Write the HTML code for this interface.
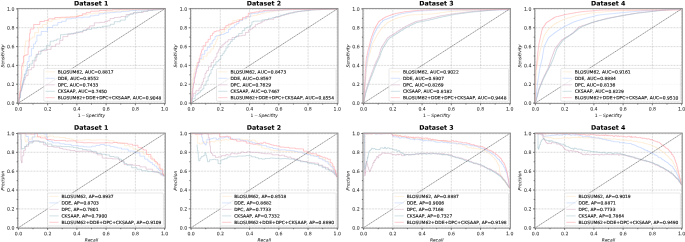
<!DOCTYPE html>
<html><head><meta charset="utf-8"><title>ROC and PR curves</title>
<style>html,body{margin:0;padding:0;background:#fff}
svg{display:block}
.s{filter:blur(0.35px)}
.x{filter:blur(0.12px)}
text{font-family:"DejaVu Sans","Liberation Sans",sans-serif;fill:#141414;text-rendering:geometricPrecision;stroke:#141414;stroke-width:0.13px}
.t{font-size:4.65px;fill:#2e2e2e;stroke:#2e2e2e;stroke-width:0.04px}
.l{font-size:4.45px}
.a{font-size:4.4px;font-style:italic;fill:#2a2a2a;stroke:#2a2a2a;stroke-width:0.05px}
.h{font-size:6.27px;font-weight:bold;fill:#000;stroke:#000;stroke-width:0.06px}
</style></head>
<body>
<svg width="685" height="242" viewBox="0 0 685 242">
<rect width="685" height="242" fill="#fff"/>
<g class="s">
<g><path d="M18.4 8.4V103.6M17.7 8.9H165.3M47.6 8.4V103.6M17.7 27.7H165.3M76.9 8.4V103.6M17.7 46.6H165.3M106.1 8.4V103.6M17.7 65.4H165.3M135.4 8.4V103.6M17.7 84.3H165.3M164.6 8.4V103.6M17.7 103.1H165.3" stroke="#8c8c8c" stroke-width="0.45" stroke-dasharray="0.7 0.8" fill="none"/><path d="M18.4 103.1H18.6V99.9H18.8H19.2V95.2H19.5H19.9V91.2H20.2H20.6V86.1H20.9H21.2V80.5H21.5H21.6V78.5H21.7H21.8V76.9H21.8H22.3V70.2H22.9H23.1V67.0H23.4H23.6V63.8H23.8H24.1V56.3H24.4H24.6V51.9H24.8V45.1H25.6V41.0H26.4H28.9V38.9H31.4H32.2V37.1H32.9H34.6V32.6H36.3H38.4V27.4H40.6H42.5V24.5H44.4H46.9V21.4H49.5H52.1V19.4H54.7H55.7V19.0H56.7H59.8V18.0H63.0H65.6V17.2H68.1H69.9V16.7H71.7H72.5V16.4H73.3H76.7V15.5H80.0H82.2V14.8H84.4H87.3V13.8H90.3H93.7V13.1H97.1H100.1V12.5H103.0H106.6V11.8H110.2H112.2V11.5H114.2H117.4V11.0H120.6H122.8V10.6H125.0H128.6V10.2H132.2H135.6V9.9H139.0H140.0V9.8H141.0H142.2V9.7H143.4H144.8V9.6H146.2H150.0V9.3H153.8H156.0V9.1H158.2H161.0V8.9H163.8H164.6" stroke="#ffe0b8" stroke-width="0.48" fill="none" stroke-linejoin="round"/><path d="M18.4 103.1H19.0V98.4H19.5H19.9V94.5H20.3H20.7V91.0H21.0H21.5V85.9H22.0H22.7V80.8H23.3H24.3V73.9H25.3H26.3V68.8H27.3V61.6H29.0V56.1H30.6H31.4V48.7H32.1H33.6V43.9H35.0H35.5V41.7H35.9H36.9V35.2H37.9H41.2V31.5H44.4H47.4V27.5H50.4H52.7V25.2H55.1H57.8V22.5H60.4H61.7V21.3H63.0H66.1V18.8H69.2H71.8V18.2H74.4H76.0V17.8H77.6H78.6V17.7H79.6H83.0V17.1H86.4H90.1V15.8H93.8H94.8V15.3H95.8H98.9V13.8H102.0H103.9V13.0H105.9H107.1V12.9H108.3H109.9V12.6H111.5H114.7V12.1H117.9H121.3V11.5H124.7H125.7V11.3H126.7H129.2V10.7H131.8H132.8V10.5H133.8H136.8V10.1H139.8H141.6V9.9H143.4H146.8V9.6H150.2H154.0V9.2H157.8H160.2V9.0H162.6H163.6V8.9H164.6" stroke="#a9c4ff" stroke-width="0.48" fill="none" stroke-linejoin="round"/><path d="M18.4 103.1H18.7V99.6H19.1H19.3V97.6H19.5H20.1V92.5H20.6H20.8V91.0H21.0H21.4V88.3H21.7H22.3V84.4H22.8H23.7V79.5H24.7H25.1V77.3H25.5H25.9V75.5H26.3H28.1V69.8H29.9H31.4V67.7H32.8H34.0V61.0H35.1H36.1V54.4H37.2H38.5V51.4H39.8H42.0V50.6H44.1H46.4V49.4H48.7H51.1V46.3H53.4H55.7V44.0H58.1H59.7V40.3H61.2H62.9V36.6H64.6H67.9V34.1H71.3H73.6V33.0H76.0H78.1V32.2H80.3H83.0V30.2H85.8H87.0V28.2H88.2H89.6V25.9H91.0H94.3V22.8H97.6H100.0V22.4H102.4H104.7V21.5H107.0H107.7V20.7H108.3H110.0V18.5H111.7H114.2V17.5H116.8H117.6V17.3H118.4H120.9V16.5H123.5H126.1V14.5H128.8H129.7V13.8H130.6H133.4V12.9H136.1H138.3V12.5H140.5H143.2V11.2H146.0H147.7V10.4H149.5H152.5V9.8H155.4H158.4V9.2H161.4H162.2V9.1H163.0H163.8V8.9H164.6" stroke="#cfa3bb" stroke-width="0.48" fill="none" stroke-linejoin="round"/><path d="M18.4 103.1H19.0V97.6H19.7H20.5V90.2H21.4H21.8V87.1H22.1H22.6V82.8H23.1H23.7V77.7H24.2H24.7V74.3H25.2H26.0V70.7H26.9H27.7V67.5H28.6H29.5V64.0H30.5H32.3V60.3H34.1H35.0V57.1H35.9H37.1V54.1H38.3H40.9V50.2H43.4H44.0V49.1H44.6H46.4V45.4H48.2H50.2V41.2H52.3H54.0V40.3H55.7H56.9V39.0H58.2H60.5V34.7H62.8H64.4V34.3H66.0H67.3V34.0H68.7H70.9V33.4H73.1H76.0V32.2H79.0H80.1V31.5H81.3H83.0V30.4H84.7H86.4V29.4H88.1H91.5V28.0H94.8H97.0V27.3H99.1H102.5V26.3H105.9H107.3V25.9H108.7H110.3V24.3H111.9H114.3V21.7H116.8H120.3V20.1H123.8H125.3V17.0H126.9H127.9V15.1H128.9H130.0V14.1H131.0H133.3V12.6H135.6H137.0V12.2H138.4H141.6V11.2H144.7H148.1V10.3H151.5H152.9V10.0H154.3H155.8V9.7H157.4H160.6V9.0H163.8H164.2V8.9H164.6" stroke="#98bcc6" stroke-width="0.48" fill="none" stroke-linejoin="round"/><path d="M18.4 103.1H18.9V96.8H19.3H19.6V93.2H19.8H20.0V90.8H20.2H20.3V87.6H20.4H20.7V81.2H21.0H21.1V78.1H21.2H21.3V74.5H21.5V70.5V66.5H22.3V63.1H23.2H23.5V55.9H23.9H25.0V55.2H26.0H26.7V54.6H27.4H28.1V47.6H28.8H29.1V40.8H29.4H29.6V33.3H29.8H30.3V29.0H30.8H33.7V24.5H36.6H39.8V21.5H43.1H44.4V20.4H45.7H48.6V18.8H51.5H54.8V17.5H58.1H60.9V17.3H63.7H66.1V17.2H68.5H70.1V17.1H71.7H73.5V17.0H75.3H76.7V16.4H78.0H79.0V15.7H79.9H82.3V13.8H84.7H86.2V12.4H87.6H90.7V11.2H93.8H94.8V11.1H95.8H99.4V10.5H103.0H106.0V10.2H109.0H112.6V9.7H116.2H119.8V9.4H123.4H127.0V9.3H130.6H133.2V9.2H135.8H137.4H140.4V9.1H143.4H146.2H149.8H152.6V9.0H155.4H157.8V8.9H160.2H164.2H164.6" stroke="#ff9098" stroke-width="0.48" fill="none" stroke-linejoin="round"/><path d="M18.4 103.1L164.6 8.9" stroke="#333" stroke-width="0.5" stroke-dasharray="1.6 0.5" fill="none"/><path d="M18.40 8.4v1.3M18.40 103.6v-1.3M17.7 8.90h1.3M165.3 8.90h-1.3M19.86 8.4v1.3M19.86 103.6v-1.3M17.7 9.84h1.3M165.3 9.84h-1.3M21.32 8.4v1.3M21.32 103.6v-1.3M17.7 10.78h1.3M165.3 10.78h-1.3M22.79 8.4v1.3M22.79 103.6v-1.3M17.7 11.73h1.3M165.3 11.73h-1.3M24.25 8.4v1.3M24.25 103.6v-1.3M17.7 12.67h1.3M165.3 12.67h-1.3M25.71 8.4v1.3M25.71 103.6v-1.3M17.7 13.61h1.3M165.3 13.61h-1.3M27.17 8.4v1.3M27.17 103.6v-1.3M17.7 14.55h1.3M165.3 14.55h-1.3M28.63 8.4v1.3M28.63 103.6v-1.3M17.7 15.49h1.3M165.3 15.49h-1.3M30.10 8.4v1.3M30.10 103.6v-1.3M17.7 16.44h1.3M165.3 16.44h-1.3M31.56 8.4v1.3M31.56 103.6v-1.3M17.7 17.38h1.3M165.3 17.38h-1.3M33.02 8.4v1.3M33.02 103.6v-1.3M17.7 18.32h1.3M165.3 18.32h-1.3M34.48 8.4v1.3M34.48 103.6v-1.3M17.7 19.26h1.3M165.3 19.26h-1.3M35.94 8.4v1.3M35.94 103.6v-1.3M17.7 20.20h1.3M165.3 20.20h-1.3M37.41 8.4v1.3M37.41 103.6v-1.3M17.7 21.15h1.3M165.3 21.15h-1.3M38.87 8.4v1.3M38.87 103.6v-1.3M17.7 22.09h1.3M165.3 22.09h-1.3M40.33 8.4v1.3M40.33 103.6v-1.3M17.7 23.03h1.3M165.3 23.03h-1.3M41.79 8.4v1.3M41.79 103.6v-1.3M17.7 23.97h1.3M165.3 23.97h-1.3M43.25 8.4v1.3M43.25 103.6v-1.3M17.7 24.91h1.3M165.3 24.91h-1.3M44.72 8.4v1.3M44.72 103.6v-1.3M17.7 25.86h1.3M165.3 25.86h-1.3M46.18 8.4v1.3M46.18 103.6v-1.3M17.7 26.80h1.3M165.3 26.80h-1.3M47.64 8.4v1.3M47.64 103.6v-1.3M17.7 27.74h1.3M165.3 27.74h-1.3M49.10 8.4v1.3M49.10 103.6v-1.3M17.7 28.68h1.3M165.3 28.68h-1.3M50.56 8.4v1.3M50.56 103.6v-1.3M17.7 29.62h1.3M165.3 29.62h-1.3M52.03 8.4v1.3M52.03 103.6v-1.3M17.7 30.57h1.3M165.3 30.57h-1.3M53.49 8.4v1.3M53.49 103.6v-1.3M17.7 31.51h1.3M165.3 31.51h-1.3M54.95 8.4v1.3M54.95 103.6v-1.3M17.7 32.45h1.3M165.3 32.45h-1.3M56.41 8.4v1.3M56.41 103.6v-1.3M17.7 33.39h1.3M165.3 33.39h-1.3M57.87 8.4v1.3M57.87 103.6v-1.3M17.7 34.33h1.3M165.3 34.33h-1.3M59.34 8.4v1.3M59.34 103.6v-1.3M17.7 35.28h1.3M165.3 35.28h-1.3M60.80 8.4v1.3M60.80 103.6v-1.3M17.7 36.22h1.3M165.3 36.22h-1.3M62.26 8.4v1.3M62.26 103.6v-1.3M17.7 37.16h1.3M165.3 37.16h-1.3M63.72 8.4v1.3M63.72 103.6v-1.3M17.7 38.10h1.3M165.3 38.10h-1.3M65.18 8.4v1.3M65.18 103.6v-1.3M17.7 39.04h1.3M165.3 39.04h-1.3M66.65 8.4v1.3M66.65 103.6v-1.3M17.7 39.99h1.3M165.3 39.99h-1.3M68.11 8.4v1.3M68.11 103.6v-1.3M17.7 40.93h1.3M165.3 40.93h-1.3M69.57 8.4v1.3M69.57 103.6v-1.3M17.7 41.87h1.3M165.3 41.87h-1.3M71.03 8.4v1.3M71.03 103.6v-1.3M17.7 42.81h1.3M165.3 42.81h-1.3M72.49 8.4v1.3M72.49 103.6v-1.3M17.7 43.75h1.3M165.3 43.75h-1.3M73.96 8.4v1.3M73.96 103.6v-1.3M17.7 44.70h1.3M165.3 44.70h-1.3M75.42 8.4v1.3M75.42 103.6v-1.3M17.7 45.64h1.3M165.3 45.64h-1.3M76.88 8.4v1.3M76.88 103.6v-1.3M17.7 46.58h1.3M165.3 46.58h-1.3M78.34 8.4v1.3M78.34 103.6v-1.3M17.7 47.52h1.3M165.3 47.52h-1.3M79.80 8.4v1.3M79.80 103.6v-1.3M17.7 48.46h1.3M165.3 48.46h-1.3M81.27 8.4v1.3M81.27 103.6v-1.3M17.7 49.41h1.3M165.3 49.41h-1.3M82.73 8.4v1.3M82.73 103.6v-1.3M17.7 50.35h1.3M165.3 50.35h-1.3M84.19 8.4v1.3M84.19 103.6v-1.3M17.7 51.29h1.3M165.3 51.29h-1.3M85.65 8.4v1.3M85.65 103.6v-1.3M17.7 52.23h1.3M165.3 52.23h-1.3M87.11 8.4v1.3M87.11 103.6v-1.3M17.7 53.17h1.3M165.3 53.17h-1.3M88.58 8.4v1.3M88.58 103.6v-1.3M17.7 54.12h1.3M165.3 54.12h-1.3M90.04 8.4v1.3M90.04 103.6v-1.3M17.7 55.06h1.3M165.3 55.06h-1.3M91.50 8.4v1.3M91.50 103.6v-1.3M17.7 56.00h1.3M165.3 56.00h-1.3M92.96 8.4v1.3M92.96 103.6v-1.3M17.7 56.94h1.3M165.3 56.94h-1.3M94.42 8.4v1.3M94.42 103.6v-1.3M17.7 57.88h1.3M165.3 57.88h-1.3M95.89 8.4v1.3M95.89 103.6v-1.3M17.7 58.83h1.3M165.3 58.83h-1.3M97.35 8.4v1.3M97.35 103.6v-1.3M17.7 59.77h1.3M165.3 59.77h-1.3M98.81 8.4v1.3M98.81 103.6v-1.3M17.7 60.71h1.3M165.3 60.71h-1.3M100.27 8.4v1.3M100.27 103.6v-1.3M17.7 61.65h1.3M165.3 61.65h-1.3M101.73 8.4v1.3M101.73 103.6v-1.3M17.7 62.59h1.3M165.3 62.59h-1.3M103.20 8.4v1.3M103.20 103.6v-1.3M17.7 63.54h1.3M165.3 63.54h-1.3M104.66 8.4v1.3M104.66 103.6v-1.3M17.7 64.48h1.3M165.3 64.48h-1.3M106.12 8.4v1.3M106.12 103.6v-1.3M17.7 65.42h1.3M165.3 65.42h-1.3M107.58 8.4v1.3M107.58 103.6v-1.3M17.7 66.36h1.3M165.3 66.36h-1.3M109.04 8.4v1.3M109.04 103.6v-1.3M17.7 67.30h1.3M165.3 67.30h-1.3M110.51 8.4v1.3M110.51 103.6v-1.3M17.7 68.25h1.3M165.3 68.25h-1.3M111.97 8.4v1.3M111.97 103.6v-1.3M17.7 69.19h1.3M165.3 69.19h-1.3M113.43 8.4v1.3M113.43 103.6v-1.3M17.7 70.13h1.3M165.3 70.13h-1.3M114.89 8.4v1.3M114.89 103.6v-1.3M17.7 71.07h1.3M165.3 71.07h-1.3M116.35 8.4v1.3M116.35 103.6v-1.3M17.7 72.01h1.3M165.3 72.01h-1.3M117.82 8.4v1.3M117.82 103.6v-1.3M17.7 72.96h1.3M165.3 72.96h-1.3M119.28 8.4v1.3M119.28 103.6v-1.3M17.7 73.90h1.3M165.3 73.90h-1.3M120.74 8.4v1.3M120.74 103.6v-1.3M17.7 74.84h1.3M165.3 74.84h-1.3M122.20 8.4v1.3M122.20 103.6v-1.3M17.7 75.78h1.3M165.3 75.78h-1.3M123.66 8.4v1.3M123.66 103.6v-1.3M17.7 76.72h1.3M165.3 76.72h-1.3M125.13 8.4v1.3M125.13 103.6v-1.3M17.7 77.67h1.3M165.3 77.67h-1.3M126.59 8.4v1.3M126.59 103.6v-1.3M17.7 78.61h1.3M165.3 78.61h-1.3M128.05 8.4v1.3M128.05 103.6v-1.3M17.7 79.55h1.3M165.3 79.55h-1.3M129.51 8.4v1.3M129.51 103.6v-1.3M17.7 80.49h1.3M165.3 80.49h-1.3M130.97 8.4v1.3M130.97 103.6v-1.3M17.7 81.43h1.3M165.3 81.43h-1.3M132.44 8.4v1.3M132.44 103.6v-1.3M17.7 82.38h1.3M165.3 82.38h-1.3M133.90 8.4v1.3M133.90 103.6v-1.3M17.7 83.32h1.3M165.3 83.32h-1.3M135.36 8.4v1.3M135.36 103.6v-1.3M17.7 84.26h1.3M165.3 84.26h-1.3M136.82 8.4v1.3M136.82 103.6v-1.3M17.7 85.20h1.3M165.3 85.20h-1.3M138.28 8.4v1.3M138.28 103.6v-1.3M17.7 86.14h1.3M165.3 86.14h-1.3M139.75 8.4v1.3M139.75 103.6v-1.3M17.7 87.09h1.3M165.3 87.09h-1.3M141.21 8.4v1.3M141.21 103.6v-1.3M17.7 88.03h1.3M165.3 88.03h-1.3M142.67 8.4v1.3M142.67 103.6v-1.3M17.7 88.97h1.3M165.3 88.97h-1.3M144.13 8.4v1.3M144.13 103.6v-1.3M17.7 89.91h1.3M165.3 89.91h-1.3M145.59 8.4v1.3M145.59 103.6v-1.3M17.7 90.85h1.3M165.3 90.85h-1.3M147.06 8.4v1.3M147.06 103.6v-1.3M17.7 91.80h1.3M165.3 91.80h-1.3M148.52 8.4v1.3M148.52 103.6v-1.3M17.7 92.74h1.3M165.3 92.74h-1.3M149.98 8.4v1.3M149.98 103.6v-1.3M17.7 93.68h1.3M165.3 93.68h-1.3M151.44 8.4v1.3M151.44 103.6v-1.3M17.7 94.62h1.3M165.3 94.62h-1.3M152.90 8.4v1.3M152.90 103.6v-1.3M17.7 95.56h1.3M165.3 95.56h-1.3M154.37 8.4v1.3M154.37 103.6v-1.3M17.7 96.51h1.3M165.3 96.51h-1.3M155.83 8.4v1.3M155.83 103.6v-1.3M17.7 97.45h1.3M165.3 97.45h-1.3M157.29 8.4v1.3M157.29 103.6v-1.3M17.7 98.39h1.3M165.3 98.39h-1.3M158.75 8.4v1.3M158.75 103.6v-1.3M17.7 99.33h1.3M165.3 99.33h-1.3M160.21 8.4v1.3M160.21 103.6v-1.3M17.7 100.27h1.3M165.3 100.27h-1.3M161.68 8.4v1.3M161.68 103.6v-1.3M17.7 101.22h1.3M165.3 101.22h-1.3M163.14 8.4v1.3M163.14 103.6v-1.3M17.7 102.16h1.3M165.3 102.16h-1.3M164.60 8.4v1.3M164.60 103.6v-1.3M17.7 103.10h1.3M165.3 103.10h-1.3" stroke="#c2c2c2" stroke-width="0.45" fill="none"/><rect x="17.7" y="8.4" width="147.6" height="95.2" fill="none" stroke="#868686" stroke-width="0.85"/><path d="M18.40 103.6v1.7M17.7 8.90h-1.7M33.02 103.6v1.0M17.7 18.32h-1.0M47.64 103.6v1.7M17.7 27.74h-1.7M62.26 103.6v1.0M17.7 37.16h-1.0M76.88 103.6v1.7M17.7 46.58h-1.7M91.50 103.6v1.0M17.7 56.00h-1.0M106.12 103.6v1.7M17.7 65.42h-1.7M120.74 103.6v1.0M17.7 74.84h-1.0M135.36 103.6v1.7M17.7 84.26h-1.7M149.98 103.6v1.0M17.7 93.68h-1.0M164.60 103.6v1.7M17.7 103.10h-1.7" stroke="#222" stroke-width="0.6" fill="none"/><rect x="43.8" y="68.4" width="119.6" height="32.9" rx="1.2" fill="#fff" fill-opacity="0.8" stroke="#d0d0d0" stroke-width="0.5"/><path d="M45.5 71.9h9.3" stroke="#ffe0b8" stroke-width="0.45"/><path d="M45.5 78.3h9.3" stroke="#a9c4ff" stroke-width="0.45"/><path d="M45.5 84.8h9.3" stroke="#cfa3bb" stroke-width="0.45"/><path d="M45.5 91.3h9.3" stroke="#98bcc6" stroke-width="0.45"/><path d="M45.5 97.7h9.3" stroke="#ff9098" stroke-width="0.45"/></g>
<g><path d="M191.1 8.4V103.6M190.4 8.9H338.0M220.3 8.4V103.6M190.4 27.7H338.0M249.6 8.4V103.6M190.4 46.6H338.0M278.8 8.4V103.6M190.4 65.4H338.0M308.1 8.4V103.6M190.4 84.3H338.0M337.3 8.4V103.6M190.4 103.1H338.0" stroke="#8c8c8c" stroke-width="0.45" stroke-dasharray="0.7 0.8" fill="none"/><path d="M191.1 103.1H191.3V99.1H191.4H191.5V96.3H191.6H191.6V93.9H191.7H191.8V89.1H192.0H192.1V85.9H192.2H192.4V81.5H192.7H192.9V78.8H193.1H193.3V76.8H193.4H193.7V73.2H194.0H194.8V68.7H195.5H195.9V66.8H196.2H196.9V62.6H197.7H199.7V59.4H201.7H203.5V56.2H205.3H207.1V52.9H208.8H209.2V52.0H209.6H210.9V49.0H212.2H213.5V45.0H214.8H215.0V43.9H215.3H215.7V41.7H216.2H216.6V39.4H217.0H217.7V36.1H218.4H219.3V34.0H220.2H221.5V32.0H222.7H224.4V29.2H226.1H226.6V28.4H227.0H227.4V27.5H227.8H228.4V26.4H229.0H229.5V25.2H230.0H230.5V23.9H230.9H232.9V20.5H234.9H237.2V19.6H239.6H240.4V19.3H241.2H242.8V18.8H244.3H245.4V17.9H246.6H247.7V16.9H248.8H250.1V16.0H251.4H253.4V15.4H255.4H257.1V14.5H258.9H260.2V13.8H261.6H262.5V13.2H263.5H264.7V12.7H265.8H266.6V12.3H267.4H269.2V11.7H270.9H273.1V11.0H275.3H276.7V10.8H278.1H278.9V10.7H279.7H280.7V10.5H281.7H283.1V10.2H284.5H286.3V9.9H288.1H290.2V9.6H292.4H295.2H297.7V9.4H300.1H302.1V9.4H304.1H307.3H310.1H313.3H315.5V9.2H317.7H320.5H322.5V9.1H324.5H327.7H329.7H331.5V9.0H333.3H335.3V8.9H337.3" stroke="#ffe0b8" stroke-width="0.48" fill="none" stroke-linejoin="round"/><path d="M191.1 103.1H191.2V101.5H191.3H191.5V98.7H191.7H191.9V96.0H192.1H192.3V91.2H192.6H192.9V86.0H193.2H193.4V83.2H193.6H194.1V78.1H194.6H195.1V73.8H195.5H195.8V71.5H196.2H196.6V68.4H197.0H197.2V66.9H197.5H198.2V62.3H198.9H199.6V58.6H200.3H201.8V54.3H203.3H204.7V50.4H206.1H207.3V47.3H208.6H209.9V43.8H211.3H212.2V40.7H213.2H213.6V39.4H214.1H215.0V36.4H216.0H216.4V35.7H216.9H217.7V35.5H218.5H220.6V34.5H222.7H223.3V34.0H223.8H224.6V33.4H225.3H226.0V32.5H226.6H228.4V29.4H230.2H230.7V27.8H231.3H231.8V27.3H232.4H234.4V24.9H236.4H236.7V23.5H237.1H238.9V20.6H240.7H242.5V18.8H244.3H246.5V16.7H248.6H250.7V13.6H252.7H254.5V13.2H256.3H258.7V12.3H261.0H261.6V12.0H262.2H264.3V11.1H266.5H268.1V10.9H269.7H271.9V10.7H274.1H274.9V10.6H275.7H277.9V10.3H280.1H282.7V9.9H285.3H285.9V9.9H286.5H287.7V9.8H288.9H290.7V9.7H292.5H294.9V9.6H297.3H299.3H301.3H303.7H305.7V9.5H307.7H309.9V9.4H312.1H313.5V9.3H314.9H316.3V9.3H317.7H319.1V9.2H320.5H321.9V9.2H323.3H324.7V9.1H326.1H327.7H329.3V9.0H330.9H333.7V8.9H336.5H337.3" stroke="#a9c4ff" stroke-width="0.48" fill="none" stroke-linejoin="round"/><path d="M191.1 103.1H191.7V98.8H192.2H192.5V96.9H192.7H193.4V93.3H194.1H195.9V90.7H197.7H199.1V88.0H200.5H201.1V85.0H201.6H202.2V82.0H202.7H203.4V78.3H204.1H205.0V73.4H205.9H206.2V71.9H206.5H206.9V70.5H207.3H208.5V66.8H209.7H211.2V62.5H212.6H213.5V59.9H214.4H215.2V57.1H216.0H216.8V53.0H217.7H218.1V51.2H218.5H218.9V49.0H219.4H220.0V47.4H220.6H221.9V44.9H223.2H224.0V43.2H224.9H225.6V41.8H226.3H228.0V39.7H229.7H232.0V37.5H234.4H235.5V36.6H236.6H238.8V35.8H240.9H242.3V35.3H243.7H245.4V32.5H247.2H248.4V30.0H249.7H250.7V28.9H251.8H252.6V27.7H253.4H253.8V26.8H254.2H255.4V24.6H256.5H257.8V23.5H259.1H260.0V22.8H260.9H262.1V21.2H263.3H264.3V20.1H265.4H267.5V19.5H269.7H270.5V19.3H271.3H273.9V17.4H276.6H278.1V16.3H279.6H281.3V15.3H283.0H284.6V14.3H286.1H288.4V13.0H290.7H293.1V12.0H295.4H297.2V11.5H299.0H300.6V11.1H302.2H304.3V10.6H306.5H308.9V10.0H311.3H312.7V9.9H314.1H316.3V9.7H318.5H321.1V9.5H323.7H325.3V9.3H326.9H327.9V9.3H328.9H329.9V9.2H330.9H333.1V9.0H335.3H336.3V8.9H337.3" stroke="#cfa3bb" stroke-width="0.48" fill="none" stroke-linejoin="round"/><path d="M191.1 103.1H192.5V98.7H193.8H195.2V94.8H196.6H197.4V93.5H198.1H198.9V92.2H199.7H200.5V90.5H201.4H202.0V88.9H202.5H203.8V85.3H205.0H206.1V80.9H207.1H208.1V76.1H209.1H209.5V73.9H210.0H211.0V69.6H212.0H212.5V67.4H213.0H213.7V64.9H214.3H215.9V61.8H217.4H218.0V60.7H218.6H219.0V59.4H219.5H220.8V55.4H222.1H222.8V53.3H223.5H224.2V51.0H224.9H225.9V47.9H226.9H227.9V44.5H229.0H229.3V43.5H229.6H230.4V41.6H231.1H232.2V39.4H233.4H234.6V37.2H235.8H236.5V35.9H237.2H238.6V33.6H240.0H242.2V30.6H244.3H244.7V28.0H245.2H246.8V27.2H248.4H249.2V27.0H250.0H250.5V25.2H251.0H251.9V21.9H252.8H253.5V21.2H254.2H256.8V21.1H259.4H261.9V19.9H264.4H265.1V19.5H265.9H268.4V18.3H271.0H272.3V17.6H273.7H275.8V16.5H278.0H280.1V15.3H282.2H283.3V14.6H284.5H286.4V13.6H288.4H290.3V12.8H292.3H294.7V11.9H297.0H298.2V11.4H299.4H301.6V10.9H303.7H306.3V10.3H308.9H310.9V9.9H312.9H314.7V9.6H316.5H317.3V9.6H318.1H319.7V9.5H321.3H322.7V9.4H324.1H326.3V9.2H328.5H330.5V9.1H332.5H334.3V8.9H336.1H337.3" stroke="#98bcc6" stroke-width="0.48" fill="none" stroke-linejoin="round"/><path d="M191.1 103.1H191.4V99.1H191.7H191.9V95.1H192.1H192.2V93.2H192.3H192.7V88.0H193.0H193.4V84.1H193.7H193.9V82.5H194.0H194.4V77.3H194.9H195.0V75.8H195.2H195.4V73.4H195.7H196.1V69.1H196.6H197.0V65.6H197.5H198.0V62.2H198.5H199.1V58.3H199.7H200.1V55.2H200.5H200.8V52.9H201.1H201.4V51.0H201.7H201.9V49.4H202.1H203.2V45.7H204.4H205.7V42.2H207.0H208.1V39.3H209.1H210.4V35.6H211.6H212.4V33.3H213.2H214.0V31.6H214.8H216.1V30.9H217.5H219.8V29.7H222.1H222.7V29.4H223.3H224.4V27.5H225.4H225.8V25.6H226.3H228.3V24.2H230.4H231.7V23.2H233.0H234.1V22.3H235.2H236.5V21.5H237.9H239.3V19.8H240.7H242.5V17.5H244.3H245.6V16.4H246.9H248.3V13.1H249.8H250.6V12.8H251.4H252.6V12.4H253.7H254.5V12.2H255.3H256.1V11.9H256.9H259.1V11.1H261.2H263.4V10.5H265.6H266.6V10.4H267.6H268.6V10.3H269.6H271.0V10.2H272.4H274.6V10.0H276.8H279.2V9.8H281.6H283.8V9.6H286.0H287.8V9.5H289.6H291.2H294.0H296.0H299.6H303.2H305.2H307.6H309.9V9.2H312.1H313.3H315.7V9.2H318.1H320.7V9.1H323.3H325.9V9.0H328.5H331.3H334.9H337.3" stroke="#ff9098" stroke-width="0.48" fill="none" stroke-linejoin="round"/><path d="M191.1 103.1L337.3 8.9" stroke="#333" stroke-width="0.5" stroke-dasharray="1.6 0.5" fill="none"/><path d="M191.10 8.4v1.3M191.10 103.6v-1.3M190.4 8.90h1.3M338.0 8.90h-1.3M192.56 8.4v1.3M192.56 103.6v-1.3M190.4 9.84h1.3M338.0 9.84h-1.3M194.02 8.4v1.3M194.02 103.6v-1.3M190.4 10.78h1.3M338.0 10.78h-1.3M195.49 8.4v1.3M195.49 103.6v-1.3M190.4 11.73h1.3M338.0 11.73h-1.3M196.95 8.4v1.3M196.95 103.6v-1.3M190.4 12.67h1.3M338.0 12.67h-1.3M198.41 8.4v1.3M198.41 103.6v-1.3M190.4 13.61h1.3M338.0 13.61h-1.3M199.87 8.4v1.3M199.87 103.6v-1.3M190.4 14.55h1.3M338.0 14.55h-1.3M201.33 8.4v1.3M201.33 103.6v-1.3M190.4 15.49h1.3M338.0 15.49h-1.3M202.80 8.4v1.3M202.80 103.6v-1.3M190.4 16.44h1.3M338.0 16.44h-1.3M204.26 8.4v1.3M204.26 103.6v-1.3M190.4 17.38h1.3M338.0 17.38h-1.3M205.72 8.4v1.3M205.72 103.6v-1.3M190.4 18.32h1.3M338.0 18.32h-1.3M207.18 8.4v1.3M207.18 103.6v-1.3M190.4 19.26h1.3M338.0 19.26h-1.3M208.64 8.4v1.3M208.64 103.6v-1.3M190.4 20.20h1.3M338.0 20.20h-1.3M210.11 8.4v1.3M210.11 103.6v-1.3M190.4 21.15h1.3M338.0 21.15h-1.3M211.57 8.4v1.3M211.57 103.6v-1.3M190.4 22.09h1.3M338.0 22.09h-1.3M213.03 8.4v1.3M213.03 103.6v-1.3M190.4 23.03h1.3M338.0 23.03h-1.3M214.49 8.4v1.3M214.49 103.6v-1.3M190.4 23.97h1.3M338.0 23.97h-1.3M215.95 8.4v1.3M215.95 103.6v-1.3M190.4 24.91h1.3M338.0 24.91h-1.3M217.42 8.4v1.3M217.42 103.6v-1.3M190.4 25.86h1.3M338.0 25.86h-1.3M218.88 8.4v1.3M218.88 103.6v-1.3M190.4 26.80h1.3M338.0 26.80h-1.3M220.34 8.4v1.3M220.34 103.6v-1.3M190.4 27.74h1.3M338.0 27.74h-1.3M221.80 8.4v1.3M221.80 103.6v-1.3M190.4 28.68h1.3M338.0 28.68h-1.3M223.26 8.4v1.3M223.26 103.6v-1.3M190.4 29.62h1.3M338.0 29.62h-1.3M224.73 8.4v1.3M224.73 103.6v-1.3M190.4 30.57h1.3M338.0 30.57h-1.3M226.19 8.4v1.3M226.19 103.6v-1.3M190.4 31.51h1.3M338.0 31.51h-1.3M227.65 8.4v1.3M227.65 103.6v-1.3M190.4 32.45h1.3M338.0 32.45h-1.3M229.11 8.4v1.3M229.11 103.6v-1.3M190.4 33.39h1.3M338.0 33.39h-1.3M230.57 8.4v1.3M230.57 103.6v-1.3M190.4 34.33h1.3M338.0 34.33h-1.3M232.04 8.4v1.3M232.04 103.6v-1.3M190.4 35.28h1.3M338.0 35.28h-1.3M233.50 8.4v1.3M233.50 103.6v-1.3M190.4 36.22h1.3M338.0 36.22h-1.3M234.96 8.4v1.3M234.96 103.6v-1.3M190.4 37.16h1.3M338.0 37.16h-1.3M236.42 8.4v1.3M236.42 103.6v-1.3M190.4 38.10h1.3M338.0 38.10h-1.3M237.88 8.4v1.3M237.88 103.6v-1.3M190.4 39.04h1.3M338.0 39.04h-1.3M239.35 8.4v1.3M239.35 103.6v-1.3M190.4 39.99h1.3M338.0 39.99h-1.3M240.81 8.4v1.3M240.81 103.6v-1.3M190.4 40.93h1.3M338.0 40.93h-1.3M242.27 8.4v1.3M242.27 103.6v-1.3M190.4 41.87h1.3M338.0 41.87h-1.3M243.73 8.4v1.3M243.73 103.6v-1.3M190.4 42.81h1.3M338.0 42.81h-1.3M245.19 8.4v1.3M245.19 103.6v-1.3M190.4 43.75h1.3M338.0 43.75h-1.3M246.66 8.4v1.3M246.66 103.6v-1.3M190.4 44.70h1.3M338.0 44.70h-1.3M248.12 8.4v1.3M248.12 103.6v-1.3M190.4 45.64h1.3M338.0 45.64h-1.3M249.58 8.4v1.3M249.58 103.6v-1.3M190.4 46.58h1.3M338.0 46.58h-1.3M251.04 8.4v1.3M251.04 103.6v-1.3M190.4 47.52h1.3M338.0 47.52h-1.3M252.50 8.4v1.3M252.50 103.6v-1.3M190.4 48.46h1.3M338.0 48.46h-1.3M253.97 8.4v1.3M253.97 103.6v-1.3M190.4 49.41h1.3M338.0 49.41h-1.3M255.43 8.4v1.3M255.43 103.6v-1.3M190.4 50.35h1.3M338.0 50.35h-1.3M256.89 8.4v1.3M256.89 103.6v-1.3M190.4 51.29h1.3M338.0 51.29h-1.3M258.35 8.4v1.3M258.35 103.6v-1.3M190.4 52.23h1.3M338.0 52.23h-1.3M259.81 8.4v1.3M259.81 103.6v-1.3M190.4 53.17h1.3M338.0 53.17h-1.3M261.28 8.4v1.3M261.28 103.6v-1.3M190.4 54.12h1.3M338.0 54.12h-1.3M262.74 8.4v1.3M262.74 103.6v-1.3M190.4 55.06h1.3M338.0 55.06h-1.3M264.20 8.4v1.3M264.20 103.6v-1.3M190.4 56.00h1.3M338.0 56.00h-1.3M265.66 8.4v1.3M265.66 103.6v-1.3M190.4 56.94h1.3M338.0 56.94h-1.3M267.12 8.4v1.3M267.12 103.6v-1.3M190.4 57.88h1.3M338.0 57.88h-1.3M268.59 8.4v1.3M268.59 103.6v-1.3M190.4 58.83h1.3M338.0 58.83h-1.3M270.05 8.4v1.3M270.05 103.6v-1.3M190.4 59.77h1.3M338.0 59.77h-1.3M271.51 8.4v1.3M271.51 103.6v-1.3M190.4 60.71h1.3M338.0 60.71h-1.3M272.97 8.4v1.3M272.97 103.6v-1.3M190.4 61.65h1.3M338.0 61.65h-1.3M274.43 8.4v1.3M274.43 103.6v-1.3M190.4 62.59h1.3M338.0 62.59h-1.3M275.90 8.4v1.3M275.90 103.6v-1.3M190.4 63.54h1.3M338.0 63.54h-1.3M277.36 8.4v1.3M277.36 103.6v-1.3M190.4 64.48h1.3M338.0 64.48h-1.3M278.82 8.4v1.3M278.82 103.6v-1.3M190.4 65.42h1.3M338.0 65.42h-1.3M280.28 8.4v1.3M280.28 103.6v-1.3M190.4 66.36h1.3M338.0 66.36h-1.3M281.74 8.4v1.3M281.74 103.6v-1.3M190.4 67.30h1.3M338.0 67.30h-1.3M283.21 8.4v1.3M283.21 103.6v-1.3M190.4 68.25h1.3M338.0 68.25h-1.3M284.67 8.4v1.3M284.67 103.6v-1.3M190.4 69.19h1.3M338.0 69.19h-1.3M286.13 8.4v1.3M286.13 103.6v-1.3M190.4 70.13h1.3M338.0 70.13h-1.3M287.59 8.4v1.3M287.59 103.6v-1.3M190.4 71.07h1.3M338.0 71.07h-1.3M289.05 8.4v1.3M289.05 103.6v-1.3M190.4 72.01h1.3M338.0 72.01h-1.3M290.52 8.4v1.3M290.52 103.6v-1.3M190.4 72.96h1.3M338.0 72.96h-1.3M291.98 8.4v1.3M291.98 103.6v-1.3M190.4 73.90h1.3M338.0 73.90h-1.3M293.44 8.4v1.3M293.44 103.6v-1.3M190.4 74.84h1.3M338.0 74.84h-1.3M294.90 8.4v1.3M294.90 103.6v-1.3M190.4 75.78h1.3M338.0 75.78h-1.3M296.36 8.4v1.3M296.36 103.6v-1.3M190.4 76.72h1.3M338.0 76.72h-1.3M297.83 8.4v1.3M297.83 103.6v-1.3M190.4 77.67h1.3M338.0 77.67h-1.3M299.29 8.4v1.3M299.29 103.6v-1.3M190.4 78.61h1.3M338.0 78.61h-1.3M300.75 8.4v1.3M300.75 103.6v-1.3M190.4 79.55h1.3M338.0 79.55h-1.3M302.21 8.4v1.3M302.21 103.6v-1.3M190.4 80.49h1.3M338.0 80.49h-1.3M303.67 8.4v1.3M303.67 103.6v-1.3M190.4 81.43h1.3M338.0 81.43h-1.3M305.14 8.4v1.3M305.14 103.6v-1.3M190.4 82.38h1.3M338.0 82.38h-1.3M306.60 8.4v1.3M306.60 103.6v-1.3M190.4 83.32h1.3M338.0 83.32h-1.3M308.06 8.4v1.3M308.06 103.6v-1.3M190.4 84.26h1.3M338.0 84.26h-1.3M309.52 8.4v1.3M309.52 103.6v-1.3M190.4 85.20h1.3M338.0 85.20h-1.3M310.98 8.4v1.3M310.98 103.6v-1.3M190.4 86.14h1.3M338.0 86.14h-1.3M312.45 8.4v1.3M312.45 103.6v-1.3M190.4 87.09h1.3M338.0 87.09h-1.3M313.91 8.4v1.3M313.91 103.6v-1.3M190.4 88.03h1.3M338.0 88.03h-1.3M315.37 8.4v1.3M315.37 103.6v-1.3M190.4 88.97h1.3M338.0 88.97h-1.3M316.83 8.4v1.3M316.83 103.6v-1.3M190.4 89.91h1.3M338.0 89.91h-1.3M318.29 8.4v1.3M318.29 103.6v-1.3M190.4 90.85h1.3M338.0 90.85h-1.3M319.76 8.4v1.3M319.76 103.6v-1.3M190.4 91.80h1.3M338.0 91.80h-1.3M321.22 8.4v1.3M321.22 103.6v-1.3M190.4 92.74h1.3M338.0 92.74h-1.3M322.68 8.4v1.3M322.68 103.6v-1.3M190.4 93.68h1.3M338.0 93.68h-1.3M324.14 8.4v1.3M324.14 103.6v-1.3M190.4 94.62h1.3M338.0 94.62h-1.3M325.60 8.4v1.3M325.60 103.6v-1.3M190.4 95.56h1.3M338.0 95.56h-1.3M327.07 8.4v1.3M327.07 103.6v-1.3M190.4 96.51h1.3M338.0 96.51h-1.3M328.53 8.4v1.3M328.53 103.6v-1.3M190.4 97.45h1.3M338.0 97.45h-1.3M329.99 8.4v1.3M329.99 103.6v-1.3M190.4 98.39h1.3M338.0 98.39h-1.3M331.45 8.4v1.3M331.45 103.6v-1.3M190.4 99.33h1.3M338.0 99.33h-1.3M332.91 8.4v1.3M332.91 103.6v-1.3M190.4 100.27h1.3M338.0 100.27h-1.3M334.38 8.4v1.3M334.38 103.6v-1.3M190.4 101.22h1.3M338.0 101.22h-1.3M335.84 8.4v1.3M335.84 103.6v-1.3M190.4 102.16h1.3M338.0 102.16h-1.3M337.30 8.4v1.3M337.30 103.6v-1.3M190.4 103.10h1.3M338.0 103.10h-1.3" stroke="#c2c2c2" stroke-width="0.45" fill="none"/><rect x="190.4" y="8.4" width="147.6" height="95.2" fill="none" stroke="#868686" stroke-width="0.85"/><path d="M191.10 103.6v1.7M190.4 8.90h-1.7M205.72 103.6v1.0M190.4 18.32h-1.0M220.34 103.6v1.7M190.4 27.74h-1.7M234.96 103.6v1.0M190.4 37.16h-1.0M249.58 103.6v1.7M190.4 46.58h-1.7M264.20 103.6v1.0M190.4 56.00h-1.0M278.82 103.6v1.7M190.4 65.42h-1.7M293.44 103.6v1.0M190.4 74.84h-1.0M308.06 103.6v1.7M190.4 84.26h-1.7M322.68 103.6v1.0M190.4 93.68h-1.0M337.30 103.6v1.7M190.4 103.10h-1.7" stroke="#222" stroke-width="0.6" fill="none"/><rect x="216.5" y="68.4" width="119.6" height="32.9" rx="1.2" fill="#fff" fill-opacity="0.8" stroke="#d0d0d0" stroke-width="0.5"/><path d="M218.2 71.9h9.3" stroke="#ffe0b8" stroke-width="0.45"/><path d="M218.2 78.3h9.3" stroke="#a9c4ff" stroke-width="0.45"/><path d="M218.2 84.8h9.3" stroke="#cfa3bb" stroke-width="0.45"/><path d="M218.2 91.3h9.3" stroke="#98bcc6" stroke-width="0.45"/><path d="M218.2 97.7h9.3" stroke="#ff9098" stroke-width="0.45"/></g>
<g><path d="M363.6 8.4V103.6M362.9 8.9H510.5M392.8 8.4V103.6M362.9 27.7H510.5M422.1 8.4V103.6M362.9 46.6H510.5M451.3 8.4V103.6M362.9 65.4H510.5M480.6 8.4V103.6M362.9 84.3H510.5M509.8 8.4V103.6M362.9 103.1H510.5" stroke="#8c8c8c" stroke-width="0.45" stroke-dasharray="0.7 0.8" fill="none"/><path d="M363.6 103.1H363.6V101.9H363.7H363.8V99.9H363.8H363.9V98.3H364.0H364.0V97.5H364.0H364.1V95.9H364.2H364.2V94.7H364.3H364.3V93.5H364.3H364.4V91.9H364.5V91.5H364.7V89.9H364.7H364.8V88.3H364.9H365.0V87.1H365.0H365.1V85.9H365.2H365.2V84.8H365.3H365.3V84.0H365.4H365.4V82.8H365.5V82.4H365.5V81.2H365.6H365.6V80.0H365.7H365.7V78.8H365.8H365.8V77.6H365.9H366.0V75.6H366.0H366.1V73.6H366.2V73.2H366.3V71.6H366.3H366.4V70.4H366.4V70.0H366.5V69.2H366.5H366.6V68.4H366.6H366.7V68.0H366.7H366.8V66.8H366.9H367.0V64.8H367.2H367.3V64.0H367.3H367.4V62.4H367.6H367.7V60.9H367.8H367.8V60.5H367.9H368.1V58.9H368.2H368.4V57.8H368.6H368.8V55.8H369.1H369.3V54.3H369.5H369.8V52.7H370.0H370.1V52.0H370.2H370.4V50.4H370.6H370.9V48.5H371.2H371.4V47.0H371.6H371.8V45.8H371.9H372.1V44.3H372.4H372.6V43.2H372.9H373.0V42.8H373.1H373.2V42.5H373.3H373.4V42.1H373.4H373.6V41.4H373.8H373.9V41.0H374.0H374.3V40.0H374.5H374.9V38.5H375.3H375.5V37.5H375.8H376.1V36.4H376.3H376.7V35.0H377.1H377.3V34.3H377.6H377.9V33.3H378.2H378.7V32.0H379.1H379.3V31.3H379.5H379.7V30.6H380.0H380.5V29.0H381.1H381.7V27.8H382.2H382.5V27.3H382.8H383.1V26.7H383.4H383.8V25.9H384.2H384.6V25.0H385.1H385.4V24.5H385.6H385.8V24.2H385.9H386.2V23.6H386.5H387.1V22.5H387.7H387.8V22.3H388.0H388.6V21.8H389.1H389.5V21.5H389.8H390.2V21.1H390.5H390.7V20.9H390.9H391.2V20.6H391.6H391.8V20.4H392.0H392.1V20.2H392.3H392.5V20.0H392.7H392.9V19.9H393.0H393.6V19.3H394.1H394.3V19.2H394.5H394.7V19.0H394.8H395.4V18.5H395.9H396.3V18.2H396.7H397.5V17.8H398.2H398.4V17.7H398.6H399.0V17.5H399.4H399.8V17.3H400.2H400.4V17.2H400.6H401.5V16.7H402.5H402.9V16.5H403.3H403.5V16.4H403.7H404.2V16.1H404.8H405.0V16.0H405.2H405.8V15.7H406.4H406.8V15.5H407.2H407.4V15.4H407.6H407.7V15.3H407.9H408.7V15.0H409.5H410.3H411.1V14.9H411.9H412.5V14.8H413.1H414.1V14.7H415.1H415.9H416.7H417.5H418.3V14.6H419.1H419.7V14.5H420.3H421.1H421.5H422.3V14.4H423.1H424.1V14.3H425.1H425.7V14.2H426.3H426.7H427.1H427.5H427.9H428.3H428.7H429.5V14.0H430.3H431.3V13.9H432.3H433.1H434.1V13.6H435.1H435.7V13.4H436.3H437.1V13.2H437.9H438.9V12.9H439.9H440.8V12.7H441.8H442.0V12.6H442.2H442.6V12.5H443.0H443.6V12.3H444.2H445.2V12.0H446.2H446.4V12.0H446.6H447.0V11.9H447.4H448.2V11.7H449.0H449.4H449.8V11.6H450.2H450.6V11.6H451.0H451.8V11.5H452.6H453.6V11.3H454.6H455.0H455.8V11.2H456.6H457.4V11.1H458.2H459.0V11.0H459.8H460.4V10.9H461.0H462.0V10.8H463.0H463.4V10.7H463.8H464.4V10.6H465.0H465.4V10.6H465.8H466.6V10.5H467.4H468.0V10.4H468.6H469.0V10.4H469.4H469.8H470.6V10.2H471.4H472.0V10.1H472.6H473.4V10.0H474.2H475.0H476.2H476.6H477.4V9.9H478.2H478.6H479.8H480.6V9.8H481.4H482.2V9.8H483.0H483.4H484.2H485.0V9.7H485.8H487.0H487.8V9.6H488.6H489.4V9.5H490.2H491.4H492.4V9.4H493.4H494.2V9.4H495.0H495.8H496.6H497.0H497.8H498.8V9.2H499.8H500.2H501.4H501.8H502.2H503.0V9.1H503.8H504.6H505.0H505.4H506.6H507.8H508.2H509.0H509.8" stroke="#ffe0b8" stroke-width="0.48" fill="none" stroke-linejoin="round"/><path d="M363.6 103.1V102.3H363.7V101.1H363.7H363.8V99.9H363.8H363.8V98.3H363.9H363.9V97.1H364.0H364.0V95.5H364.1H364.1V94.3H364.1H364.2V93.5H364.2H364.2V92.7H364.3V92.3H364.4V90.7H364.5V90.3V89.9H364.6V87.9H364.7H364.8V87.1H364.8H364.9V85.1H365.0V84.7H365.1V83.5H365.1H365.1V82.7H365.2H365.2V81.1H365.3H365.3V79.9H365.4H365.4V78.7H365.4H365.5V77.1H365.5H365.6V75.5H365.7H365.7V74.7H365.7H365.7V73.5H365.8H365.8V72.3H365.9V71.9H366.0V70.3H366.0H366.0V69.1H366.1H366.2V67.6H366.3H366.3V66.8H366.4H366.5V65.6H366.5H366.6V64.4H366.7H366.8V62.8H366.9V62.4H367.0V61.6H367.0H367.1V60.4H367.2V60.0H367.3V58.8H367.5H367.6V57.3H367.8H367.9V56.1H368.1H368.2V54.5H368.4H368.5V53.3H368.7H368.8V52.6H368.9H368.9V51.8H369.0H369.2V49.8H369.5H369.5V49.0H369.6H369.8V47.9H369.9H369.9V47.5H370.0H370.1V46.7H370.2H370.2V46.3H370.3H370.5V44.4H370.8H371.0V42.8H371.3H371.5V41.3H371.7H372.0V39.4H372.3H372.4V38.2H372.6H372.9V36.3H373.2H373.4V35.2H373.6H373.9V34.1H374.1H374.6V32.3H375.0H375.5V30.5H375.9H376.4V28.7H376.8H377.1V27.7H377.3H377.8V26.3H378.2H378.5V25.7H378.7H379.4V24.2H380.0H380.6V22.6H381.3H381.6V22.0H381.8H382.5V20.5H383.1H383.5V20.2H383.8H384.0V20.0H384.2H384.9V19.4H385.7H386.1V19.2H386.4H387.0V18.7H387.6H388.1V18.3H388.7H388.9V18.2H389.1H389.8V17.6H390.5H390.9V17.3H391.3H391.9V16.9H392.4H392.8V16.6H393.2H393.9V16.0H394.7H395.4V15.5H396.2H396.6V15.2H396.9H397.1V15.1H397.3H397.7V14.8H398.1H398.4V14.5H398.8H399.0V14.4H399.2H399.4V14.3H399.6H400.3V13.8H401.1H401.9V13.5H402.7H403.7V13.2H404.7H405.6V12.8H406.6H407.4V12.6H408.2H408.6V12.4H409.0H409.2V12.4H409.4H409.8V12.2H410.2H410.8V12.0H411.4H412.0V11.8H412.5H413.1V11.6H413.7H414.1V11.5H414.5H415.3V11.2H416.1H416.5V11.2H416.9H417.5V11.1H418.1H419.1V11.0H420.1H420.9V10.9H421.7H422.1V10.8H422.5H422.9V10.8H423.3H424.1V10.7H424.9H425.3H425.7H426.3V10.6H426.9H427.5V10.5H428.1H428.5H428.9H429.3V10.4H429.7H430.5V10.3H431.3H431.9V10.2H432.5H433.5V10.1H434.5H435.3V10.0H436.1H437.1V9.9H438.1H438.5H439.3H439.7H440.9H441.7H442.1H443.3H443.7H444.5H445.3H446.9H448.1H448.9H449.3H450.5H451.7H453.3H455.3H456.9H457.7H458.1H459.7H461.3H462.5H464.1H465.3H466.1H466.5H466.9H468.1H470.1H472.1H473.3H475.0H477.0H478.6H479.8H481.0H482.2H482.6H483.4H485.0H487.0H488.2H489.0H489.8H491.0H492.6H493.8H495.8H496.2H497.0H498.2H499.4H501.0H502.6H504.6H505.8H506.2H507.4H508.6H509.8" stroke="#a9c4ff" stroke-width="0.48" fill="none" stroke-linejoin="round"/><path d="M363.6 103.1H363.7V102.3H363.7H363.9V100.7H364.0H364.2V98.8H364.4H364.4V98.4H364.4H364.6V96.8H364.7H364.8V96.0H364.9H365.0V94.8H365.1H365.3V92.9H365.4H365.6V90.9H365.8H366.0V89.7H366.1H366.3V89.0H366.4H366.7V87.1H367.0H367.1V86.3H367.2H367.4V85.5H367.5H367.7V84.0H368.0H368.1V83.2H368.2H368.3V82.5H368.4H368.7V80.6H369.0H369.4V78.7H369.7H369.9V77.9H370.0H370.1V77.2H370.3H370.4V76.4H370.6H370.6V76.1H370.7H370.8V75.3H371.0H371.3V73.4H371.7H371.7V73.1H371.8H371.9V72.3H372.1H372.2V71.6H372.4H372.4V71.2H372.5H372.7V70.1H372.9H373.2V68.6H373.5H373.8V67.1H374.0H374.2V65.9H374.5H374.7V64.4H375.0H375.1V64.1H375.2H375.3V63.3H375.4H375.8V61.5H376.3H376.4V61.1H376.4H376.6V60.4H376.8H377.1V59.3H377.3H377.5V58.6H377.7H377.9V57.5H378.2H378.3V57.2H378.4H378.5V56.5H378.7H379.0V54.5H379.3H379.3V54.1H379.4H379.7V52.2H379.9H380.1V51.5H380.2H380.4V49.5H380.7H381.0V48.0H381.3H381.6V47.0H381.9H382.0V46.7H382.1H382.2V46.3H382.3H382.7V45.0H383.1H383.2V44.6H383.4H383.6V43.9H383.8H384.2V42.6H384.6H385.0V41.2H385.4H385.5V40.9H385.7H386.2V39.2H386.7H387.0V38.1H387.3H387.6V37.6H387.8H388.0V37.4H388.2H388.5V36.9H388.9H389.7V35.9H390.6H390.9V35.5H391.3H391.4V35.3H391.6H391.8V35.1H391.9H392.1V34.8H392.3H392.6V34.4H393.0H393.8V33.4H394.7H394.8V33.2H395.0H395.4V32.8H395.7H396.5V31.7H397.4H398.2V30.6H399.1H399.9V29.5H400.8H401.1V29.1H401.4H401.8V28.6H402.1H402.9V27.6H403.8H404.3V26.9H404.8H405.5V26.2H406.2H406.6V25.8H406.9H407.1V25.7H407.3H407.7V25.3H408.0H408.7V24.6H409.5H410.2V23.9H410.9H411.4V23.4H412.0H412.5V22.9H413.1H413.6V22.3H414.1H414.7V21.8H415.2H415.8V21.4H416.3H417.1V21.1H417.9H418.3V20.9H418.7H419.3V20.7H419.9H420.8V20.2H421.8H422.6V19.9H423.4H423.8V19.7H424.2H425.2V19.3H426.1H426.9V19.0H427.7H427.9V18.9H428.1H428.5V18.7H428.9H429.2V18.5H429.6H429.8V18.4H430.0H431.0V17.9H432.0H432.4V17.7H432.7H433.5V17.4H434.3H434.5V17.3H434.7H434.9V17.2H435.1H435.9V16.8H436.6H437.4V16.4H438.2H439.2V16.0H440.1H440.9V15.7H441.7H442.3V15.5H442.9H443.7V15.3H444.5H444.7V15.2H444.9H445.5V15.0H446.1H446.7V14.8H447.3H447.5V14.7H447.7H448.2V14.5H448.8H449.2V14.4H449.6H450.2V14.2H450.8H451.2V14.1H451.6H452.0V14.0H452.4H452.8V13.8H453.2H453.8V13.7H454.4H455.4V13.4H456.4H457.4V13.2H458.3H459.1V13.0H459.9H460.7V12.8H461.5H461.9V12.7H462.3H463.3V12.4H464.3H464.7V12.3H465.1H465.3V12.3H465.5H466.1V12.1H466.7H467.5V11.9H468.3H468.7V11.8H469.1H469.7V11.7H470.3H470.7V11.6H471.1H472.1V11.5H473.1H473.7V11.4H474.3H474.9V11.3H475.5H476.1V11.2H476.7H477.5V11.1H478.2H479.2V10.9H480.2H480.8V10.8H481.4H482.0V10.7H482.6H483.2V10.6H483.8H484.2H484.8V10.5H485.4H486.2V10.4H487.0H487.8V10.3H488.6H489.0H489.8V10.1H490.6H491.0V10.0H491.4H492.4V9.9H493.4H494.2H495.0H495.6V9.7H496.2H497.2V9.6H498.2H498.8V9.5H499.4H500.2V9.4H501.0H501.8V9.3H502.6H503.4H504.2H504.8V9.2H505.4H506.2H507.0H507.8V9.0H508.6H509.2V8.9H509.8" stroke="#cfa3bb" stroke-width="0.48" fill="none" stroke-linejoin="round"/><path d="M363.6 103.1H363.7V101.9H363.9H363.9V101.5H363.9H364.0V100.8H364.1H364.2V100.0H364.3H364.4V98.8H364.5H364.6V98.4H364.6H364.7V98.0H364.7H364.8V97.2H364.9H365.0V96.5H365.1H365.1V96.1H365.1H365.3V94.9H365.4H365.6V92.9H365.8H366.0V91.8H366.1H366.4V90.2H366.6H366.9V88.7H367.1H367.4V87.2H367.6H368.0V85.3H368.3H368.5V84.2H368.7H368.9V82.7H369.2H369.2V82.3H369.3H369.6V80.8H369.8H370.0V80.0H370.1H370.3V78.9H370.6H370.9V77.0H371.3H371.4V76.3H371.6H371.7V75.6H371.9H372.2V74.1H372.5H372.7V73.0H372.9H373.0V72.6H373.1H373.1V72.2H373.2H373.3V71.5H373.5H373.6V71.1H373.6H373.9V69.6H374.2H374.3V68.8H374.5H374.6V68.1H374.8H374.9V67.3H375.0H375.2V66.2H375.5H375.7V65.1H375.9H376.1V64.0H376.3H376.6V62.5H377.0H377.2V61.4H377.5H377.6V61.1H377.7H378.1V59.3H378.5H378.9V57.8H379.2H379.3V57.5H379.4H379.6V56.4H379.9H380.1V54.8H380.4H380.7V52.9H381.0H381.1V52.6H381.1H381.2V52.2H381.3H381.4V51.0H381.6H381.8V49.9H382.0H382.5V48.1H382.9H383.4V46.8H383.8H384.0V46.1H384.2H384.5V45.1H384.8H385.1V44.0H385.4H386.0V42.3H386.5H386.7V41.7H386.9H387.1V41.0H387.3H387.4V40.6H387.5H387.9V39.6H388.2H388.3V39.3H388.4H389.1V38.0H389.8H390.4V37.3H390.9H391.4V36.7H391.9H392.1V36.5H392.2H392.6V36.1H392.9H393.4V35.4H393.9H394.6V34.6H395.3H395.8V34.0H396.3H396.6V33.5H397.0H397.8V32.5H398.7H399.3V31.6H400.0H400.5V30.9H401.0H401.4V30.5H401.7H402.0V30.1H402.4H403.2V29.0H404.1H404.2V28.8H404.4H404.9V28.1H405.4H405.9V27.5H406.4H406.8V27.2H407.2H407.9V26.5H408.6H409.5V25.6H410.4H411.1V24.9H411.8H412.6V24.2H413.3H413.6V23.9H414.0H414.2V23.7H414.4H414.9V23.2H415.5H415.8V22.8H416.2H416.5V22.5H416.9H417.7V22.2H418.5H418.9V22.0H419.2H420.0V21.7H420.8H421.8V21.3H422.8H423.0V21.3H423.2H424.2V20.9H425.1H425.5V20.7H425.9H426.3V20.6H426.7H427.1V20.4H427.5H427.7V20.4H427.9H428.5V20.1H429.1H429.5V19.9H429.8H430.6V19.5H431.4H432.2V19.2H433.0H433.2V19.1H433.3H433.7V18.9H434.1H434.5V18.7H434.9H435.3V18.5H435.7H436.1V18.3H436.5H436.8V18.1H437.2H438.0V17.7H438.8H439.2V17.5H439.6H439.8V17.5H440.0H440.3V17.3H440.7H441.3V17.0H441.9H442.5V16.7H443.1H443.5V16.6H443.9H444.6V16.3H445.4H445.8V16.1H446.2H447.0V15.8H447.8H448.4V15.6H449.0H449.2V15.5H449.4H450.1V15.2H450.9H451.3V15.0H451.7H452.3V14.8H452.9H453.5V14.5H454.1H454.7V14.3H455.2H455.8V14.2H456.4H456.6V14.1H456.8H457.6V13.9H458.4H459.2V13.7H460.0H460.6V13.5H461.2H461.8V13.4H462.4H462.8V13.3H463.2H464.2V13.0H465.2H466.0V12.8H466.8H467.2V12.7H467.5H468.3V12.5H469.1H470.1V12.2H471.1H471.5V12.1H471.9H472.9V11.9H473.9H474.5V11.8H475.1H475.5V11.7H475.9H476.7V11.6H477.5H477.9V11.5H478.3H479.1V11.3H479.9H480.5V11.2H481.1H481.5H482.1V11.1H482.7H483.5V10.9H484.3H484.9V10.8H485.5H486.1V10.7H486.7H487.5V10.5H488.2H488.8V10.4H489.4H490.0V10.3H490.6H491.2V10.2H491.8H492.6V10.1H493.4H493.8V10.0H494.2H494.6H495.4V9.9H496.2H496.8V9.8H497.4H497.8V9.7H498.2H499.2V9.6H500.2H501.2V9.5H502.2H502.8V9.4H503.4H504.4V9.2H505.4H506.2V9.1H507.0H507.8V9.0H508.6H509.0V8.9H509.4H509.8" stroke="#98bcc6" stroke-width="0.48" fill="none" stroke-linejoin="round"/><path d="M363.6 103.1H363.6V101.5H363.7H363.7V99.9H363.7V99.1H363.8V97.9H363.8H363.9V96.7H363.9V95.9H364.0V94.3H364.0H364.0V93.1H364.1H364.1V92.3H364.1V91.9H364.2V90.7H364.3H364.3V89.9H364.3H364.4V88.3H364.5V87.9H364.5V87.1H364.5H364.6V86.3H364.6H364.6V85.5H364.7H364.7V84.3H364.8V83.9V83.5H364.8V82.3H364.9V81.5H364.9V80.3H365.0V79.9V79.5H365.0V78.3H365.1H365.1V76.3H365.2H365.2V74.7H365.2H365.3V73.5H365.3V72.7V72.3V71.5V70.7H365.5V68.7H365.5V68.3H365.6V66.3H365.7H365.7V65.1H365.8H365.8V63.9H365.9H365.9V63.1H365.9H366.0V61.1H366.1H366.1V60.3H366.1H366.2V59.1H366.2H366.3V57.9H366.4H366.5V57.1H366.6H366.7V56.4H366.8H367.0V54.4H367.2H367.4V52.8H367.5H367.7V51.3H367.9H368.1V49.3H368.4H368.4V48.9H368.5H368.7V47.4H368.9H369.1V45.8H369.2H369.3V45.0H369.4H369.6V43.9H369.7H370.0V41.9H370.2H370.3V41.2H370.4H370.6V39.6H370.8H370.9V39.2H370.9H371.1V37.7H371.4H371.5V36.9H371.6H371.8V35.8H372.1H372.2V35.1H372.3H372.6V33.5H372.9H373.2V32.0H373.5H373.7V30.9H373.9H374.2V29.4H374.4H374.7V28.3H375.0H375.4V26.9H375.8H375.9V26.2H376.1H376.4V25.2H376.7H377.0V24.2H377.3H377.5V23.5H377.7H377.8V23.1H377.9H378.0V22.8H378.1H378.4V21.7H378.7H379.0V21.2H379.3H380.0V20.3H380.6H381.1V19.6H381.6H382.5V18.5H383.3H383.9V17.6H384.6H385.3V16.9H386.0H386.4V16.6H386.8H387.0V16.4H387.1H387.7V16.0H388.3H389.0V15.5H389.8H390.7V14.8H391.7H392.0V14.5H392.4H392.6V14.4H392.8H393.7V13.8H394.7H395.5V13.4H396.3H396.8V13.2H397.4H398.2V12.9H399.0H399.2V12.8H399.4H400.0V12.6H400.6H401.4V12.3H402.2H402.7V12.0H403.3H403.5V12.0H403.7H403.9V11.9H404.1H404.7V11.7H405.3H406.3V11.5H407.3H407.7H408.1H408.5H409.3V11.2H410.1H410.5V11.1H410.9H411.5V11.0H412.1H413.1V10.8H414.1H414.7V10.7H415.3H415.7V10.6H416.1H416.9V10.5H417.7H418.1H418.5V10.3H418.9H419.7V10.2H420.5H420.9H421.3H421.9V10.0H422.5H423.3H424.3V9.9H425.3H425.7H426.5V9.9H427.3H428.1H428.9V9.8H429.7H430.9H431.7V9.7H432.5H433.3H434.1H435.3H436.1V9.6H436.9H437.7H438.5H439.7H440.1H440.9H442.1H443.3H444.5H445.3H445.7H446.1H446.9H447.7H448.9H449.7H451.3H452.5H454.1H455.7H456.9H458.1H458.9H459.3H460.9H462.1H462.5H464.5H465.7H466.9H468.1H468.5H470.5H470.9H471.7H473.7H474.1H475.3H476.5H477.3H479.3H480.5H480.9H482.1H482.6H484.2H485.8H487.8H488.2H489.8H490.6H491.8H492.6H493.4H493.8H495.0H495.4H497.4H497.8H499.8H500.6H501.0H502.6H503.8H505.4H506.6H507.8H508.2H509.8" stroke="#ff9098" stroke-width="0.48" fill="none" stroke-linejoin="round"/><path d="M363.6 103.1L509.8 8.9" stroke="#333" stroke-width="0.5" stroke-dasharray="1.6 0.5" fill="none"/><path d="M363.60 8.4v1.3M363.60 103.6v-1.3M362.9 8.90h1.3M510.5 8.90h-1.3M365.06 8.4v1.3M365.06 103.6v-1.3M362.9 9.84h1.3M510.5 9.84h-1.3M366.52 8.4v1.3M366.52 103.6v-1.3M362.9 10.78h1.3M510.5 10.78h-1.3M367.99 8.4v1.3M367.99 103.6v-1.3M362.9 11.73h1.3M510.5 11.73h-1.3M369.45 8.4v1.3M369.45 103.6v-1.3M362.9 12.67h1.3M510.5 12.67h-1.3M370.91 8.4v1.3M370.91 103.6v-1.3M362.9 13.61h1.3M510.5 13.61h-1.3M372.37 8.4v1.3M372.37 103.6v-1.3M362.9 14.55h1.3M510.5 14.55h-1.3M373.83 8.4v1.3M373.83 103.6v-1.3M362.9 15.49h1.3M510.5 15.49h-1.3M375.30 8.4v1.3M375.30 103.6v-1.3M362.9 16.44h1.3M510.5 16.44h-1.3M376.76 8.4v1.3M376.76 103.6v-1.3M362.9 17.38h1.3M510.5 17.38h-1.3M378.22 8.4v1.3M378.22 103.6v-1.3M362.9 18.32h1.3M510.5 18.32h-1.3M379.68 8.4v1.3M379.68 103.6v-1.3M362.9 19.26h1.3M510.5 19.26h-1.3M381.14 8.4v1.3M381.14 103.6v-1.3M362.9 20.20h1.3M510.5 20.20h-1.3M382.61 8.4v1.3M382.61 103.6v-1.3M362.9 21.15h1.3M510.5 21.15h-1.3M384.07 8.4v1.3M384.07 103.6v-1.3M362.9 22.09h1.3M510.5 22.09h-1.3M385.53 8.4v1.3M385.53 103.6v-1.3M362.9 23.03h1.3M510.5 23.03h-1.3M386.99 8.4v1.3M386.99 103.6v-1.3M362.9 23.97h1.3M510.5 23.97h-1.3M388.45 8.4v1.3M388.45 103.6v-1.3M362.9 24.91h1.3M510.5 24.91h-1.3M389.92 8.4v1.3M389.92 103.6v-1.3M362.9 25.86h1.3M510.5 25.86h-1.3M391.38 8.4v1.3M391.38 103.6v-1.3M362.9 26.80h1.3M510.5 26.80h-1.3M392.84 8.4v1.3M392.84 103.6v-1.3M362.9 27.74h1.3M510.5 27.74h-1.3M394.30 8.4v1.3M394.30 103.6v-1.3M362.9 28.68h1.3M510.5 28.68h-1.3M395.76 8.4v1.3M395.76 103.6v-1.3M362.9 29.62h1.3M510.5 29.62h-1.3M397.23 8.4v1.3M397.23 103.6v-1.3M362.9 30.57h1.3M510.5 30.57h-1.3M398.69 8.4v1.3M398.69 103.6v-1.3M362.9 31.51h1.3M510.5 31.51h-1.3M400.15 8.4v1.3M400.15 103.6v-1.3M362.9 32.45h1.3M510.5 32.45h-1.3M401.61 8.4v1.3M401.61 103.6v-1.3M362.9 33.39h1.3M510.5 33.39h-1.3M403.07 8.4v1.3M403.07 103.6v-1.3M362.9 34.33h1.3M510.5 34.33h-1.3M404.54 8.4v1.3M404.54 103.6v-1.3M362.9 35.28h1.3M510.5 35.28h-1.3M406.00 8.4v1.3M406.00 103.6v-1.3M362.9 36.22h1.3M510.5 36.22h-1.3M407.46 8.4v1.3M407.46 103.6v-1.3M362.9 37.16h1.3M510.5 37.16h-1.3M408.92 8.4v1.3M408.92 103.6v-1.3M362.9 38.10h1.3M510.5 38.10h-1.3M410.38 8.4v1.3M410.38 103.6v-1.3M362.9 39.04h1.3M510.5 39.04h-1.3M411.85 8.4v1.3M411.85 103.6v-1.3M362.9 39.99h1.3M510.5 39.99h-1.3M413.31 8.4v1.3M413.31 103.6v-1.3M362.9 40.93h1.3M510.5 40.93h-1.3M414.77 8.4v1.3M414.77 103.6v-1.3M362.9 41.87h1.3M510.5 41.87h-1.3M416.23 8.4v1.3M416.23 103.6v-1.3M362.9 42.81h1.3M510.5 42.81h-1.3M417.69 8.4v1.3M417.69 103.6v-1.3M362.9 43.75h1.3M510.5 43.75h-1.3M419.16 8.4v1.3M419.16 103.6v-1.3M362.9 44.70h1.3M510.5 44.70h-1.3M420.62 8.4v1.3M420.62 103.6v-1.3M362.9 45.64h1.3M510.5 45.64h-1.3M422.08 8.4v1.3M422.08 103.6v-1.3M362.9 46.58h1.3M510.5 46.58h-1.3M423.54 8.4v1.3M423.54 103.6v-1.3M362.9 47.52h1.3M510.5 47.52h-1.3M425.00 8.4v1.3M425.00 103.6v-1.3M362.9 48.46h1.3M510.5 48.46h-1.3M426.47 8.4v1.3M426.47 103.6v-1.3M362.9 49.41h1.3M510.5 49.41h-1.3M427.93 8.4v1.3M427.93 103.6v-1.3M362.9 50.35h1.3M510.5 50.35h-1.3M429.39 8.4v1.3M429.39 103.6v-1.3M362.9 51.29h1.3M510.5 51.29h-1.3M430.85 8.4v1.3M430.85 103.6v-1.3M362.9 52.23h1.3M510.5 52.23h-1.3M432.31 8.4v1.3M432.31 103.6v-1.3M362.9 53.17h1.3M510.5 53.17h-1.3M433.78 8.4v1.3M433.78 103.6v-1.3M362.9 54.12h1.3M510.5 54.12h-1.3M435.24 8.4v1.3M435.24 103.6v-1.3M362.9 55.06h1.3M510.5 55.06h-1.3M436.70 8.4v1.3M436.70 103.6v-1.3M362.9 56.00h1.3M510.5 56.00h-1.3M438.16 8.4v1.3M438.16 103.6v-1.3M362.9 56.94h1.3M510.5 56.94h-1.3M439.62 8.4v1.3M439.62 103.6v-1.3M362.9 57.88h1.3M510.5 57.88h-1.3M441.09 8.4v1.3M441.09 103.6v-1.3M362.9 58.83h1.3M510.5 58.83h-1.3M442.55 8.4v1.3M442.55 103.6v-1.3M362.9 59.77h1.3M510.5 59.77h-1.3M444.01 8.4v1.3M444.01 103.6v-1.3M362.9 60.71h1.3M510.5 60.71h-1.3M445.47 8.4v1.3M445.47 103.6v-1.3M362.9 61.65h1.3M510.5 61.65h-1.3M446.93 8.4v1.3M446.93 103.6v-1.3M362.9 62.59h1.3M510.5 62.59h-1.3M448.40 8.4v1.3M448.40 103.6v-1.3M362.9 63.54h1.3M510.5 63.54h-1.3M449.86 8.4v1.3M449.86 103.6v-1.3M362.9 64.48h1.3M510.5 64.48h-1.3M451.32 8.4v1.3M451.32 103.6v-1.3M362.9 65.42h1.3M510.5 65.42h-1.3M452.78 8.4v1.3M452.78 103.6v-1.3M362.9 66.36h1.3M510.5 66.36h-1.3M454.24 8.4v1.3M454.24 103.6v-1.3M362.9 67.30h1.3M510.5 67.30h-1.3M455.71 8.4v1.3M455.71 103.6v-1.3M362.9 68.25h1.3M510.5 68.25h-1.3M457.17 8.4v1.3M457.17 103.6v-1.3M362.9 69.19h1.3M510.5 69.19h-1.3M458.63 8.4v1.3M458.63 103.6v-1.3M362.9 70.13h1.3M510.5 70.13h-1.3M460.09 8.4v1.3M460.09 103.6v-1.3M362.9 71.07h1.3M510.5 71.07h-1.3M461.55 8.4v1.3M461.55 103.6v-1.3M362.9 72.01h1.3M510.5 72.01h-1.3M463.02 8.4v1.3M463.02 103.6v-1.3M362.9 72.96h1.3M510.5 72.96h-1.3M464.48 8.4v1.3M464.48 103.6v-1.3M362.9 73.90h1.3M510.5 73.90h-1.3M465.94 8.4v1.3M465.94 103.6v-1.3M362.9 74.84h1.3M510.5 74.84h-1.3M467.40 8.4v1.3M467.40 103.6v-1.3M362.9 75.78h1.3M510.5 75.78h-1.3M468.86 8.4v1.3M468.86 103.6v-1.3M362.9 76.72h1.3M510.5 76.72h-1.3M470.33 8.4v1.3M470.33 103.6v-1.3M362.9 77.67h1.3M510.5 77.67h-1.3M471.79 8.4v1.3M471.79 103.6v-1.3M362.9 78.61h1.3M510.5 78.61h-1.3M473.25 8.4v1.3M473.25 103.6v-1.3M362.9 79.55h1.3M510.5 79.55h-1.3M474.71 8.4v1.3M474.71 103.6v-1.3M362.9 80.49h1.3M510.5 80.49h-1.3M476.17 8.4v1.3M476.17 103.6v-1.3M362.9 81.43h1.3M510.5 81.43h-1.3M477.64 8.4v1.3M477.64 103.6v-1.3M362.9 82.38h1.3M510.5 82.38h-1.3M479.10 8.4v1.3M479.10 103.6v-1.3M362.9 83.32h1.3M510.5 83.32h-1.3M480.56 8.4v1.3M480.56 103.6v-1.3M362.9 84.26h1.3M510.5 84.26h-1.3M482.02 8.4v1.3M482.02 103.6v-1.3M362.9 85.20h1.3M510.5 85.20h-1.3M483.48 8.4v1.3M483.48 103.6v-1.3M362.9 86.14h1.3M510.5 86.14h-1.3M484.95 8.4v1.3M484.95 103.6v-1.3M362.9 87.09h1.3M510.5 87.09h-1.3M486.41 8.4v1.3M486.41 103.6v-1.3M362.9 88.03h1.3M510.5 88.03h-1.3M487.87 8.4v1.3M487.87 103.6v-1.3M362.9 88.97h1.3M510.5 88.97h-1.3M489.33 8.4v1.3M489.33 103.6v-1.3M362.9 89.91h1.3M510.5 89.91h-1.3M490.79 8.4v1.3M490.79 103.6v-1.3M362.9 90.85h1.3M510.5 90.85h-1.3M492.26 8.4v1.3M492.26 103.6v-1.3M362.9 91.80h1.3M510.5 91.80h-1.3M493.72 8.4v1.3M493.72 103.6v-1.3M362.9 92.74h1.3M510.5 92.74h-1.3M495.18 8.4v1.3M495.18 103.6v-1.3M362.9 93.68h1.3M510.5 93.68h-1.3M496.64 8.4v1.3M496.64 103.6v-1.3M362.9 94.62h1.3M510.5 94.62h-1.3M498.10 8.4v1.3M498.10 103.6v-1.3M362.9 95.56h1.3M510.5 95.56h-1.3M499.57 8.4v1.3M499.57 103.6v-1.3M362.9 96.51h1.3M510.5 96.51h-1.3M501.03 8.4v1.3M501.03 103.6v-1.3M362.9 97.45h1.3M510.5 97.45h-1.3M502.49 8.4v1.3M502.49 103.6v-1.3M362.9 98.39h1.3M510.5 98.39h-1.3M503.95 8.4v1.3M503.95 103.6v-1.3M362.9 99.33h1.3M510.5 99.33h-1.3M505.41 8.4v1.3M505.41 103.6v-1.3M362.9 100.27h1.3M510.5 100.27h-1.3M506.88 8.4v1.3M506.88 103.6v-1.3M362.9 101.22h1.3M510.5 101.22h-1.3M508.34 8.4v1.3M508.34 103.6v-1.3M362.9 102.16h1.3M510.5 102.16h-1.3M509.80 8.4v1.3M509.80 103.6v-1.3M362.9 103.10h1.3M510.5 103.10h-1.3" stroke="#c2c2c2" stroke-width="0.45" fill="none"/><rect x="362.9" y="8.4" width="147.6" height="95.2" fill="none" stroke="#868686" stroke-width="0.85"/><path d="M363.60 103.6v1.7M362.9 8.90h-1.7M378.22 103.6v1.0M362.9 18.32h-1.0M392.84 103.6v1.7M362.9 27.74h-1.7M407.46 103.6v1.0M362.9 37.16h-1.0M422.08 103.6v1.7M362.9 46.58h-1.7M436.70 103.6v1.0M362.9 56.00h-1.0M451.32 103.6v1.7M362.9 65.42h-1.7M465.94 103.6v1.0M362.9 74.84h-1.0M480.56 103.6v1.7M362.9 84.26h-1.7M495.18 103.6v1.0M362.9 93.68h-1.0M509.80 103.6v1.7M362.9 103.10h-1.7" stroke="#222" stroke-width="0.6" fill="none"/><rect x="389.0" y="68.4" width="119.6" height="32.9" rx="1.2" fill="#fff" fill-opacity="0.8" stroke="#d0d0d0" stroke-width="0.5"/><path d="M390.7 71.9h9.3" stroke="#ffe0b8" stroke-width="0.45"/><path d="M390.7 78.3h9.3" stroke="#a9c4ff" stroke-width="0.45"/><path d="M390.7 84.8h9.3" stroke="#cfa3bb" stroke-width="0.45"/><path d="M390.7 91.3h9.3" stroke="#98bcc6" stroke-width="0.45"/><path d="M390.7 97.7h9.3" stroke="#ff9098" stroke-width="0.45"/></g>
<g><path d="M535.4 8.4V103.6M534.7 8.9H682.3M564.6 8.4V103.6M534.7 27.7H682.3M593.9 8.4V103.6M534.7 46.6H682.3M623.1 8.4V103.6M534.7 65.4H682.3M652.4 8.4V103.6M534.7 84.3H682.3M681.6 8.4V103.6M534.7 103.1H682.3" stroke="#8c8c8c" stroke-width="0.45" stroke-dasharray="0.7 0.8" fill="none"/><path d="M535.4 103.1V102.3V100.7V100.3V99.9V98.7V97.1V96.3V95.1V94.3V93.5V92.7V91.5V91.1V90.3V89.1V88.7V87.9V87.5V86.7V85.5V84.3H535.9V82.7H535.9V81.9V81.5V80.7V80.3V79.9V79.1H536.2V77.9H536.2V77.5V77.1V76.7V76.3V75.5V75.1H536.4V73.5H536.5V72.7V71.9V71.1V70.7H536.7V69.5H536.7H536.8V68.3H536.8H536.9V67.5H537.0H537.0V66.3H537.1H537.1V65.9H537.2H537.2V65.5H537.2H537.3V65.1H537.3H537.3V64.7H537.3H537.4V63.5H537.5H537.6V62.3H537.7H537.8V61.1H537.8H537.9V60.7H537.9H538.0V59.6H538.1H538.2V58.8H538.3H538.4V58.0H538.4H538.5V57.2H538.6H538.7V56.4H538.8H538.9V56.0H538.9H539.0V55.3H539.1H539.2V54.1H539.4H539.5V52.9H539.6H539.8V51.4H540.0H540.0V51.0H540.1H540.3V49.4H540.4H540.6V48.2H540.7H540.9V47.1H541.0H541.2V45.5H541.4H541.5V45.1H541.5H541.7V44.0H541.8H542.0V42.4H542.3H542.3V42.0H542.4H542.5V40.9H542.7H542.9V39.3H543.1H543.2V39.0H543.2H543.4V37.8H543.5H543.8V36.3H544.0H544.1V35.5H544.2H544.3V35.2H544.4H544.6V34.8H544.7H545.0V33.8H545.3H545.6V33.2H545.8H546.0V32.5H546.2H546.5V31.8H546.7H547.1V30.5H547.6H547.7V30.2H547.8H547.9V29.8H548.0H548.5V28.6H549.1H549.4V28.1H549.7H550.0V27.6H550.3H550.9V26.6H551.5H551.7V26.4H551.9H552.0V26.1H552.2H552.8V25.1H553.4H553.6V24.8H553.7H553.9V24.6H554.0H554.7V23.6H555.3H555.5V23.4H555.7H556.4V22.7H557.1H557.4V22.3H557.8H558.2V22.0H558.5H558.7V21.8H558.9H559.2V21.4H559.6H559.9V21.1H560.3H560.7V20.7H561.0H561.4V20.4H561.7H562.1V20.0H562.5H563.0V19.5H563.5H564.3V18.9H565.0H565.6V18.6H566.2H566.8V18.3H567.3H567.5V18.2H567.7H567.9V18.0H568.1H568.3V17.9H568.5H568.7V17.8H568.9H569.7V17.4H570.4H571.2V16.9H572.0H572.7V16.5H573.5H573.9V16.3H574.3H574.5V16.1H574.7H575.0V15.9H575.4H575.6V15.8H575.8H576.6V15.4H577.4H577.6V15.3H577.8H578.0V15.3H578.2H578.9V15.0H579.7H579.9V14.9H580.1H580.9V14.7H581.7H582.1V14.5H582.5H583.1V14.3H583.7H583.9V14.3H584.1H584.9V14.0H585.7H586.0V13.8H586.4H586.8V13.7H587.2H587.8V13.5H588.4H589.0V13.3H589.6H589.8V13.2H590.0H590.2V13.2H590.4H590.8V13.0H591.2H591.4V13.0H591.6H592.2V12.8H592.8H593.2V12.7H593.6H594.0H594.4V12.6H594.8H595.2H595.6V12.5H596.0H596.4V12.5H596.8H597.2V12.4H597.6H598.0V12.3H598.4H598.8H599.2V12.2H599.6H600.1V12.1H600.7H601.1V12.0H601.5H602.1V11.9H602.7H603.1V11.9H603.5H603.9H604.3H604.9V11.7H605.5H605.9V11.6H606.3H606.7V11.5H607.1H607.5V11.5H607.9H608.5V11.4H609.1H609.5V11.3H609.9H610.3V11.2H610.7H611.1V11.2H611.5H611.9H612.3V11.1H612.7H613.1V11.0H613.5H613.9V10.9H614.3H614.7V10.8H615.1H615.5V10.8H615.9H617.1H617.5H618.3V10.7H619.1H619.5H620.7H621.1H622.3H622.7H623.1H623.9H625.1H626.3H627.5H628.3V10.3H629.1H629.5H630.3H630.7H631.9H632.7H633.9H635.1H635.9V10.0H636.7H637.9H639.1H639.9H640.3H641.1V9.8H641.9H642.3H642.7H643.9H644.3H645.5H645.9H646.3H647.5H647.9H648.7H649.6V9.4H650.4H650.8H652.0H653.2H654.4H655.6H656.8H657.2H657.6H658.4H660.0H660.4H661.2H661.6H662.8H663.6H664.4H665.6H666.0H667.2H668.4H669.6H670.0H670.4H670.8H672.4H673.2H674.0H674.8H676.0H676.8H677.6H678.8H680.0H680.8H681.2H681.6" stroke="#ffe0b8" stroke-width="0.48" fill="none" stroke-linejoin="round"/><path d="M535.4 103.1H535.5V101.9H535.5H535.6V100.7H535.7H535.7V99.9H535.7H535.8V98.3H535.9H536.0V97.5H536.0V97.1V96.7H536.1V95.9H536.2H536.2V94.7H536.3H536.4V94.0H536.4H536.5V92.4H536.6H536.6V91.2H536.7H536.7V90.4H536.8H536.8V89.2H536.9H537.0V88.0H537.0H537.1V86.8H537.2H537.2V86.0H537.3H537.3V85.2H537.3H537.4V84.4H537.4H537.5V83.2H537.6H537.6V82.8H537.7H537.7V81.6H537.8H537.9V80.8H537.9H538.0V79.7H538.1H538.1V79.3H538.2H538.2V78.5H538.3H538.3V77.7H538.4H538.5V76.5H538.6H538.6V76.1H538.6H538.7V75.7H538.7H538.7V75.3H538.8H538.8V74.5H538.9H538.9V73.7H539.0H539.0V73.3H539.0H539.1V72.9H539.1H539.1V72.5H539.2H539.3V70.9H539.4H539.4V70.2H539.5H539.6V69.4H539.6H539.7V69.0H539.7H539.8V67.8H540.0H540.1V66.6H540.3H540.4V65.5H540.5H540.6V65.1H540.6H540.7V64.3H540.8H540.9V63.5H541.0H541.0V63.1H541.1H541.2V62.0H541.4H541.5V61.2H541.6H541.6V60.8H541.7H541.8V59.6H541.9H542.0V58.9H542.1H542.2V58.1H542.3H542.4V56.9H542.4H542.5V56.1H542.6H542.6V55.3H542.7H542.7V54.9H542.8H542.8V54.1H542.9H543.0V53.3H543.0H543.1V52.5H543.2H543.2V51.8H543.3H543.3V51.4H543.4H543.4V51.0H543.4H543.5V50.6H543.5H543.5V50.2H543.6H543.7V49.0H543.8H543.8V48.2H543.9H543.9V47.8H544.0H544.1V46.6H544.2H544.4V45.5H544.7H544.8V45.2H544.9H545.1V44.1H545.4H545.5V43.8H545.6H545.9V42.3H546.3H546.4V42.0H546.5H546.5V41.6H546.6H546.7V41.2H546.8H547.1V40.2H547.3H547.6V39.1H547.9H548.1V38.4H548.2H548.3V38.0H548.4H548.7V37.4H548.9H549.4V36.7H549.9H550.0V36.4H550.2H550.8V35.4H551.4H551.9V34.7H552.4H553.0V33.7H553.6H554.1V32.9H554.5H555.0V32.2H555.5H556.2V31.3H556.9H557.0V31.1H557.2H557.5V30.7H557.9H558.0V30.5H558.2H558.4V30.3H558.5H559.0V29.6H559.5H559.7V29.4H559.9H560.4V28.7H560.9H561.2V28.3H561.6H562.1V27.7H562.6H563.1V27.0H563.6H564.1V26.4H564.6H565.2V25.9H565.7H565.9V25.8H566.1H566.3V25.6H566.4H566.8V25.2H567.2H567.5V24.9H567.9H568.4V24.4H569.0H569.5V23.8H570.0H570.6V23.3H571.1H571.8V22.6H572.6H573.1V22.1H573.7H574.0V21.8H574.4H574.7V21.5H575.1H575.7V21.1H576.3H576.8V20.8H577.4H577.8V20.5H578.2H578.6V20.3H578.9H579.5V20.0H580.1H580.3V19.8H580.5H581.2V19.4H582.0H582.2V19.3H582.4H583.0V18.9H583.5H583.9V18.7H584.3H584.5V18.6H584.7H585.1V18.3H585.5H585.8V18.1H586.2H587.0V17.8H587.8H588.6V17.4H589.3H589.7V17.2H590.1H590.7V16.9H591.3H592.0V16.5H592.8H593.0V16.4H593.2H593.8V16.1H594.4H595.0V15.8H595.5H596.3V15.4H597.1H597.7V15.1H598.3H598.6V15.0H599.0H599.4H600.0V14.8H600.6H601.0H601.6V14.7H602.2H602.6V14.6H603.0H603.6V14.5H604.2H604.6V14.4H605.0H605.4V14.3H605.8H606.6V14.1H607.4H608.0V14.0H608.6H609.0V13.9H609.4H609.8V13.9H610.2H610.6V13.8H611.0H611.6V13.7H612.2H612.6V13.6H613.0H613.4H614.2V13.4H615.0H615.8V13.2H616.6H617.2V13.1H617.7H618.1H618.5H619.1V12.9H619.7H620.3V12.8H620.9H621.5V12.7H622.1H622.5H623.1V12.5H623.7H624.1V12.5H624.5H624.9V12.4H625.3H625.9V12.3H626.5H626.9V12.2H627.3H627.9V12.1H628.5H629.1V12.0H629.7H630.5V11.8H631.3H631.7H632.1V11.7H632.5H633.3V11.6H634.1H634.7V11.5H635.3H635.7V11.4H636.1H636.7V11.3H637.3H637.7H638.3V11.1H638.9H639.5V11.0H640.1H640.5V10.9H640.9H641.2V10.9H641.6H642.2V10.7H642.8H643.2H643.6V10.6H644.0H644.4H645.2V10.5H646.0H646.6V10.4H647.2H648.0H648.6V10.3H649.2H650.0H650.8H651.2H651.8V10.2H652.4H653.0V10.1H653.6H654.2V10.1H654.8H655.2H655.8V10.0H656.4H656.8H657.6H658.4H658.8H659.6H660.4V9.8H661.2H661.8V9.7H662.4H663.2H663.8V9.6H664.4H665.2H666.0V9.5H666.8H667.6H668.0H668.8V9.4H669.6H670.0H670.4H671.0V9.3H671.6H672.0H672.8H673.4V9.2H674.0H674.6V9.2H675.2H676.0H676.6V9.1H677.2H677.8V9.0H678.4H679.2H679.8V9.0H680.4H681.2H681.6" stroke="#a9c4ff" stroke-width="0.48" fill="none" stroke-linejoin="round"/><path d="M535.4 103.1H535.6V101.5H535.8H536.0V100.0H536.2H536.2V99.6H536.3H536.3V99.2H536.4H536.4V98.8H536.5H536.6V97.7H536.8H536.8V97.3H536.8H536.9V96.9H536.9H537.1V95.7H537.2H537.3V95.3H537.3H537.5V93.8H537.7H537.8V93.0H537.9H538.1V91.4H538.3H538.4V90.3H538.6H538.6V89.9H538.7H538.8V88.7H539.0H539.2V88.0H539.3H539.4V87.6H539.4H539.5V87.2H539.6H539.8V86.1H540.0H540.2V85.4H540.3H540.5V84.6H540.6H540.9V83.5H541.1H541.1V83.2H541.2H541.4V82.4H541.5H541.6V82.0H541.7H541.8V81.3H542.0H542.3V79.8H542.6H542.7V79.1H542.9H542.9V78.7H543.0H543.1V78.3H543.1H543.4V77.2H543.6H543.7V76.9H543.8H544.2V75.4H544.5H544.6V75.1H544.7H545.0V74.0H545.2H545.5V72.9H545.8H546.0V71.8H546.3H546.5V71.1H546.7H546.8V70.8H546.8H546.9V70.4H547.0H547.3V69.3H547.6H547.6V69.0H547.7H547.8V68.6H547.9H548.2V67.5H548.4H548.6V66.4H548.8H549.0V65.3H549.2H549.4V64.1H549.5H549.7V63.4H549.8H550.0V62.2H550.1H550.3V61.1H550.5H550.6V60.3H550.7H550.9V59.5H551.0H551.1V59.2H551.1H551.2V58.8H551.3H551.3V58.4H551.4H551.5V57.7H551.7H551.8V57.3H551.8H552.1V55.8H552.4H552.5V55.0H552.7H552.9V53.9H553.1H553.4V52.4H553.7H553.7V52.0H553.8H554.1V50.5H554.4H554.6V49.0H554.9H555.0V48.7H555.1H555.2V48.3H555.3H555.6V47.4H556.0H556.5V46.1H557.0H557.3V45.2H557.7H558.0V44.5H558.2H558.6V43.6H558.9H559.1V43.3H559.2H559.3V42.9H559.4H559.7V42.3H559.9H560.3V41.4H560.7H560.8V41.0H560.9H561.4V39.8H561.9H562.1V39.6H562.3H563.0V38.8H563.7H563.8V38.6H564.0H564.5V38.0H565.0H565.5V37.3H566.0H566.7V36.5H567.4H567.8V36.1H568.1H568.6V35.5H569.1H569.3V35.3H569.5H570.0V34.6H570.5H570.7V34.4H570.8H571.5V33.6H572.2H572.7V32.8H573.1H573.3V32.5H573.4H574.0V31.4H574.5H574.8V30.9H575.1H575.3V30.6H575.4H575.5V30.3H575.7H575.8V30.0H576.0H576.1V29.7H576.3H576.7V28.9H577.1H577.7V27.8H578.3H578.7V26.9H579.1H579.7V26.5H580.2H580.8V26.1H581.3H581.9V25.7H582.5H582.9V25.5H583.2H583.4V25.4H583.6H583.8V25.2H584.0H584.4V25.0H584.8H585.0V24.9H585.1H585.7V24.5H586.3H586.7V24.2H587.1H587.4V24.0H587.8H588.2V23.7H588.6H589.1V23.4H589.7H589.9V23.2H590.1H590.3V23.1H590.5H591.0V22.7H591.6H591.8V22.6H592.0H592.6V22.3H593.1H593.9V21.8H594.7H595.1V21.6H595.5H596.2V21.2H597.0H597.6V20.8H598.2H598.9V20.4H599.7H600.1V20.2H600.5H601.0V19.9H601.6H602.2V19.5H602.8H603.0V19.4H603.2H603.5V19.2H603.9H604.3V19.0H604.7H605.1V18.8H605.5H606.0V18.4H606.6H607.4V18.1H608.2H608.8V17.9H609.4H610.0V17.7H610.6H610.8V17.6H611.0H611.5V17.4H612.1H612.7V17.2H613.3H614.1V17.0H614.9H615.1V16.9H615.3H615.5V16.8H615.7H616.5V16.6H617.3H617.7V16.4H618.1H618.6V16.2H619.2H619.8V16.0H620.4H620.8V15.9H621.2H621.6V15.7H622.0H622.4V15.6H622.8H623.6V15.3H624.4H624.8V15.2H625.1H625.7V14.9H626.3H626.7V14.8H627.1H627.7V14.6H628.3H628.9V14.4H629.5H630.1V14.1H630.7H631.3V13.9H631.8H632.0V13.9H632.2H633.0V13.6H633.8H634.4V13.4H635.0H635.2V13.3H635.4H635.8V13.1H636.2H636.4V13.1H636.6H636.8V13.0H637.0H637.6V12.8H638.1H638.7V12.7H639.3H639.9V12.5H640.5H640.9H641.3H641.7V12.4H642.1H642.5V12.3H642.9H643.5V12.1H644.1H644.5V12.1H644.9H645.5V11.9H646.1H646.5V11.8H646.9H647.3H647.9V11.7H648.5H648.9H649.5V11.5H650.1H650.5H650.9H651.3V11.3H651.7H652.1V11.2H652.5H653.1V11.1H653.7H654.1V11.0H654.5H655.3V10.8H656.1H656.6V10.7H657.2H657.6H658.0H658.8V10.4H659.6H660.0V10.4H660.4H660.8H661.2H661.8V10.2H662.4H662.8H663.2V10.1H663.6H664.2V10.1H664.8H665.2V10.0H665.6H666.2V9.9H666.8H667.6V9.8H668.4H669.0V9.7H669.6H670.2V9.6H670.8H671.4V9.6H672.0H672.4V9.5H672.8H673.4V9.4H674.0H674.6V9.3H675.2H675.6V9.3H676.0H676.4V9.2H676.8H677.4V9.1H678.0H678.4H679.0V9.0H679.6H680.4V8.9H681.2H681.6" stroke="#cfa3bb" stroke-width="0.48" fill="none" stroke-linejoin="round"/><path d="M535.4 103.1H535.5V102.7H535.5H535.7V101.2H535.9H536.0V100.8H536.0H536.2V99.6H536.3H536.4V98.8H536.5H536.6V98.5H536.6H536.8V97.3H537.0H537.0V96.9H537.1H537.2V95.8H537.4H537.5V95.0H537.6H537.8V93.4H538.0H538.2V91.9H538.4H538.5V91.5H538.5H538.6V90.7H538.7H538.8V90.3H538.8H539.0V89.2H539.1H539.2V88.8H539.3H539.3V88.4H539.4H539.5V88.1H539.6H539.8V87.0H540.1H540.1V86.6H540.2H540.4V85.9H540.5H540.7V85.1H540.8H541.0V84.4H541.1H541.3V83.6H541.5H541.8V82.2H542.1H542.2V81.4H542.4H542.6V80.7H542.7H542.9V79.6H543.2H543.3V79.2H543.3H543.4V78.9H543.5H543.7V77.8H544.0H544.2V77.1H544.3H544.7V75.6H545.1H545.4V74.6H545.6H545.8V73.9H546.0H546.2V73.1H546.4H546.5V72.8H546.6H546.8V71.7H547.1H547.3V71.0H547.5H547.7V70.3H547.9H548.0V70.0H548.1H548.1V69.6H548.2H548.5V68.5H548.8H548.9V68.2H549.0H549.2V67.5H549.3H549.6V66.4H549.9H550.0V65.7H550.2H550.4V64.9H550.5H550.7V64.2H550.9H551.0V63.8H551.0H551.3V62.8H551.6H551.9V61.3H552.2H552.4V60.6H552.6H552.7V60.2H552.7H553.0V58.7H553.3H553.4V58.4H553.5H553.5V58.0H553.6H553.8V56.8H554.0H554.2V55.7H554.4H554.5V55.0H554.7H554.8V54.6H554.8H555.1V53.1H555.4H555.4V52.7H555.5H555.6V52.0H555.8H556.0V50.4H556.3H556.5V49.3H556.7H557.0V48.2H557.2H557.3V47.9H557.4H557.8V46.9H558.1H558.4V46.3H558.6H558.7V46.0H558.9H559.2V45.0H559.6H560.0V43.7H560.5H560.6V43.4H560.7H561.0V42.7H561.2H561.7V41.4H562.1H562.4V40.8H562.6H562.8V40.1H563.1H563.6V39.4H564.0H564.4V38.9H564.7H565.3V38.0H566.0H566.5V37.4H567.0H567.5V36.7H568.0H568.5V36.0H569.0H569.1V35.8H569.3H569.8V35.1H570.3H570.6V34.6H570.9H571.3V34.2H571.6H571.9V33.7H572.3H572.6V33.3H572.9H573.1V33.0H573.3H573.9V32.1H574.5H574.8V31.6H575.2H575.3V31.3H575.5H576.1V30.3H576.7H577.1V29.9H577.4H577.8V29.1H578.3H578.6V28.6H579.0H579.1V28.4H579.3H579.6V27.9H579.9H580.4V27.2H580.9H581.1V27.0H581.2H582.0V26.4H582.7H583.1V26.1H583.5H584.2V25.5H584.9H585.1V25.4H585.3H585.7V25.0H586.1H586.2V24.9H586.4H586.6V24.7H586.8H587.2V24.4H587.5H587.9V24.1H588.3H588.6V23.8H589.0H589.2V23.7H589.4H589.7V23.4H590.1H590.5V23.0H590.9H591.6V22.4H592.3H592.5V22.3H592.7H593.1V22.0H593.5H594.0V21.7H594.6H595.0V21.6H595.4H595.6V21.5H595.8H596.6V21.1H597.4H597.5V21.0H597.7H597.9V20.9H598.1H598.3V20.8H598.5H598.9V20.6H599.3H599.9V20.3H600.5H600.7V20.3H600.9H601.0V20.2H601.2H601.8V19.9H602.4H602.6V19.8H602.8H603.0V19.7H603.2H603.8V19.4H604.4H604.6V19.3H604.7H605.1V19.1H605.5H605.7V19.0H605.9H606.5V18.8H607.1H607.7V18.5H608.3H608.6V18.3H609.0H609.2V18.2H609.4H610.0V18.0H610.6H611.2V17.7H611.8H612.0V17.7H612.2H612.4V17.6H612.6H613.0V17.4H613.3H613.7V17.2H614.1H614.3V17.2H614.5H615.1V16.9H615.7H615.9V16.8H616.1H616.9V16.5H617.6H618.0V16.3H618.4H618.6V16.2H618.8H619.0V16.1H619.2H619.4V16.1H619.6H619.8V16.0H620.0H620.8V15.7H621.6H622.0V15.6H622.4H622.8V15.4H623.2H623.9V15.2H624.7H625.5V14.9H626.3H626.9V14.7H627.5H627.7V14.7H627.9H628.3V14.6H628.7H629.1V14.4H629.5H629.7V14.4H629.9H630.3V14.2H630.7H630.9V14.2H631.1H631.3V14.1H631.5H632.0V13.9H632.6H633.2V13.8H633.8H634.2V13.6H634.6H635.0V13.5H635.4H636.0V13.3H636.6H637.2V13.1H637.8H638.2H638.8V12.9H639.4H639.8V12.9H640.2H640.6V12.8H641.0H641.8V12.6H642.6H643.1V12.4H643.7H644.1V12.4H644.5H644.9H645.3V12.2H645.7H646.1V12.1H646.5H646.9V12.0H647.3H647.7H648.1V11.9H648.5H648.9H649.5V11.7H650.1H650.5V11.6H650.9H651.3H651.9V11.4H652.5H652.9V11.3H653.3H653.7H654.1H654.5H654.9V11.1H655.3H656.1V10.9H656.9H657.7V10.7H658.5H659.1V10.6H659.7H660.0H660.4H660.8H661.2V10.4H661.6H662.2V10.4H662.8H663.2H663.6V10.3H664.0H664.4V10.2H664.8H665.4V10.1H666.0H666.6V10.0H667.2H667.6V9.9H668.0H668.6V9.9H669.2H669.6H670.0V9.8H670.4H671.0V9.7H671.6H672.0H672.4V9.6H672.8H673.2V9.5H673.6H674.0H674.4H675.0V9.4H675.6H676.0V9.3H676.4H676.8H677.2H677.6V9.2H678.0H678.4V9.1H678.8H679.2V9.1H679.6H680.0V9.0H680.4H680.8H681.2V8.9H681.6" stroke="#98bcc6" stroke-width="0.48" fill="none" stroke-linejoin="round"/><path d="M535.4 103.1V101.9V101.5V100.3V99.5V97.9V96.3V95.9V94.7V93.9V93.5V92.3V90.7V89.5V88.3V86.7V85.9V84.7V83.5V82.3V81.1V80.3V79.9V79.1V77.9V77.1V75.9V74.7V73.5V72.7V71.5V71.1V69.9V69.5H536.3V67.9H536.4H536.4V66.7H536.5V66.3V65.9H536.6V64.7H536.7H536.7V63.9H536.7H536.8V62.7H536.8V62.3H536.9V61.1H537.0H537.0V60.3H537.0H537.1V59.5H537.1H537.2V58.3H537.2H537.3V57.1H537.4H537.4V56.3H537.5V56.0H537.5V55.2H537.6V54.8V54.4H537.8V53.2H537.8V52.8V52.4H538.0V51.2H538.1H538.1V50.4H538.2H538.2V49.6H538.3H538.3V48.8H538.4H538.4V47.6H538.5H538.6V46.8H538.6H538.7V45.6H538.7V45.2H538.9V44.0H538.9H539.0V43.3H539.1H539.2V42.1H539.4H539.4V41.3H539.5H539.7V40.1H539.8H539.9V39.3H539.9H540.1V38.2H540.2H540.3V37.4H540.4H540.5V36.2H540.6H540.7V35.0H540.9H540.9V34.6H540.9H541.1V33.5H541.2H541.4V31.9H541.5H541.6V31.5H541.6H541.6V31.1H541.7H541.9V29.6H542.0H542.4V28.1H542.7H542.9V27.8H543.0H543.3V26.8H543.6H544.1V25.5H544.5H544.6V25.2H544.8H545.1V24.2H545.4H545.6V23.5H545.9H546.2V22.5H546.6H546.9V22.1H547.2H547.6V21.7H547.9H548.1V21.5H548.3H548.8V20.8H549.3H549.8V20.2H550.3H550.4V20.0H550.6H550.8V19.7H551.0H551.1V19.5H551.3H551.5V19.3H551.6H552.3V18.5H553.0H553.5V17.8H554.0H554.7V17.0H555.4H556.0V16.7H556.5H556.7V16.6H556.9H557.3V16.5H557.7H558.5V16.1H559.3H559.8V15.8H560.4H561.2V15.4H562.0H562.6V15.1H563.1H563.7V14.8H564.3H564.9V14.5H565.5H566.3V14.2H567.0H567.4V14.1H567.8H568.0V14.0H568.2H568.6V13.9H569.0H569.2V13.8H569.4H569.6V13.7H569.8H570.4V13.5H571.0H571.2V13.4H571.4H571.6V13.4H571.8H572.0V13.3H572.2H572.6V13.2H573.0H573.4V13.0H573.7H574.3V12.8H574.9H575.7V12.5H576.5H576.7V12.5H576.9H577.1V12.4H577.3H577.5V12.3H577.7H578.5V12.1H579.3H579.9V11.9H580.4H581.0V11.7H581.6H582.2V11.6H582.8H583.2H584.0V11.4H584.8H585.2V11.4H585.6H586.2V11.3H586.8H587.2V11.2H587.6H588.2V11.1H588.8H589.2V11.1H589.6H590.0H590.4H591.0V10.9H591.6H592.0V10.8H592.4H592.8H593.2V10.7H593.6H594.0V10.7H594.4H594.8V10.6H595.2H595.8V10.5H596.4H597.0V10.4H597.6H598.2V10.3H598.8H599.4V10.2H600.0H600.4V10.2H600.8H601.4V10.1H602.0H602.8V10.0H603.6H604.4H604.8H605.2H606.4H607.6H608.8H609.6H610.4H610.8H612.0H613.6H614.0H615.2H616.4H617.6H618.4H618.8H620.0H621.6H622.8H623.6H624.8H626.0H626.8H628.0H628.8H629.2H629.6H630.8H632.0H632.4H632.8H633.6H634.0H635.2H635.6H636.4H637.2H638.0H639.2H640.0H640.8H642.0H642.8H643.2H644.8H646.0H646.8H647.6H648.8H649.6H650.0H650.8H652.4H652.8H654.4H655.2H656.8H658.0H658.4H658.8H660.4H662.0H663.2H664.0H664.8H666.0H667.2H668.4H668.8H670.0H671.6H672.4H672.8H673.2H674.4H675.2H676.8H678.0H679.2H679.6H680.4H681.6" stroke="#ff9098" stroke-width="0.48" fill="none" stroke-linejoin="round"/><path d="M535.4 103.1L681.6 8.9" stroke="#333" stroke-width="0.5" stroke-dasharray="1.6 0.5" fill="none"/><path d="M535.40 8.4v1.3M535.40 103.6v-1.3M534.7 8.90h1.3M682.3 8.90h-1.3M536.86 8.4v1.3M536.86 103.6v-1.3M534.7 9.84h1.3M682.3 9.84h-1.3M538.32 8.4v1.3M538.32 103.6v-1.3M534.7 10.78h1.3M682.3 10.78h-1.3M539.79 8.4v1.3M539.79 103.6v-1.3M534.7 11.73h1.3M682.3 11.73h-1.3M541.25 8.4v1.3M541.25 103.6v-1.3M534.7 12.67h1.3M682.3 12.67h-1.3M542.71 8.4v1.3M542.71 103.6v-1.3M534.7 13.61h1.3M682.3 13.61h-1.3M544.17 8.4v1.3M544.17 103.6v-1.3M534.7 14.55h1.3M682.3 14.55h-1.3M545.63 8.4v1.3M545.63 103.6v-1.3M534.7 15.49h1.3M682.3 15.49h-1.3M547.10 8.4v1.3M547.10 103.6v-1.3M534.7 16.44h1.3M682.3 16.44h-1.3M548.56 8.4v1.3M548.56 103.6v-1.3M534.7 17.38h1.3M682.3 17.38h-1.3M550.02 8.4v1.3M550.02 103.6v-1.3M534.7 18.32h1.3M682.3 18.32h-1.3M551.48 8.4v1.3M551.48 103.6v-1.3M534.7 19.26h1.3M682.3 19.26h-1.3M552.94 8.4v1.3M552.94 103.6v-1.3M534.7 20.20h1.3M682.3 20.20h-1.3M554.41 8.4v1.3M554.41 103.6v-1.3M534.7 21.15h1.3M682.3 21.15h-1.3M555.87 8.4v1.3M555.87 103.6v-1.3M534.7 22.09h1.3M682.3 22.09h-1.3M557.33 8.4v1.3M557.33 103.6v-1.3M534.7 23.03h1.3M682.3 23.03h-1.3M558.79 8.4v1.3M558.79 103.6v-1.3M534.7 23.97h1.3M682.3 23.97h-1.3M560.25 8.4v1.3M560.25 103.6v-1.3M534.7 24.91h1.3M682.3 24.91h-1.3M561.72 8.4v1.3M561.72 103.6v-1.3M534.7 25.86h1.3M682.3 25.86h-1.3M563.18 8.4v1.3M563.18 103.6v-1.3M534.7 26.80h1.3M682.3 26.80h-1.3M564.64 8.4v1.3M564.64 103.6v-1.3M534.7 27.74h1.3M682.3 27.74h-1.3M566.10 8.4v1.3M566.10 103.6v-1.3M534.7 28.68h1.3M682.3 28.68h-1.3M567.56 8.4v1.3M567.56 103.6v-1.3M534.7 29.62h1.3M682.3 29.62h-1.3M569.03 8.4v1.3M569.03 103.6v-1.3M534.7 30.57h1.3M682.3 30.57h-1.3M570.49 8.4v1.3M570.49 103.6v-1.3M534.7 31.51h1.3M682.3 31.51h-1.3M571.95 8.4v1.3M571.95 103.6v-1.3M534.7 32.45h1.3M682.3 32.45h-1.3M573.41 8.4v1.3M573.41 103.6v-1.3M534.7 33.39h1.3M682.3 33.39h-1.3M574.87 8.4v1.3M574.87 103.6v-1.3M534.7 34.33h1.3M682.3 34.33h-1.3M576.34 8.4v1.3M576.34 103.6v-1.3M534.7 35.28h1.3M682.3 35.28h-1.3M577.80 8.4v1.3M577.80 103.6v-1.3M534.7 36.22h1.3M682.3 36.22h-1.3M579.26 8.4v1.3M579.26 103.6v-1.3M534.7 37.16h1.3M682.3 37.16h-1.3M580.72 8.4v1.3M580.72 103.6v-1.3M534.7 38.10h1.3M682.3 38.10h-1.3M582.18 8.4v1.3M582.18 103.6v-1.3M534.7 39.04h1.3M682.3 39.04h-1.3M583.65 8.4v1.3M583.65 103.6v-1.3M534.7 39.99h1.3M682.3 39.99h-1.3M585.11 8.4v1.3M585.11 103.6v-1.3M534.7 40.93h1.3M682.3 40.93h-1.3M586.57 8.4v1.3M586.57 103.6v-1.3M534.7 41.87h1.3M682.3 41.87h-1.3M588.03 8.4v1.3M588.03 103.6v-1.3M534.7 42.81h1.3M682.3 42.81h-1.3M589.49 8.4v1.3M589.49 103.6v-1.3M534.7 43.75h1.3M682.3 43.75h-1.3M590.96 8.4v1.3M590.96 103.6v-1.3M534.7 44.70h1.3M682.3 44.70h-1.3M592.42 8.4v1.3M592.42 103.6v-1.3M534.7 45.64h1.3M682.3 45.64h-1.3M593.88 8.4v1.3M593.88 103.6v-1.3M534.7 46.58h1.3M682.3 46.58h-1.3M595.34 8.4v1.3M595.34 103.6v-1.3M534.7 47.52h1.3M682.3 47.52h-1.3M596.80 8.4v1.3M596.80 103.6v-1.3M534.7 48.46h1.3M682.3 48.46h-1.3M598.27 8.4v1.3M598.27 103.6v-1.3M534.7 49.41h1.3M682.3 49.41h-1.3M599.73 8.4v1.3M599.73 103.6v-1.3M534.7 50.35h1.3M682.3 50.35h-1.3M601.19 8.4v1.3M601.19 103.6v-1.3M534.7 51.29h1.3M682.3 51.29h-1.3M602.65 8.4v1.3M602.65 103.6v-1.3M534.7 52.23h1.3M682.3 52.23h-1.3M604.11 8.4v1.3M604.11 103.6v-1.3M534.7 53.17h1.3M682.3 53.17h-1.3M605.58 8.4v1.3M605.58 103.6v-1.3M534.7 54.12h1.3M682.3 54.12h-1.3M607.04 8.4v1.3M607.04 103.6v-1.3M534.7 55.06h1.3M682.3 55.06h-1.3M608.50 8.4v1.3M608.50 103.6v-1.3M534.7 56.00h1.3M682.3 56.00h-1.3M609.96 8.4v1.3M609.96 103.6v-1.3M534.7 56.94h1.3M682.3 56.94h-1.3M611.42 8.4v1.3M611.42 103.6v-1.3M534.7 57.88h1.3M682.3 57.88h-1.3M612.89 8.4v1.3M612.89 103.6v-1.3M534.7 58.83h1.3M682.3 58.83h-1.3M614.35 8.4v1.3M614.35 103.6v-1.3M534.7 59.77h1.3M682.3 59.77h-1.3M615.81 8.4v1.3M615.81 103.6v-1.3M534.7 60.71h1.3M682.3 60.71h-1.3M617.27 8.4v1.3M617.27 103.6v-1.3M534.7 61.65h1.3M682.3 61.65h-1.3M618.73 8.4v1.3M618.73 103.6v-1.3M534.7 62.59h1.3M682.3 62.59h-1.3M620.20 8.4v1.3M620.20 103.6v-1.3M534.7 63.54h1.3M682.3 63.54h-1.3M621.66 8.4v1.3M621.66 103.6v-1.3M534.7 64.48h1.3M682.3 64.48h-1.3M623.12 8.4v1.3M623.12 103.6v-1.3M534.7 65.42h1.3M682.3 65.42h-1.3M624.58 8.4v1.3M624.58 103.6v-1.3M534.7 66.36h1.3M682.3 66.36h-1.3M626.04 8.4v1.3M626.04 103.6v-1.3M534.7 67.30h1.3M682.3 67.30h-1.3M627.51 8.4v1.3M627.51 103.6v-1.3M534.7 68.25h1.3M682.3 68.25h-1.3M628.97 8.4v1.3M628.97 103.6v-1.3M534.7 69.19h1.3M682.3 69.19h-1.3M630.43 8.4v1.3M630.43 103.6v-1.3M534.7 70.13h1.3M682.3 70.13h-1.3M631.89 8.4v1.3M631.89 103.6v-1.3M534.7 71.07h1.3M682.3 71.07h-1.3M633.35 8.4v1.3M633.35 103.6v-1.3M534.7 72.01h1.3M682.3 72.01h-1.3M634.82 8.4v1.3M634.82 103.6v-1.3M534.7 72.96h1.3M682.3 72.96h-1.3M636.28 8.4v1.3M636.28 103.6v-1.3M534.7 73.90h1.3M682.3 73.90h-1.3M637.74 8.4v1.3M637.74 103.6v-1.3M534.7 74.84h1.3M682.3 74.84h-1.3M639.20 8.4v1.3M639.20 103.6v-1.3M534.7 75.78h1.3M682.3 75.78h-1.3M640.66 8.4v1.3M640.66 103.6v-1.3M534.7 76.72h1.3M682.3 76.72h-1.3M642.13 8.4v1.3M642.13 103.6v-1.3M534.7 77.67h1.3M682.3 77.67h-1.3M643.59 8.4v1.3M643.59 103.6v-1.3M534.7 78.61h1.3M682.3 78.61h-1.3M645.05 8.4v1.3M645.05 103.6v-1.3M534.7 79.55h1.3M682.3 79.55h-1.3M646.51 8.4v1.3M646.51 103.6v-1.3M534.7 80.49h1.3M682.3 80.49h-1.3M647.97 8.4v1.3M647.97 103.6v-1.3M534.7 81.43h1.3M682.3 81.43h-1.3M649.44 8.4v1.3M649.44 103.6v-1.3M534.7 82.38h1.3M682.3 82.38h-1.3M650.90 8.4v1.3M650.90 103.6v-1.3M534.7 83.32h1.3M682.3 83.32h-1.3M652.36 8.4v1.3M652.36 103.6v-1.3M534.7 84.26h1.3M682.3 84.26h-1.3M653.82 8.4v1.3M653.82 103.6v-1.3M534.7 85.20h1.3M682.3 85.20h-1.3M655.28 8.4v1.3M655.28 103.6v-1.3M534.7 86.14h1.3M682.3 86.14h-1.3M656.75 8.4v1.3M656.75 103.6v-1.3M534.7 87.09h1.3M682.3 87.09h-1.3M658.21 8.4v1.3M658.21 103.6v-1.3M534.7 88.03h1.3M682.3 88.03h-1.3M659.67 8.4v1.3M659.67 103.6v-1.3M534.7 88.97h1.3M682.3 88.97h-1.3M661.13 8.4v1.3M661.13 103.6v-1.3M534.7 89.91h1.3M682.3 89.91h-1.3M662.59 8.4v1.3M662.59 103.6v-1.3M534.7 90.85h1.3M682.3 90.85h-1.3M664.06 8.4v1.3M664.06 103.6v-1.3M534.7 91.80h1.3M682.3 91.80h-1.3M665.52 8.4v1.3M665.52 103.6v-1.3M534.7 92.74h1.3M682.3 92.74h-1.3M666.98 8.4v1.3M666.98 103.6v-1.3M534.7 93.68h1.3M682.3 93.68h-1.3M668.44 8.4v1.3M668.44 103.6v-1.3M534.7 94.62h1.3M682.3 94.62h-1.3M669.90 8.4v1.3M669.90 103.6v-1.3M534.7 95.56h1.3M682.3 95.56h-1.3M671.37 8.4v1.3M671.37 103.6v-1.3M534.7 96.51h1.3M682.3 96.51h-1.3M672.83 8.4v1.3M672.83 103.6v-1.3M534.7 97.45h1.3M682.3 97.45h-1.3M674.29 8.4v1.3M674.29 103.6v-1.3M534.7 98.39h1.3M682.3 98.39h-1.3M675.75 8.4v1.3M675.75 103.6v-1.3M534.7 99.33h1.3M682.3 99.33h-1.3M677.21 8.4v1.3M677.21 103.6v-1.3M534.7 100.27h1.3M682.3 100.27h-1.3M678.68 8.4v1.3M678.68 103.6v-1.3M534.7 101.22h1.3M682.3 101.22h-1.3M680.14 8.4v1.3M680.14 103.6v-1.3M534.7 102.16h1.3M682.3 102.16h-1.3M681.60 8.4v1.3M681.60 103.6v-1.3M534.7 103.10h1.3M682.3 103.10h-1.3" stroke="#c2c2c2" stroke-width="0.45" fill="none"/><rect x="534.7" y="8.4" width="147.6" height="95.2" fill="none" stroke="#868686" stroke-width="0.85"/><path d="M535.40 103.6v1.7M534.7 8.90h-1.7M550.02 103.6v1.0M534.7 18.32h-1.0M564.64 103.6v1.7M534.7 27.74h-1.7M579.26 103.6v1.0M534.7 37.16h-1.0M593.88 103.6v1.7M534.7 46.58h-1.7M608.50 103.6v1.0M534.7 56.00h-1.0M623.12 103.6v1.7M534.7 65.42h-1.7M637.74 103.6v1.0M534.7 74.84h-1.0M652.36 103.6v1.7M534.7 84.26h-1.7M666.98 103.6v1.0M534.7 93.68h-1.0M681.60 103.6v1.7M534.7 103.10h-1.7" stroke="#222" stroke-width="0.6" fill="none"/><rect x="560.8" y="68.4" width="119.6" height="32.9" rx="1.2" fill="#fff" fill-opacity="0.8" stroke="#d0d0d0" stroke-width="0.5"/><path d="M562.5 71.9h9.3" stroke="#ffe0b8" stroke-width="0.45"/><path d="M562.5 78.3h9.3" stroke="#a9c4ff" stroke-width="0.45"/><path d="M562.5 84.8h9.3" stroke="#cfa3bb" stroke-width="0.45"/><path d="M562.5 91.3h9.3" stroke="#98bcc6" stroke-width="0.45"/><path d="M562.5 97.7h9.3" stroke="#ff9098" stroke-width="0.45"/></g>
<g><path d="M18.4 133.0V228.2M17.7 133.5H165.3M47.6 133.0V228.2M17.7 152.3H165.3M76.9 133.0V228.2M17.7 171.2H165.3M106.1 133.0V228.2M17.7 190.0H165.3M135.4 133.0V228.2M17.7 208.9H165.3M164.6 133.0V228.2M17.7 227.7H165.3" stroke="#8c8c8c" stroke-width="0.45" stroke-dasharray="0.7 0.8" fill="none"/><path d="M18.4 133.5H25.0H25.0V140.3H25.1H25.4V141.9H25.6H27.2V139.1H28.8H32.1V136.7H35.5H36.5V136.9H37.5H38.5V136.3H39.5H40.7V136.0H41.9H44.7V136.8H47.5H49.1V136.0H50.7H53.5V137.0H56.3H59.5V137.5H62.6H65.6V138.5H68.6H69.4V139.1H70.2H72.9V140.3H75.7H78.7V140.1H81.7H84.5V139.7H87.3H90.5V140.1H93.7H96.9V139.8H100.1H102.7V140.0H105.3H108.5V140.7H111.6H114.0V142.2H116.4H117.4V142.5H118.3H119.9V143.1H121.4H124.6V145.7H127.8H129.4V146.9H131.0H133.0V149.1H134.9H137.9V151.3H140.9H143.4V154.1H146.0H148.5V156.9H151.0H152.6V160.4H154.1H155.6V163.6H157.2H157.7V165.4H158.2H158.9V167.7H159.7H160.3V169.7H160.9H162.1V173.6H163.4H164.0V175.9H164.6" stroke="#ffe0b8" stroke-width="0.48" fill="none" stroke-linejoin="round"/><path d="M18.4 133.5H23.6H26.0V136.5H28.4V139.4V141.2H29.6V141.5H30.7H32.2V137.2H33.6H34.8V133.6H36.1H39.5V133.5H42.9H44.3V134.1H45.7H46.3V136.9H47.0H47.3V140.6H47.7H49.0V141.3H50.4H52.3V142.8H54.3H58.2H59.9V143.8H61.7H64.6V144.4H67.6H71.2V145.6H74.7H78.3V146.2H81.9H83.3V146.7H84.7H86.5V147.0H88.3H91.7V146.2H95.0H96.0V145.4H97.0H98.0V145.5H98.9H99.9V144.5H100.9H104.4V145.3H107.9H110.1V146.6H112.2H114.2V147.2H116.2H117.1V148.0H118.1H121.5V149.1H124.8H128.2V151.1H131.7H134.4V152.9H137.0H139.9V156.2H142.8H144.7V159.1H146.6H147.9V161.1H149.2H150.1V162.6H151.1H152.4V164.6H153.6H154.6V166.1H155.5H156.8V168.3H158.0H158.5V169.8H159.0H159.5V170.7H160.0H162.3V175.9H164.6" stroke="#a9c4ff" stroke-width="0.48" fill="none" stroke-linejoin="round"/><path d="M21.0 133.5V138.0V142.7V145.4V150.5V152.4V157.1V160.8H21.5V162.9H21.6H22.1V155.8H22.5H23.7V150.3H24.9H25.4V146.3H26.0H28.6V142.0H31.2H33.3V141.0H35.5H37.5V141.1H39.6H40.3V141.8H41.0H43.7V144.9H46.4H47.6V146.5H48.9H50.5V146.5H52.1H53.7V147.2H55.2H56.6V147.1H58.0H59.6V148.4H61.2H62.7V149.2H64.3H66.4V149.9H68.5H70.3V150.6H72.0H75.0V151.3H78.0H81.4V151.1H84.8H88.1V151.6H91.4H93.1V152.9H94.8H97.3V154.8H99.9H102.2V158.1H104.6H107.4V158.3H110.2H112.2V158.9H114.2H115.6V158.8H116.9H119.5V161.1H122.1H124.2V164.6H126.3H128.1V164.4H129.9H132.5V165.2H135.0H136.0V165.5H137.0H139.9V166.9H142.8H146.0V169.2H149.2H152.6V171.8H156.0H156.9V172.6H157.8H160.3V174.9H162.8H163.7V175.9H164.6" stroke="#cfa3bb" stroke-width="0.48" fill="none" stroke-linejoin="round"/><path d="M18.4 133.5H19.4V134.3H20.4H20.9V139.7H21.4V141.6H21.4V149.0H21.4H22.6V148.6H23.8H24.5V146.5H25.3H26.5V144.8H27.8H28.8V143.0H29.9H33.0V141.0H36.2H39.1V142.2H42.0H45.4V144.0H48.9H51.8V145.9H54.8H56.6V146.2H58.4H61.4V146.6H64.4H68.0H69.7V146.9H71.5H73.5V147.6H75.5H78.2V148.6H81.0H82.5V149.5H84.1H86.4V150.0H88.7H91.1V151.4H93.4H96.3V153.5H99.2H101.4V154.3H103.5H105.4V154.9H107.4H109.7V156.5H112.1H114.0V157.1H116.0H118.4V159.2H120.9H121.6V160.9H122.3H123.2V162.7H124.0H124.6V163.5H125.2H126.9V165.2H128.7H131.7V167.7H134.7H136.9V169.3H139.2H141.6V170.8H144.1H147.5V171.6H150.9H154.0V172.0H157.2H158.7V173.2H160.2H161.5V174.4H162.8H163.7V175.9H164.6" stroke="#98bcc6" stroke-width="0.48" fill="none" stroke-linejoin="round"/><path d="M18.4 133.5H20.4V133.6H22.4H25.4V133.8H28.4H30.4V134.1H32.4H34.9V133.5H37.4H37.5V136.9H37.5H40.5V137.9H43.5H46.1V139.5H48.6H51.0V139.9H53.4H54.2V140.5H55.0H58.6H60.2H62.2V140.4H64.2H65.4V141.1H66.6H68.0V140.9H69.4H72.6H75.0H76.2V142.2H77.4H79.6V142.3H81.8H83.0V142.8H84.2H86.6V142.7H89.0H92.4V143.0H95.8H98.6V142.9H101.4H105.0V142.7H108.6H109.6V143.0H110.6H113.2V142.5H115.8H117.2V143.1H118.6H122.0V143.3H125.4H127.6V144.2H129.8H132.5V145.3H135.3H138.0V147.6H140.7H141.7V149.0H142.8H143.6V150.0H144.4H146.5V154.5H148.6H150.9V159.0H153.2H154.6V161.6H156.0H156.5V162.5H157.0H157.5V164.2H158.0H159.9V169.0H161.8H162.7V174.2H163.7H164.1V175.9H164.6" stroke="#ff9098" stroke-width="0.48" fill="none" stroke-linejoin="round"/><path d="M18.4 227.7L164.6 133.5" stroke="#333" stroke-width="0.5" stroke-dasharray="1.6 0.5" fill="none"/><path d="M18.40 133.0v1.3M18.40 228.2v-1.3M17.7 133.50h1.3M165.3 133.50h-1.3M19.86 133.0v1.3M19.86 228.2v-1.3M17.7 134.44h1.3M165.3 134.44h-1.3M21.32 133.0v1.3M21.32 228.2v-1.3M17.7 135.38h1.3M165.3 135.38h-1.3M22.79 133.0v1.3M22.79 228.2v-1.3M17.7 136.33h1.3M165.3 136.33h-1.3M24.25 133.0v1.3M24.25 228.2v-1.3M17.7 137.27h1.3M165.3 137.27h-1.3M25.71 133.0v1.3M25.71 228.2v-1.3M17.7 138.21h1.3M165.3 138.21h-1.3M27.17 133.0v1.3M27.17 228.2v-1.3M17.7 139.15h1.3M165.3 139.15h-1.3M28.63 133.0v1.3M28.63 228.2v-1.3M17.7 140.09h1.3M165.3 140.09h-1.3M30.10 133.0v1.3M30.10 228.2v-1.3M17.7 141.04h1.3M165.3 141.04h-1.3M31.56 133.0v1.3M31.56 228.2v-1.3M17.7 141.98h1.3M165.3 141.98h-1.3M33.02 133.0v1.3M33.02 228.2v-1.3M17.7 142.92h1.3M165.3 142.92h-1.3M34.48 133.0v1.3M34.48 228.2v-1.3M17.7 143.86h1.3M165.3 143.86h-1.3M35.94 133.0v1.3M35.94 228.2v-1.3M17.7 144.80h1.3M165.3 144.80h-1.3M37.41 133.0v1.3M37.41 228.2v-1.3M17.7 145.75h1.3M165.3 145.75h-1.3M38.87 133.0v1.3M38.87 228.2v-1.3M17.7 146.69h1.3M165.3 146.69h-1.3M40.33 133.0v1.3M40.33 228.2v-1.3M17.7 147.63h1.3M165.3 147.63h-1.3M41.79 133.0v1.3M41.79 228.2v-1.3M17.7 148.57h1.3M165.3 148.57h-1.3M43.25 133.0v1.3M43.25 228.2v-1.3M17.7 149.51h1.3M165.3 149.51h-1.3M44.72 133.0v1.3M44.72 228.2v-1.3M17.7 150.46h1.3M165.3 150.46h-1.3M46.18 133.0v1.3M46.18 228.2v-1.3M17.7 151.40h1.3M165.3 151.40h-1.3M47.64 133.0v1.3M47.64 228.2v-1.3M17.7 152.34h1.3M165.3 152.34h-1.3M49.10 133.0v1.3M49.10 228.2v-1.3M17.7 153.28h1.3M165.3 153.28h-1.3M50.56 133.0v1.3M50.56 228.2v-1.3M17.7 154.22h1.3M165.3 154.22h-1.3M52.03 133.0v1.3M52.03 228.2v-1.3M17.7 155.17h1.3M165.3 155.17h-1.3M53.49 133.0v1.3M53.49 228.2v-1.3M17.7 156.11h1.3M165.3 156.11h-1.3M54.95 133.0v1.3M54.95 228.2v-1.3M17.7 157.05h1.3M165.3 157.05h-1.3M56.41 133.0v1.3M56.41 228.2v-1.3M17.7 157.99h1.3M165.3 157.99h-1.3M57.87 133.0v1.3M57.87 228.2v-1.3M17.7 158.93h1.3M165.3 158.93h-1.3M59.34 133.0v1.3M59.34 228.2v-1.3M17.7 159.88h1.3M165.3 159.88h-1.3M60.80 133.0v1.3M60.80 228.2v-1.3M17.7 160.82h1.3M165.3 160.82h-1.3M62.26 133.0v1.3M62.26 228.2v-1.3M17.7 161.76h1.3M165.3 161.76h-1.3M63.72 133.0v1.3M63.72 228.2v-1.3M17.7 162.70h1.3M165.3 162.70h-1.3M65.18 133.0v1.3M65.18 228.2v-1.3M17.7 163.64h1.3M165.3 163.64h-1.3M66.65 133.0v1.3M66.65 228.2v-1.3M17.7 164.59h1.3M165.3 164.59h-1.3M68.11 133.0v1.3M68.11 228.2v-1.3M17.7 165.53h1.3M165.3 165.53h-1.3M69.57 133.0v1.3M69.57 228.2v-1.3M17.7 166.47h1.3M165.3 166.47h-1.3M71.03 133.0v1.3M71.03 228.2v-1.3M17.7 167.41h1.3M165.3 167.41h-1.3M72.49 133.0v1.3M72.49 228.2v-1.3M17.7 168.35h1.3M165.3 168.35h-1.3M73.96 133.0v1.3M73.96 228.2v-1.3M17.7 169.30h1.3M165.3 169.30h-1.3M75.42 133.0v1.3M75.42 228.2v-1.3M17.7 170.24h1.3M165.3 170.24h-1.3M76.88 133.0v1.3M76.88 228.2v-1.3M17.7 171.18h1.3M165.3 171.18h-1.3M78.34 133.0v1.3M78.34 228.2v-1.3M17.7 172.12h1.3M165.3 172.12h-1.3M79.80 133.0v1.3M79.80 228.2v-1.3M17.7 173.06h1.3M165.3 173.06h-1.3M81.27 133.0v1.3M81.27 228.2v-1.3M17.7 174.01h1.3M165.3 174.01h-1.3M82.73 133.0v1.3M82.73 228.2v-1.3M17.7 174.95h1.3M165.3 174.95h-1.3M84.19 133.0v1.3M84.19 228.2v-1.3M17.7 175.89h1.3M165.3 175.89h-1.3M85.65 133.0v1.3M85.65 228.2v-1.3M17.7 176.83h1.3M165.3 176.83h-1.3M87.11 133.0v1.3M87.11 228.2v-1.3M17.7 177.77h1.3M165.3 177.77h-1.3M88.58 133.0v1.3M88.58 228.2v-1.3M17.7 178.72h1.3M165.3 178.72h-1.3M90.04 133.0v1.3M90.04 228.2v-1.3M17.7 179.66h1.3M165.3 179.66h-1.3M91.50 133.0v1.3M91.50 228.2v-1.3M17.7 180.60h1.3M165.3 180.60h-1.3M92.96 133.0v1.3M92.96 228.2v-1.3M17.7 181.54h1.3M165.3 181.54h-1.3M94.42 133.0v1.3M94.42 228.2v-1.3M17.7 182.48h1.3M165.3 182.48h-1.3M95.89 133.0v1.3M95.89 228.2v-1.3M17.7 183.43h1.3M165.3 183.43h-1.3M97.35 133.0v1.3M97.35 228.2v-1.3M17.7 184.37h1.3M165.3 184.37h-1.3M98.81 133.0v1.3M98.81 228.2v-1.3M17.7 185.31h1.3M165.3 185.31h-1.3M100.27 133.0v1.3M100.27 228.2v-1.3M17.7 186.25h1.3M165.3 186.25h-1.3M101.73 133.0v1.3M101.73 228.2v-1.3M17.7 187.19h1.3M165.3 187.19h-1.3M103.20 133.0v1.3M103.20 228.2v-1.3M17.7 188.14h1.3M165.3 188.14h-1.3M104.66 133.0v1.3M104.66 228.2v-1.3M17.7 189.08h1.3M165.3 189.08h-1.3M106.12 133.0v1.3M106.12 228.2v-1.3M17.7 190.02h1.3M165.3 190.02h-1.3M107.58 133.0v1.3M107.58 228.2v-1.3M17.7 190.96h1.3M165.3 190.96h-1.3M109.04 133.0v1.3M109.04 228.2v-1.3M17.7 191.90h1.3M165.3 191.90h-1.3M110.51 133.0v1.3M110.51 228.2v-1.3M17.7 192.85h1.3M165.3 192.85h-1.3M111.97 133.0v1.3M111.97 228.2v-1.3M17.7 193.79h1.3M165.3 193.79h-1.3M113.43 133.0v1.3M113.43 228.2v-1.3M17.7 194.73h1.3M165.3 194.73h-1.3M114.89 133.0v1.3M114.89 228.2v-1.3M17.7 195.67h1.3M165.3 195.67h-1.3M116.35 133.0v1.3M116.35 228.2v-1.3M17.7 196.61h1.3M165.3 196.61h-1.3M117.82 133.0v1.3M117.82 228.2v-1.3M17.7 197.56h1.3M165.3 197.56h-1.3M119.28 133.0v1.3M119.28 228.2v-1.3M17.7 198.50h1.3M165.3 198.50h-1.3M120.74 133.0v1.3M120.74 228.2v-1.3M17.7 199.44h1.3M165.3 199.44h-1.3M122.20 133.0v1.3M122.20 228.2v-1.3M17.7 200.38h1.3M165.3 200.38h-1.3M123.66 133.0v1.3M123.66 228.2v-1.3M17.7 201.32h1.3M165.3 201.32h-1.3M125.13 133.0v1.3M125.13 228.2v-1.3M17.7 202.27h1.3M165.3 202.27h-1.3M126.59 133.0v1.3M126.59 228.2v-1.3M17.7 203.21h1.3M165.3 203.21h-1.3M128.05 133.0v1.3M128.05 228.2v-1.3M17.7 204.15h1.3M165.3 204.15h-1.3M129.51 133.0v1.3M129.51 228.2v-1.3M17.7 205.09h1.3M165.3 205.09h-1.3M130.97 133.0v1.3M130.97 228.2v-1.3M17.7 206.03h1.3M165.3 206.03h-1.3M132.44 133.0v1.3M132.44 228.2v-1.3M17.7 206.98h1.3M165.3 206.98h-1.3M133.90 133.0v1.3M133.90 228.2v-1.3M17.7 207.92h1.3M165.3 207.92h-1.3M135.36 133.0v1.3M135.36 228.2v-1.3M17.7 208.86h1.3M165.3 208.86h-1.3M136.82 133.0v1.3M136.82 228.2v-1.3M17.7 209.80h1.3M165.3 209.80h-1.3M138.28 133.0v1.3M138.28 228.2v-1.3M17.7 210.74h1.3M165.3 210.74h-1.3M139.75 133.0v1.3M139.75 228.2v-1.3M17.7 211.69h1.3M165.3 211.69h-1.3M141.21 133.0v1.3M141.21 228.2v-1.3M17.7 212.63h1.3M165.3 212.63h-1.3M142.67 133.0v1.3M142.67 228.2v-1.3M17.7 213.57h1.3M165.3 213.57h-1.3M144.13 133.0v1.3M144.13 228.2v-1.3M17.7 214.51h1.3M165.3 214.51h-1.3M145.59 133.0v1.3M145.59 228.2v-1.3M17.7 215.45h1.3M165.3 215.45h-1.3M147.06 133.0v1.3M147.06 228.2v-1.3M17.7 216.40h1.3M165.3 216.40h-1.3M148.52 133.0v1.3M148.52 228.2v-1.3M17.7 217.34h1.3M165.3 217.34h-1.3M149.98 133.0v1.3M149.98 228.2v-1.3M17.7 218.28h1.3M165.3 218.28h-1.3M151.44 133.0v1.3M151.44 228.2v-1.3M17.7 219.22h1.3M165.3 219.22h-1.3M152.90 133.0v1.3M152.90 228.2v-1.3M17.7 220.16h1.3M165.3 220.16h-1.3M154.37 133.0v1.3M154.37 228.2v-1.3M17.7 221.11h1.3M165.3 221.11h-1.3M155.83 133.0v1.3M155.83 228.2v-1.3M17.7 222.05h1.3M165.3 222.05h-1.3M157.29 133.0v1.3M157.29 228.2v-1.3M17.7 222.99h1.3M165.3 222.99h-1.3M158.75 133.0v1.3M158.75 228.2v-1.3M17.7 223.93h1.3M165.3 223.93h-1.3M160.21 133.0v1.3M160.21 228.2v-1.3M17.7 224.87h1.3M165.3 224.87h-1.3M161.68 133.0v1.3M161.68 228.2v-1.3M17.7 225.82h1.3M165.3 225.82h-1.3M163.14 133.0v1.3M163.14 228.2v-1.3M17.7 226.76h1.3M165.3 226.76h-1.3M164.60 133.0v1.3M164.60 228.2v-1.3M17.7 227.70h1.3M165.3 227.70h-1.3" stroke="#c2c2c2" stroke-width="0.45" fill="none"/><rect x="17.7" y="133.0" width="147.6" height="95.2" fill="none" stroke="#868686" stroke-width="0.85"/><path d="M18.40 228.2v1.7M17.7 133.50h-1.7M33.02 228.2v1.0M17.7 142.92h-1.0M47.64 228.2v1.7M17.7 152.34h-1.7M62.26 228.2v1.0M17.7 161.76h-1.0M76.88 228.2v1.7M17.7 171.18h-1.7M91.50 228.2v1.0M17.7 180.60h-1.0M106.12 228.2v1.7M17.7 190.02h-1.7M120.74 228.2v1.0M17.7 199.44h-1.0M135.36 228.2v1.7M17.7 208.86h-1.7M149.98 228.2v1.0M17.7 218.28h-1.0M164.60 228.2v1.7M17.7 227.70h-1.7" stroke="#222" stroke-width="0.6" fill="none"/><rect x="47.6" y="193.0" width="115.8" height="32.9" rx="1.2" fill="#fff" fill-opacity="0.8" stroke="#d0d0d0" stroke-width="0.5"/><path d="M49.3 196.4h9.3" stroke="#ffe0b8" stroke-width="0.45"/><path d="M49.3 202.9h9.3" stroke="#a9c4ff" stroke-width="0.45"/><path d="M49.3 209.4h9.3" stroke="#cfa3bb" stroke-width="0.45"/><path d="M49.3 215.9h9.3" stroke="#98bcc6" stroke-width="0.45"/><path d="M49.3 222.3h9.3" stroke="#ff9098" stroke-width="0.45"/></g>
<g><path d="M191.1 133.0V228.2M190.4 133.5H338.0M220.3 133.0V228.2M190.4 152.3H338.0M249.6 133.0V228.2M190.4 171.2H338.0M278.8 133.0V228.2M190.4 190.0H338.0M308.1 133.0V228.2M190.4 208.9H338.0M337.3 133.0V228.2M190.4 227.7H338.0" stroke="#8c8c8c" stroke-width="0.45" stroke-dasharray="0.7 0.8" fill="none"/><path d="M191.1 133.5H191.7V134.0H192.3H194.5V133.6H196.7H197.1V136.6H197.6V138.7V141.4V143.2H199.5V144.0H201.2H202.2V142.4H203.2H204.2V142.0H205.2H206.8V142.8H208.4H209.9V141.5H211.5H212.1V141.7H212.7H213.3V142.0H213.9H215.1V140.7H216.3H218.3V141.0H220.3H221.5V140.0H222.7H223.3V140.1H223.9H224.9V139.3H225.9H226.7V140.1H227.5H229.4V139.2H231.4H232.4V139.4H233.4H236.0V139.6H238.6H239.6V139.0H240.6H241.4V139.4H242.2H242.8V139.6H243.4H246.6H248.2V140.5H249.8H251.8V140.0H253.8H255.2V142.0H256.5H257.6V145.4H258.8H259.2V145.7H259.6H261.7V148.0H263.8H264.7V148.7H265.7H266.6V148.8H267.6H268.4V149.0H269.1H270.7V150.2H272.2H274.0V150.7H275.8H277.0V150.2H278.2H279.2V151.0H280.2H280.8V151.2H281.4H283.2V151.4H285.0H287.0V151.3H289.0H289.8V151.6H290.6H291.6V151.7H292.6H294.6V152.2H296.6H300.6H301.4V152.4H302.2H304.7V153.2H307.2H309.2V154.6H311.1H313.1V155.8H315.0H316.1V156.0H317.2H319.5V158.2H321.7H323.0V159.3H324.3H325.7V161.3H327.2H329.0V165.0H330.9H332.2V168.9H333.5H333.9V169.9H334.2H334.6V171.1H334.9H335.4V172.9H335.9H336.1V174.7H336.4H336.9V176.8H337.3" stroke="#ffe0b8" stroke-width="0.48" fill="none" stroke-linejoin="round"/><path d="M191.1 133.5H193.5H195.1H196.3H201.1H201.7V137.0H202.3V138.2H202.7V141.3H203.2H203.6V143.4H204.0H205.0V144.9H205.9H206.2V142.9H206.5H206.9V139.2H207.4H208.8V139.4H210.2H210.8V138.6H211.4H213.0V138.0H214.6H216.3V139.4H218.1H218.7V138.2H219.2H219.8V138.0H220.4H222.3H224.2V137.1H226.2H228.6V138.2H231.0H232.3V139.2H233.7H235.9V139.0H238.0H240.0V140.2H242.0H242.9V140.6H243.9H245.3V140.9H246.6H248.8V141.8H250.9H252.3V142.8H253.7H255.2V143.5H256.8H258.7V144.5H260.6H261.4V145.4H262.2H263.5V145.6H264.9H266.4V146.9H267.9H269.5V147.5H271.0H272.9V148.5H274.8H275.8V148.9H276.8H278.2V150.0H279.6H281.0V149.8H282.4H284.0H286.2V150.3H288.3H290.7V150.8H293.1H294.6V151.5H296.2H297.6V152.1H298.9H301.3H302.6V153.3H304.0H305.1V153.9H306.3H307.3V154.6H308.2H310.6V155.7H312.9H314.1V156.3H315.2H316.2V156.6H317.2H318.8V158.6H320.4H320.9V158.9H321.5H322.5V160.1H323.6H325.1V161.7H326.5H328.1V164.1H329.6H330.3V166.2H331.0H331.4V167.1H331.7H333.2V170.7H334.6H334.8V171.8H335.1H335.7V174.7H336.3H336.8V176.8H337.3" stroke="#a9c4ff" stroke-width="0.48" fill="none" stroke-linejoin="round"/><path d="M191.1 133.5H194.3H195.1V133.8H195.9H197.3V133.5H198.7H200.7V133.8H202.7H203.7V133.5H204.7H207.5H208.3V137.4H209.1H209.3V141.2H209.6H209.8V145.7H210.1H210.2V147.1H210.2H210.5V152.2H210.8H211.4V153.7H212.1H212.7V155.6H213.2H215.4V157.4H217.5H218.3V156.8H219.0H221.6V155.6H224.1H224.7V155.8H225.3H225.8V154.6H226.4H227.8V155.0H229.1H230.9V153.1H232.6H234.2V153.8H235.8H238.0V153.2H240.2H241.0V152.0H241.8H243.8V152.5H245.7H246.9V151.8H248.1H250.5V152.3H252.9H254.7V152.4H256.5H258.4V152.8H260.4H261.2V153.3H262.0H264.4V153.7H266.8H268.8H269.8V153.9H270.8H272.2V154.9H273.6H275.6V154.8H277.6H278.7V155.7H279.9H281.3V155.2H282.6H284.4V156.4H286.2H287.1V157.3H288.1H288.9V157.0H289.7H291.0V158.4H292.4H294.3V159.2H296.2H298.0V160.7H299.7H300.6V161.0H301.6H303.4V161.5H305.1H307.3V162.6H309.5H311.5V162.8H313.4H314.2V163.0H315.0H315.6V163.2H316.1H318.6V165.2H321.0H322.8V166.9H324.7H325.6V167.7H326.5H328.3V169.8H330.1H331.4V171.3H332.8H333.9V173.8H335.1H335.8V176.1H336.6H336.9V176.8H337.3" stroke="#cfa3bb" stroke-width="0.48" fill="none" stroke-linejoin="round"/><path d="M196.9 144.8H197.1V147.1H197.2H197.4V150.5H197.6H197.9V153.7H198.1H198.3V157.9H198.5H198.7V160.8H199.0H199.4H200.0V158.2H200.5H201.2V156.7H201.9H203.2V155.6H204.4H204.9V152.7H205.4H205.9V155.5H206.4H206.7V157.6H206.9H207.1V159.4H207.3H207.5V161.7H207.7H209.5V159.8H211.4H212.0V159.6H212.6H213.6V159.3H214.5H215.6V159.8H216.7H218.1V163.6H219.5H220.8V159.9H222.1H222.7V159.4H223.2H224.3V158.7H225.3H227.2V157.1H229.2H229.9V156.6H230.7H231.5V156.8H232.3H236.6H237.2V156.2H237.8H238.4V156.1H239.0H239.8V156.1H240.6H242.8V156.0H245.0H246.2V155.5H247.4H248.7V155.8H250.1H251.6V156.8H253.2H255.5V157.7H257.8H258.4V158.8H258.9H259.7V158.6H260.5H261.9V159.1H263.3H265.1V158.5H266.9H268.5H269.9V158.0H271.3H272.9V158.2H274.5H275.1V158.4H275.7H276.9V158.3H278.1H278.7V158.8H279.3H281.7V158.6H284.1H284.7V158.5H285.3H286.1V158.7H286.9H288.6V159.0H290.4H291.4V159.1H292.4H294.0V159.8H295.6H296.7V160.3H297.9H300.4V161.7H303.0H304.5V162.0H306.1H307.3V162.7H308.4H309.2V163.3H310.0H311.4V163.7H312.7H314.7V164.5H316.6H318.5V165.8H320.3H322.2V167.6H324.1H325.5V169.1H327.0H329.1V171.1H331.3H332.4V172.6H333.5H334.6V174.8H335.7H336.5V176.8H337.3" stroke="#98bcc6" stroke-width="0.48" fill="none" stroke-linejoin="round"/><path d="M191.1 133.5H193.1H194.9V134.1H196.7H198.9V134.3H201.1H202.3V133.5H203.5H204.5V133.7H205.5H206.7V133.9H207.9H209.3V133.8H210.7H211.9H213.1V133.6H214.3H216.8H218.4H219.6V136.8H220.8H222.8V136.7H224.8H226.2V136.2H227.5H228.1V136.8H228.7H230.5V139.4H232.3H233.4V139.8H234.5H236.6V141.2H238.8H240.6V140.9H242.4H243.4V141.3H244.4H246.3V143.1H248.3H250.1V143.8H251.8H253.0V144.3H254.1H256.3V143.8H258.5H259.7V143.0H260.9H261.7V143.6H262.5H263.1V142.3H263.7H265.5V143.3H267.2H268.2V143.9H269.1H269.9V144.4H270.7H271.3V145.0H271.8H273.8V145.6H275.7H276.7V146.1H277.7H279.9V147.1H282.1H284.4V147.4H286.8H289.0V148.1H291.2H293.2H295.6V148.8H298.0H299.8V148.9H301.6H303.5V151.2H305.4H307.6V153.0H309.8H311.0V153.4H312.1H313.3V153.8H314.4H316.8V155.4H319.1H320.0V156.4H321.0H321.7V156.9H322.4H323.0V157.3H323.6H325.1V158.2H326.6H327.7V159.3H328.8H330.3V162.7H331.7H332.0V163.8H332.3H332.9V166.6H333.5H334.3V169.9H335.0H335.5V173.3H336.0H336.6V176.8H337.3" stroke="#ff9098" stroke-width="0.48" fill="none" stroke-linejoin="round"/><path d="M191.1 227.7L337.3 133.5" stroke="#333" stroke-width="0.5" stroke-dasharray="1.6 0.5" fill="none"/><path d="M191.10 133.0v1.3M191.10 228.2v-1.3M190.4 133.50h1.3M338.0 133.50h-1.3M192.56 133.0v1.3M192.56 228.2v-1.3M190.4 134.44h1.3M338.0 134.44h-1.3M194.02 133.0v1.3M194.02 228.2v-1.3M190.4 135.38h1.3M338.0 135.38h-1.3M195.49 133.0v1.3M195.49 228.2v-1.3M190.4 136.33h1.3M338.0 136.33h-1.3M196.95 133.0v1.3M196.95 228.2v-1.3M190.4 137.27h1.3M338.0 137.27h-1.3M198.41 133.0v1.3M198.41 228.2v-1.3M190.4 138.21h1.3M338.0 138.21h-1.3M199.87 133.0v1.3M199.87 228.2v-1.3M190.4 139.15h1.3M338.0 139.15h-1.3M201.33 133.0v1.3M201.33 228.2v-1.3M190.4 140.09h1.3M338.0 140.09h-1.3M202.80 133.0v1.3M202.80 228.2v-1.3M190.4 141.04h1.3M338.0 141.04h-1.3M204.26 133.0v1.3M204.26 228.2v-1.3M190.4 141.98h1.3M338.0 141.98h-1.3M205.72 133.0v1.3M205.72 228.2v-1.3M190.4 142.92h1.3M338.0 142.92h-1.3M207.18 133.0v1.3M207.18 228.2v-1.3M190.4 143.86h1.3M338.0 143.86h-1.3M208.64 133.0v1.3M208.64 228.2v-1.3M190.4 144.80h1.3M338.0 144.80h-1.3M210.11 133.0v1.3M210.11 228.2v-1.3M190.4 145.75h1.3M338.0 145.75h-1.3M211.57 133.0v1.3M211.57 228.2v-1.3M190.4 146.69h1.3M338.0 146.69h-1.3M213.03 133.0v1.3M213.03 228.2v-1.3M190.4 147.63h1.3M338.0 147.63h-1.3M214.49 133.0v1.3M214.49 228.2v-1.3M190.4 148.57h1.3M338.0 148.57h-1.3M215.95 133.0v1.3M215.95 228.2v-1.3M190.4 149.51h1.3M338.0 149.51h-1.3M217.42 133.0v1.3M217.42 228.2v-1.3M190.4 150.46h1.3M338.0 150.46h-1.3M218.88 133.0v1.3M218.88 228.2v-1.3M190.4 151.40h1.3M338.0 151.40h-1.3M220.34 133.0v1.3M220.34 228.2v-1.3M190.4 152.34h1.3M338.0 152.34h-1.3M221.80 133.0v1.3M221.80 228.2v-1.3M190.4 153.28h1.3M338.0 153.28h-1.3M223.26 133.0v1.3M223.26 228.2v-1.3M190.4 154.22h1.3M338.0 154.22h-1.3M224.73 133.0v1.3M224.73 228.2v-1.3M190.4 155.17h1.3M338.0 155.17h-1.3M226.19 133.0v1.3M226.19 228.2v-1.3M190.4 156.11h1.3M338.0 156.11h-1.3M227.65 133.0v1.3M227.65 228.2v-1.3M190.4 157.05h1.3M338.0 157.05h-1.3M229.11 133.0v1.3M229.11 228.2v-1.3M190.4 157.99h1.3M338.0 157.99h-1.3M230.57 133.0v1.3M230.57 228.2v-1.3M190.4 158.93h1.3M338.0 158.93h-1.3M232.04 133.0v1.3M232.04 228.2v-1.3M190.4 159.88h1.3M338.0 159.88h-1.3M233.50 133.0v1.3M233.50 228.2v-1.3M190.4 160.82h1.3M338.0 160.82h-1.3M234.96 133.0v1.3M234.96 228.2v-1.3M190.4 161.76h1.3M338.0 161.76h-1.3M236.42 133.0v1.3M236.42 228.2v-1.3M190.4 162.70h1.3M338.0 162.70h-1.3M237.88 133.0v1.3M237.88 228.2v-1.3M190.4 163.64h1.3M338.0 163.64h-1.3M239.35 133.0v1.3M239.35 228.2v-1.3M190.4 164.59h1.3M338.0 164.59h-1.3M240.81 133.0v1.3M240.81 228.2v-1.3M190.4 165.53h1.3M338.0 165.53h-1.3M242.27 133.0v1.3M242.27 228.2v-1.3M190.4 166.47h1.3M338.0 166.47h-1.3M243.73 133.0v1.3M243.73 228.2v-1.3M190.4 167.41h1.3M338.0 167.41h-1.3M245.19 133.0v1.3M245.19 228.2v-1.3M190.4 168.35h1.3M338.0 168.35h-1.3M246.66 133.0v1.3M246.66 228.2v-1.3M190.4 169.30h1.3M338.0 169.30h-1.3M248.12 133.0v1.3M248.12 228.2v-1.3M190.4 170.24h1.3M338.0 170.24h-1.3M249.58 133.0v1.3M249.58 228.2v-1.3M190.4 171.18h1.3M338.0 171.18h-1.3M251.04 133.0v1.3M251.04 228.2v-1.3M190.4 172.12h1.3M338.0 172.12h-1.3M252.50 133.0v1.3M252.50 228.2v-1.3M190.4 173.06h1.3M338.0 173.06h-1.3M253.97 133.0v1.3M253.97 228.2v-1.3M190.4 174.01h1.3M338.0 174.01h-1.3M255.43 133.0v1.3M255.43 228.2v-1.3M190.4 174.95h1.3M338.0 174.95h-1.3M256.89 133.0v1.3M256.89 228.2v-1.3M190.4 175.89h1.3M338.0 175.89h-1.3M258.35 133.0v1.3M258.35 228.2v-1.3M190.4 176.83h1.3M338.0 176.83h-1.3M259.81 133.0v1.3M259.81 228.2v-1.3M190.4 177.77h1.3M338.0 177.77h-1.3M261.28 133.0v1.3M261.28 228.2v-1.3M190.4 178.72h1.3M338.0 178.72h-1.3M262.74 133.0v1.3M262.74 228.2v-1.3M190.4 179.66h1.3M338.0 179.66h-1.3M264.20 133.0v1.3M264.20 228.2v-1.3M190.4 180.60h1.3M338.0 180.60h-1.3M265.66 133.0v1.3M265.66 228.2v-1.3M190.4 181.54h1.3M338.0 181.54h-1.3M267.12 133.0v1.3M267.12 228.2v-1.3M190.4 182.48h1.3M338.0 182.48h-1.3M268.59 133.0v1.3M268.59 228.2v-1.3M190.4 183.43h1.3M338.0 183.43h-1.3M270.05 133.0v1.3M270.05 228.2v-1.3M190.4 184.37h1.3M338.0 184.37h-1.3M271.51 133.0v1.3M271.51 228.2v-1.3M190.4 185.31h1.3M338.0 185.31h-1.3M272.97 133.0v1.3M272.97 228.2v-1.3M190.4 186.25h1.3M338.0 186.25h-1.3M274.43 133.0v1.3M274.43 228.2v-1.3M190.4 187.19h1.3M338.0 187.19h-1.3M275.90 133.0v1.3M275.90 228.2v-1.3M190.4 188.14h1.3M338.0 188.14h-1.3M277.36 133.0v1.3M277.36 228.2v-1.3M190.4 189.08h1.3M338.0 189.08h-1.3M278.82 133.0v1.3M278.82 228.2v-1.3M190.4 190.02h1.3M338.0 190.02h-1.3M280.28 133.0v1.3M280.28 228.2v-1.3M190.4 190.96h1.3M338.0 190.96h-1.3M281.74 133.0v1.3M281.74 228.2v-1.3M190.4 191.90h1.3M338.0 191.90h-1.3M283.21 133.0v1.3M283.21 228.2v-1.3M190.4 192.85h1.3M338.0 192.85h-1.3M284.67 133.0v1.3M284.67 228.2v-1.3M190.4 193.79h1.3M338.0 193.79h-1.3M286.13 133.0v1.3M286.13 228.2v-1.3M190.4 194.73h1.3M338.0 194.73h-1.3M287.59 133.0v1.3M287.59 228.2v-1.3M190.4 195.67h1.3M338.0 195.67h-1.3M289.05 133.0v1.3M289.05 228.2v-1.3M190.4 196.61h1.3M338.0 196.61h-1.3M290.52 133.0v1.3M290.52 228.2v-1.3M190.4 197.56h1.3M338.0 197.56h-1.3M291.98 133.0v1.3M291.98 228.2v-1.3M190.4 198.50h1.3M338.0 198.50h-1.3M293.44 133.0v1.3M293.44 228.2v-1.3M190.4 199.44h1.3M338.0 199.44h-1.3M294.90 133.0v1.3M294.90 228.2v-1.3M190.4 200.38h1.3M338.0 200.38h-1.3M296.36 133.0v1.3M296.36 228.2v-1.3M190.4 201.32h1.3M338.0 201.32h-1.3M297.83 133.0v1.3M297.83 228.2v-1.3M190.4 202.27h1.3M338.0 202.27h-1.3M299.29 133.0v1.3M299.29 228.2v-1.3M190.4 203.21h1.3M338.0 203.21h-1.3M300.75 133.0v1.3M300.75 228.2v-1.3M190.4 204.15h1.3M338.0 204.15h-1.3M302.21 133.0v1.3M302.21 228.2v-1.3M190.4 205.09h1.3M338.0 205.09h-1.3M303.67 133.0v1.3M303.67 228.2v-1.3M190.4 206.03h1.3M338.0 206.03h-1.3M305.14 133.0v1.3M305.14 228.2v-1.3M190.4 206.98h1.3M338.0 206.98h-1.3M306.60 133.0v1.3M306.60 228.2v-1.3M190.4 207.92h1.3M338.0 207.92h-1.3M308.06 133.0v1.3M308.06 228.2v-1.3M190.4 208.86h1.3M338.0 208.86h-1.3M309.52 133.0v1.3M309.52 228.2v-1.3M190.4 209.80h1.3M338.0 209.80h-1.3M310.98 133.0v1.3M310.98 228.2v-1.3M190.4 210.74h1.3M338.0 210.74h-1.3M312.45 133.0v1.3M312.45 228.2v-1.3M190.4 211.69h1.3M338.0 211.69h-1.3M313.91 133.0v1.3M313.91 228.2v-1.3M190.4 212.63h1.3M338.0 212.63h-1.3M315.37 133.0v1.3M315.37 228.2v-1.3M190.4 213.57h1.3M338.0 213.57h-1.3M316.83 133.0v1.3M316.83 228.2v-1.3M190.4 214.51h1.3M338.0 214.51h-1.3M318.29 133.0v1.3M318.29 228.2v-1.3M190.4 215.45h1.3M338.0 215.45h-1.3M319.76 133.0v1.3M319.76 228.2v-1.3M190.4 216.40h1.3M338.0 216.40h-1.3M321.22 133.0v1.3M321.22 228.2v-1.3M190.4 217.34h1.3M338.0 217.34h-1.3M322.68 133.0v1.3M322.68 228.2v-1.3M190.4 218.28h1.3M338.0 218.28h-1.3M324.14 133.0v1.3M324.14 228.2v-1.3M190.4 219.22h1.3M338.0 219.22h-1.3M325.60 133.0v1.3M325.60 228.2v-1.3M190.4 220.16h1.3M338.0 220.16h-1.3M327.07 133.0v1.3M327.07 228.2v-1.3M190.4 221.11h1.3M338.0 221.11h-1.3M328.53 133.0v1.3M328.53 228.2v-1.3M190.4 222.05h1.3M338.0 222.05h-1.3M329.99 133.0v1.3M329.99 228.2v-1.3M190.4 222.99h1.3M338.0 222.99h-1.3M331.45 133.0v1.3M331.45 228.2v-1.3M190.4 223.93h1.3M338.0 223.93h-1.3M332.91 133.0v1.3M332.91 228.2v-1.3M190.4 224.87h1.3M338.0 224.87h-1.3M334.38 133.0v1.3M334.38 228.2v-1.3M190.4 225.82h1.3M338.0 225.82h-1.3M335.84 133.0v1.3M335.84 228.2v-1.3M190.4 226.76h1.3M338.0 226.76h-1.3M337.30 133.0v1.3M337.30 228.2v-1.3M190.4 227.70h1.3M338.0 227.70h-1.3" stroke="#c2c2c2" stroke-width="0.45" fill="none"/><rect x="190.4" y="133.0" width="147.6" height="95.2" fill="none" stroke="#868686" stroke-width="0.85"/><path d="M191.10 228.2v1.7M190.4 133.50h-1.7M205.72 228.2v1.0M190.4 142.92h-1.0M220.34 228.2v1.7M190.4 152.34h-1.7M234.96 228.2v1.0M190.4 161.76h-1.0M249.58 228.2v1.7M190.4 171.18h-1.7M264.20 228.2v1.0M190.4 180.60h-1.0M278.82 228.2v1.7M190.4 190.02h-1.7M293.44 228.2v1.0M190.4 199.44h-1.0M308.06 228.2v1.7M190.4 208.86h-1.7M322.68 228.2v1.0M190.4 218.28h-1.0M337.30 228.2v1.7M190.4 227.70h-1.7" stroke="#222" stroke-width="0.6" fill="none"/><rect x="220.3" y="193.0" width="115.8" height="32.9" rx="1.2" fill="#fff" fill-opacity="0.8" stroke="#d0d0d0" stroke-width="0.5"/><path d="M222.0 196.4h9.3" stroke="#ffe0b8" stroke-width="0.45"/><path d="M222.0 202.9h9.3" stroke="#a9c4ff" stroke-width="0.45"/><path d="M222.0 209.4h9.3" stroke="#cfa3bb" stroke-width="0.45"/><path d="M222.0 215.9h9.3" stroke="#98bcc6" stroke-width="0.45"/><path d="M222.0 222.3h9.3" stroke="#ff9098" stroke-width="0.45"/></g>
<g><path d="M363.6 133.0V228.2M362.9 133.5H510.5M392.8 133.0V228.2M362.9 152.3H510.5M422.1 133.0V228.2M362.9 171.2H510.5M451.3 133.0V228.2M362.9 190.0H510.5M480.6 133.0V228.2M362.9 208.9H510.5M509.8 133.0V228.2M362.9 227.7H510.5" stroke="#8c8c8c" stroke-width="0.45" stroke-dasharray="0.7 0.8" fill="none"/><path d="M363.6 133.5H364.4H366.0H366.8V133.9H367.6H368.6V133.6H369.6H370.4V133.8H371.2H371.4V133.5H371.6H373.2H374.4H375.2H376.0H376.6V133.6H377.2H377.8V133.5H378.4H379.2H381.2H382.0H383.6H384.0H385.6H386.8H387.2V133.7H387.6H388.8H389.0V133.5H389.2H390.0H390.6V133.6H391.2H391.6V133.5H392.0H392.8V134.1H393.5H394.3V133.8H395.1H395.6V134.4H396.2H397.0V135.2H397.8H398.0V135.1H398.1H398.3V135.7H398.5H398.9H399.9V136.3H400.8H401.4V136.1H402.0H403.0V136.7H403.9H404.3V137.3H404.7H405.5H406.3V137.9H407.1H407.9V137.7H408.7H409.3V138.2H409.8H410.4V137.4H411.0H411.4V137.7H411.8H412.2V138.3H412.6H413.6V138.5H414.6H415.6V137.8H416.6H417.2V138.5H417.8H418.0V139.0H418.2H419.8H420.4V139.1H421.0H422.6H423.2V139.6H423.8H424.0V139.0H424.2H425.0V139.6H425.8H426.0V138.8H426.2H427.2V139.3H428.2H428.4V140.2H428.6H429.0V140.0H429.4H429.6V139.8H429.8H430.1V140.4H430.5H432.1H432.3V139.5H432.5H432.7V140.3H432.9H433.3H433.5V140.1H433.7H434.3V140.1H434.9H435.3V140.3H435.7H436.5V140.2H437.3H438.1V140.9H438.9H439.5V140.4H440.1H441.1V140.6H442.1H443.1V141.3H444.1H444.9H445.7V141.4H446.5H447.3V141.7H448.1H448.5V142.1H448.9H449.6V142.0H450.4H450.6V142.4H450.8H451.6V142.7H452.4H453.4V143.1H454.3H455.9H456.7V143.8H457.5H458.2V143.6H459.0H459.4V144.5H459.8H460.0V144.4H460.2H460.6V144.3H461.0H461.4V144.5H461.8H462.5V145.1H463.3H464.0V144.9H464.8H465.7V146.5H466.5H466.9V147.2H467.3H468.1V147.7H469.0H470.0V147.7H470.9H471.1V147.9H471.3H471.9V148.4H472.5H472.9H473.1V147.9H473.3H473.9V148.4H474.5H475.3V148.5H476.1H476.5V149.0H476.9H477.3V148.9H477.7H478.3V148.7H478.9H479.5V149.4H480.1H480.3V148.9H480.5H480.7V149.0H480.9H481.3H482.1H483.0V149.7H483.9H484.2V149.9H484.6H485.2V151.4H485.9H486.6V151.8H487.2H487.9V153.0H488.6H489.2V153.9H489.8H490.0V154.0H490.1H490.4V154.7H490.7H491.3V155.6H491.8H492.3V156.8H492.7H493.2V157.7H493.8H494.0V158.1H494.1H494.7V159.6H495.2H495.5V160.0H495.8H496.2V160.9H496.6H496.8V162.3H497.1H497.3V162.8H497.5H497.7V164.0H498.0H498.1V164.4H498.2H498.7V165.6H499.1H499.3V167.4H499.4H499.5V169.5H499.6H499.7V170.4H499.7H499.8V172.0H499.9H500.0V173.7H500.1H500.1V174.3H500.2H500.4V175.3H500.6H501.1V176.9H501.7H502.2V178.2H502.6H503.1V180.0H503.5H503.6V180.1H503.7H504.0V180.8H504.2H504.4V181.5H504.7H505.0V182.5H505.4H506.0V184.0H506.6H507.0V185.3H507.3H507.7V186.4H508.1H508.5V186.9H508.8H508.9V186.9H509.1H509.3V188.0H509.6H509.7V188.1H509.8" stroke="#ffe0b8" stroke-width="0.48" fill="none" stroke-linejoin="round"/><path d="M363.6 133.5H364.4V133.8H365.2H365.8V134.0H366.4H367.2V133.5H368.0H368.2V133.8H368.4H369.2V133.5H370.0H371.2H372.0H372.8H374.8H375.4V134.2H376.0H376.6V133.8H377.2H377.8V133.6H378.4H379.2V133.9H380.0H380.6V133.6H381.2H381.6V133.8H382.0H383.0V133.7H384.0H384.8V133.5H385.6H387.2H388.8H390.4H391.2H391.9V135.0H392.6H393.1V136.2H393.6H393.7V136.6H393.8H394.5V137.0H395.2H395.8V136.9H396.4H396.6V137.0H396.8H397.8V137.1H398.8H399.2V138.2H399.6H400.2V138.0H400.8H401.0V137.8H401.2H401.8V137.5H402.4H403.0V137.9H403.6H404.4V137.7H405.2H406.1V138.1H407.1H408.1V138.6H409.1H409.9V139.2H410.7H411.5H412.5V139.1H413.5H413.9V140.0H414.3H414.7V139.2H415.1H415.7V139.0H416.3H416.7V139.3H417.1H417.7V139.1H418.3H418.5V139.3H418.7H419.1V139.9H419.5H419.7V139.2H419.9H420.5V140.2H421.1H421.5V139.6H421.9H422.7V141.1H423.5H423.9V140.3H424.2H424.6V140.8H425.0H425.8V140.4H426.6H427.0V140.9H427.4H428.2V140.8H429.0H429.6V140.6H430.2H430.4V141.0H430.6H431.4V140.9H432.2H433.2V141.1H434.2H434.6V141.5H435.0H435.6V142.2H436.2H436.8V142.3H437.4H439.4H440.4V141.9H441.4H441.6V141.4H441.8H442.2V142.1H442.6H443.4V142.5H444.2H444.8V142.2H445.4H446.0V142.4H446.6H447.2V143.0H447.8H448.0V142.5H448.2H448.4V142.8H448.6H449.6V143.2H450.5H450.9V143.1H451.3H451.9V142.9H452.5H453.1V143.1H453.7H454.5V143.2H455.3H456.3V143.9H457.3H457.7H458.3V143.5H458.9H459.3H460.5H461.3V144.0H462.1H462.7V144.6H463.3H463.7V144.7H464.1H464.9V144.2H465.7H466.5V144.9H467.2H468.2V144.8H469.2H469.8V145.3H470.4H470.8V145.9H471.2H472.0V145.8H472.8H474.0H474.2V145.6H474.4H474.6V146.1H474.8H475.7V146.3H476.7H477.3V146.7H477.8H478.0V147.2H478.2H479.0V147.5H479.8H480.5V147.9H481.3H481.5V148.5H481.7H483.6H483.8V148.7H484.0H484.6V149.4H485.1H485.8V150.2H486.5H487.0V150.8H487.5H487.8V151.3H488.2H488.7V151.7H489.2H489.7V152.2H490.2H491.1V153.5H491.9H492.6V154.4H493.3H494.0V155.4H494.8H495.3V156.7H495.9H496.3V157.5H496.7H497.0V158.5H497.3H498.0V159.4H498.7H499.5V161.1H500.2H500.4V161.5H500.6H501.1V163.0H501.5H501.8V163.3H502.0H502.1V164.0H502.2H502.5V164.7H502.9H503.4V166.7H504.0H504.3V167.6H504.7H504.9V169.3H505.2H505.5V170.3H505.7H506.0V172.1H506.3H506.4V172.6H506.5H506.9V174.6H507.2H507.3V175.1H507.3H507.4V176.6H507.6H507.6H507.7V177.4H507.8H508.0V179.5H508.2H508.4V181.4H508.5H508.7V182.8H508.9H509.0V184.5H509.1H509.2V185.4H509.3H509.4V186.3H509.4H509.5V187.1H509.6H509.7V188.1H509.8" stroke="#a9c4ff" stroke-width="0.48" fill="none" stroke-linejoin="round"/><path d="M364.8 133.5V134.7V136.8V136.5V136.7V138.3V139.0V140.9V142.9V145.2V145.9V147.2V147.9V148.6V149.1V151.1V152.6V152.2V152.5V152.7V155.0V156.7V157.4V160.3V161.8V162.8V165.0V166.2V167.4V168.8V170.9V171.6V173.5V174.6V175.6H364.9V175.8H365.0H365.0V174.5H365.1H365.2V172.3H365.3V173.2H365.4V170.6H365.5V170.0V169.5H365.7V168.7H365.7H365.8V167.7H365.8H365.9V166.4H366.0H366.0V165.7H366.1H366.2V163.5H366.3H366.3V162.1H366.4H366.5V161.0H366.6H366.7V162.7H366.8H367.1V164.3H367.3H367.4H367.7V166.8H368.0H368.1V167.4H368.3H368.5V169.3H368.7H368.9V169.9H369.1H369.3V171.2H369.4H369.6V171.8H369.7H370.0V170.9H370.3H370.4V170.4H370.6H370.8V168.4H371.1H371.4V167.4H371.7H372.1V165.6H372.5H372.8V163.2H373.2H373.5V162.2H373.8H373.9V162.7H373.9H374.2V160.3H374.5H374.6V160.8H374.8H375.4V158.9H376.0H376.7V156.4H377.5H377.6V156.8H377.8H377.9V158.0H378.1H378.7V154.8H379.3H379.6V155.3H379.9H380.5V154.5H381.1H381.7V153.1H382.3H383.2V152.8H384.0H384.6V153.5H385.2H386.0V153.2H386.8H387.7V153.4H388.7H389.5V153.7H390.3H390.7V153.8H391.1H392.0V154.6H393.0H394.2H395.2V155.2H396.2H396.6V154.5H397.0H397.6V154.1H398.2H398.4V155.1H398.6H398.8V154.6H399.0H400.0V154.0H401.0H401.6V155.7H402.2H403.0V155.6H403.8H404.4V154.2H405.0H405.8V154.5H406.6H407.8H408.0V155.1H408.2H408.6V154.9H409.0H410.2H410.4V154.4H410.6H411.6V154.6H412.6H412.8V154.7H413.0H414.2H415.0V153.9H415.8H416.6V154.0H417.4H417.6V153.8H417.8H418.0V154.6H418.2H419.0V153.7H419.7H420.1V153.6H420.5H420.7V153.3H420.9H421.1V153.4H421.3H422.1V153.6H422.9H423.1V153.2H423.3H423.7V153.5H424.1H425.1V153.3H426.1H426.5V152.9H426.9H427.7V153.2H428.5H428.7V153.7H428.9H429.3V153.5H429.7H429.9V153.3H430.2H431.0V152.9H431.8H432.4V153.4H433.0H434.6H435.4V153.8H436.2H437.0V154.1H437.8H438.0V153.5H438.2H438.8V153.8H439.4H439.6V154.2H439.7H440.5V153.7H441.3H441.7V154.1H442.1H442.7V153.6H443.3H444.3V154.4H445.3H446.3V154.7H447.3H447.9V154.2H448.5H448.9V155.0H449.3H450.0V155.0H450.8H451.6V155.5H452.3H452.7V156.5H453.1H453.7V156.8H454.3H455.2V157.2H456.2H457.1V157.3H458.1H459.1V158.3H460.0H460.6V157.9H461.2H461.4V158.3H461.5H462.5V158.9H463.5H463.8V159.3H464.2H464.8V159.5H465.4H465.8V159.8H466.1H466.9V160.4H467.7H468.1V160.7H468.4H468.8V161.2H469.2H470.0V161.4H470.7H471.5V162.3H472.2H473.1V163.3H474.0H474.2V163.0H474.4H474.6V163.2H474.8H475.5V163.9H476.3H476.8V164.0H477.4H478.3V164.7H479.2H479.8V165.0H480.3H480.5V165.7H480.7H481.3V165.8H481.8H482.2V166.2H482.6H483.3V166.6H484.1H484.8V167.4H485.6H486.3V168.1H487.1H487.3V168.3H487.4H488.0V168.6H488.6H488.9V168.7H489.3H490.2V169.5H491.2H491.4V169.9H491.6H492.2V170.8H492.9H493.6V171.1H494.3H494.6V171.8H495.0H495.5V172.1H496.0H496.2V172.8H496.3H496.5V173.1H496.7H497.0V173.7H497.3H497.5V173.3H497.7H498.2V174.4H498.7H499.4V175.1H500.1H500.7V176.3H501.4H501.7V177.0H501.9H502.3V178.0H502.7H503.2V179.5H503.7H504.0V179.6H504.3H504.5V180.5H504.8H505.0V180.8H505.3H505.7V182.5H506.2H506.4V182.8H506.6H507.1V184.4H507.5H507.6V184.8H507.7H507.9V185.7H508.1H508.3V185.9H508.5H508.7V187.2H509.0H509.1V186.9H509.2H509.4V187.8H509.6H509.7V188.1H509.8" stroke="#cfa3bb" stroke-width="0.48" fill="none" stroke-linejoin="round"/><path d="M364.6 133.5V135.8V136.9V138.4V139.2V140.0V142.7V142.1V144.5V146.5V146.8V147.7V148.9V150.4V151.9V154.5V154.7V155.2V154.9V157.2V158.6V159.7V161.4V163.0V164.5V167.1V166.9V167.2V169.4H365.0V168.2H365.1H365.3V167.8H365.4H365.5V165.6H365.6H365.7V165.0H365.9H366.1V163.1H366.4H366.6V161.9H366.8H367.0V160.8H367.1H367.2V158.9H367.4H367.4V157.5H367.5H367.6V158.3H367.7H367.8V156.8H367.9H368.1V155.0H368.2H368.3V155.0H368.3H368.5V153.8H368.6H368.6V153.3H368.7H368.7V152.1H368.8H368.9V151.3H369.1H369.6V150.5H370.1H370.4V149.8H370.8H371.4V148.3H372.1H372.7V148.9H373.3H373.8V148.5H374.3H374.8V149.1H375.3H375.5V149.5H375.6H375.8V149.2H376.0H376.6V149.5H377.3H377.7V149.7H378.0H379.0V149.5H379.9H380.2V147.9H380.6H380.9V147.9H381.3H382.0H383.0V148.4H383.9H384.5V147.2H385.1H385.5V148.2H385.9H386.1V148.8H386.3H386.9V148.2H387.4H387.6V147.8H387.8H388.6V148.0H389.4H389.6V148.9H389.8H390.6V148.6H391.4H392.2V149.3H393.0H393.3V149.5H393.7H394.3V150.2H394.9H395.6V149.7H396.4H396.9V151.5H397.5H398.1V150.7H398.6H399.6V152.0H400.5H400.9V152.5H401.3H401.8V153.2H402.3H402.5V153.0H402.6H403.1V154.1H403.6H404.4V155.2H405.3H405.7V154.8H406.1H406.9V154.5H407.7H408.1V154.3H408.5H408.9V154.6H409.3H409.7V154.9H410.1H411.7H412.1V154.4H412.5H412.7V154.2H412.9H413.5V154.4H414.1H414.7V154.2H415.3H415.9V153.9H416.5H417.1V153.8H417.7H418.5H419.3V153.4H420.1H420.5V153.8H420.9H421.3V154.2H421.7H422.1V153.6H422.5H422.7V153.8H422.9H423.3V153.9H423.7H424.5V153.5H425.3H425.7V154.3H426.1H426.7V153.9H427.3H427.7V153.9H428.1H428.5V153.5H428.9H429.7V154.1H430.5H431.5V153.7H432.5H432.7V153.4H432.9H433.7V153.7H434.5H435.5V153.6H436.5H437.1V153.9H437.7H438.7V154.1H439.7H440.1V154.0H440.5H441.3V154.6H442.1H442.3V155.1H442.5H442.9V154.3H443.3H443.5V155.0H443.7H443.9V154.7H444.1H444.9V154.8H445.7H446.1V154.6H446.5H447.3H448.0V155.5H448.8H449.2V155.3H449.6H450.4V156.1H451.1H451.5V156.0H451.9H452.9V156.7H453.8H454.6V157.0H455.4H455.9V157.8H456.5H457.5V158.0H458.4H459.2V158.4H460.0H460.9V159.1H461.9H462.6H463.2V159.7H463.8H464.2V160.4H464.5H465.1V160.9H465.7H466.3V161.1H466.8H468.4H468.7V161.4H469.1H469.7V162.2H470.3H471.0H471.6V162.4H472.2H472.4V162.6H472.6H473.2V163.2H473.8H474.3V163.2H474.9H475.5V163.1H476.1H476.9V163.8H477.6H478.2V164.0H478.8H479.2V164.5H479.6H480.5V164.8H481.4H481.8V165.6H482.1H482.5V165.7H482.8H483.3V166.1H483.9H484.6V167.3H485.3H485.6V167.6H486.0H486.3V167.9H486.7H486.8V168.3H487.0H487.5V169.2H488.1H488.8H489.5V170.2H490.2H490.4V169.7H490.5H491.1V170.7H491.6H491.9H492.3V171.1H492.6H492.8V171.7H492.9H493.5V172.0H494.0H494.6V172.8H495.3H495.8V173.4H496.3H497.0V174.5H497.7H498.4V175.5H499.1H499.7V176.3H500.4H500.8V177.2H501.2H501.6V178.1H501.9H502.3V179.1H502.7H503.2V180.0H503.7H504.0V180.8H504.3H504.5V181.3H504.8H505.4V182.9H506.0H506.6V184.6H507.2H507.7V185.9H508.2H508.6V187.1H509.1H509.2V187.7H509.3H509.6V188.1H509.8" stroke="#98bcc6" stroke-width="0.48" fill="none" stroke-linejoin="round"/><path d="M363.6 133.5H364.4H365.2H366.0V133.6H366.8H367.4V133.8H368.0H368.6V133.5H369.2H369.8V133.8H370.4H371.0V134.0H371.6H372.2V133.5H372.8H374.4H375.2H375.6V133.6H376.0H376.2V133.5H376.4H377.0V133.6H377.6H378.0V133.5H378.4H379.2H379.6H380.0V133.8H380.4H381.4V133.6H382.4H383.0V133.5H383.6H384.4H385.6H386.8H387.2H388.8H390.0H391.0V133.6H391.9H392.2V135.0H392.5H392.7V135.7H392.9H393.9V135.3H394.9H395.1V135.3H395.3H395.5V135.6H395.7H396.1H396.3V136.1H396.5H396.7V135.8H396.9H397.9V136.3H398.9H399.1V135.6H399.3H400.5H400.7V136.2H400.9H401.3V136.6H401.7H401.9V136.5H402.1H402.5V136.7H402.9H403.3V136.4H403.7H404.5V136.1H405.3H406.3V137.5H407.3H407.7V136.6H408.1H408.7V137.3H409.3H409.9V137.1H410.5H411.5V137.5H412.5H412.7V137.0H412.9H413.7V138.2H414.5H414.9V137.3H415.3H416.5H417.3V137.2H418.1H418.9V137.8H419.7H420.1V137.7H420.5H421.3V138.6H422.1H422.7V138.0H423.3H423.7V138.3H424.1H424.5V138.2H424.9H425.3V137.9H425.7H426.4V138.1H427.2H428.0V139.2H428.8H429.0V138.8H429.2H429.8V138.9H430.4H430.6V139.0H430.8H431.0V139.9H431.2H432.0V139.2H432.7H433.3V139.7H433.9H435.1H435.7V140.0H436.3H436.9V140.1H437.5H437.9V140.5H438.3H439.1H440.1V140.6H441.1H441.3V140.5H441.5H442.1V140.8H442.7H443.1V140.3H443.5H443.9V141.1H444.3H444.7H444.9V140.6H445.1H445.7V141.1H446.3H446.5V140.8H446.7H447.3V141.2H447.9H449.1H449.7V141.4H450.3H450.5V141.4H450.7H451.3V140.9H451.9H452.3V140.6H452.7H453.5V141.4H454.3H455.1V141.0H455.9H456.5V141.6H457.1H457.9V142.0H458.7H459.9H460.8V142.3H461.8H462.6V142.9H463.4H464.4V142.7H465.3H465.7H466.5V143.2H467.3H468.1V143.5H468.9H469.7V144.2H470.4H471.4V144.8H472.4H472.8V144.6H473.2H473.4V144.7H473.6H474.1V145.2H474.7H475.1V145.6H475.5H476.5V145.9H477.5H478.4V146.3H479.4H480.0V146.5H480.6H482.1H482.7V147.2H483.3H484.2V148.1H485.1H485.6V148.6H486.1H486.5V149.1H486.9H487.8V150.1H488.6H489.4H489.5V150.4H489.7H490.4V150.9H491.2H491.9V151.8H492.6H493.3V152.9H494.0H494.3V152.9H494.6H495.4V154.5H496.1H496.8V155.1H497.4H497.8V156.1H498.3H498.5V156.4H498.6H499.2V157.4H499.8H500.1V158.0H500.4H500.5V158.3H500.6H500.9V158.9H501.1H501.6V160.5H502.2H502.4V161.8H502.7H503.0V162.3H503.3H503.9V163.7H504.4H504.7V165.1H505.0H505.1V166.3H505.3H505.4V167.0H505.5H505.7V167.9H505.8H506.0V168.9H506.2H506.4V171.0H506.6H506.8V172.2H507.0H507.1V172.7H507.2H507.4V174.1H507.5H507.6V175.8H507.8H507.9V177.1H508.0H508.0V177.5H508.0H508.1V178.6H508.2H508.4V180.0H508.5H508.6V180.9H508.6H508.7V181.8H508.7H508.9V183.4H509.0H509.1V185.1H509.3H509.4V187.0H509.5H509.6V187.3H509.7H509.7V188.1H509.8" stroke="#ff9098" stroke-width="0.48" fill="none" stroke-linejoin="round"/><path d="M363.6 227.7L509.8 133.5" stroke="#333" stroke-width="0.5" stroke-dasharray="1.6 0.5" fill="none"/><path d="M363.60 133.0v1.3M363.60 228.2v-1.3M362.9 133.50h1.3M510.5 133.50h-1.3M365.06 133.0v1.3M365.06 228.2v-1.3M362.9 134.44h1.3M510.5 134.44h-1.3M366.52 133.0v1.3M366.52 228.2v-1.3M362.9 135.38h1.3M510.5 135.38h-1.3M367.99 133.0v1.3M367.99 228.2v-1.3M362.9 136.33h1.3M510.5 136.33h-1.3M369.45 133.0v1.3M369.45 228.2v-1.3M362.9 137.27h1.3M510.5 137.27h-1.3M370.91 133.0v1.3M370.91 228.2v-1.3M362.9 138.21h1.3M510.5 138.21h-1.3M372.37 133.0v1.3M372.37 228.2v-1.3M362.9 139.15h1.3M510.5 139.15h-1.3M373.83 133.0v1.3M373.83 228.2v-1.3M362.9 140.09h1.3M510.5 140.09h-1.3M375.30 133.0v1.3M375.30 228.2v-1.3M362.9 141.04h1.3M510.5 141.04h-1.3M376.76 133.0v1.3M376.76 228.2v-1.3M362.9 141.98h1.3M510.5 141.98h-1.3M378.22 133.0v1.3M378.22 228.2v-1.3M362.9 142.92h1.3M510.5 142.92h-1.3M379.68 133.0v1.3M379.68 228.2v-1.3M362.9 143.86h1.3M510.5 143.86h-1.3M381.14 133.0v1.3M381.14 228.2v-1.3M362.9 144.80h1.3M510.5 144.80h-1.3M382.61 133.0v1.3M382.61 228.2v-1.3M362.9 145.75h1.3M510.5 145.75h-1.3M384.07 133.0v1.3M384.07 228.2v-1.3M362.9 146.69h1.3M510.5 146.69h-1.3M385.53 133.0v1.3M385.53 228.2v-1.3M362.9 147.63h1.3M510.5 147.63h-1.3M386.99 133.0v1.3M386.99 228.2v-1.3M362.9 148.57h1.3M510.5 148.57h-1.3M388.45 133.0v1.3M388.45 228.2v-1.3M362.9 149.51h1.3M510.5 149.51h-1.3M389.92 133.0v1.3M389.92 228.2v-1.3M362.9 150.46h1.3M510.5 150.46h-1.3M391.38 133.0v1.3M391.38 228.2v-1.3M362.9 151.40h1.3M510.5 151.40h-1.3M392.84 133.0v1.3M392.84 228.2v-1.3M362.9 152.34h1.3M510.5 152.34h-1.3M394.30 133.0v1.3M394.30 228.2v-1.3M362.9 153.28h1.3M510.5 153.28h-1.3M395.76 133.0v1.3M395.76 228.2v-1.3M362.9 154.22h1.3M510.5 154.22h-1.3M397.23 133.0v1.3M397.23 228.2v-1.3M362.9 155.17h1.3M510.5 155.17h-1.3M398.69 133.0v1.3M398.69 228.2v-1.3M362.9 156.11h1.3M510.5 156.11h-1.3M400.15 133.0v1.3M400.15 228.2v-1.3M362.9 157.05h1.3M510.5 157.05h-1.3M401.61 133.0v1.3M401.61 228.2v-1.3M362.9 157.99h1.3M510.5 157.99h-1.3M403.07 133.0v1.3M403.07 228.2v-1.3M362.9 158.93h1.3M510.5 158.93h-1.3M404.54 133.0v1.3M404.54 228.2v-1.3M362.9 159.88h1.3M510.5 159.88h-1.3M406.00 133.0v1.3M406.00 228.2v-1.3M362.9 160.82h1.3M510.5 160.82h-1.3M407.46 133.0v1.3M407.46 228.2v-1.3M362.9 161.76h1.3M510.5 161.76h-1.3M408.92 133.0v1.3M408.92 228.2v-1.3M362.9 162.70h1.3M510.5 162.70h-1.3M410.38 133.0v1.3M410.38 228.2v-1.3M362.9 163.64h1.3M510.5 163.64h-1.3M411.85 133.0v1.3M411.85 228.2v-1.3M362.9 164.59h1.3M510.5 164.59h-1.3M413.31 133.0v1.3M413.31 228.2v-1.3M362.9 165.53h1.3M510.5 165.53h-1.3M414.77 133.0v1.3M414.77 228.2v-1.3M362.9 166.47h1.3M510.5 166.47h-1.3M416.23 133.0v1.3M416.23 228.2v-1.3M362.9 167.41h1.3M510.5 167.41h-1.3M417.69 133.0v1.3M417.69 228.2v-1.3M362.9 168.35h1.3M510.5 168.35h-1.3M419.16 133.0v1.3M419.16 228.2v-1.3M362.9 169.30h1.3M510.5 169.30h-1.3M420.62 133.0v1.3M420.62 228.2v-1.3M362.9 170.24h1.3M510.5 170.24h-1.3M422.08 133.0v1.3M422.08 228.2v-1.3M362.9 171.18h1.3M510.5 171.18h-1.3M423.54 133.0v1.3M423.54 228.2v-1.3M362.9 172.12h1.3M510.5 172.12h-1.3M425.00 133.0v1.3M425.00 228.2v-1.3M362.9 173.06h1.3M510.5 173.06h-1.3M426.47 133.0v1.3M426.47 228.2v-1.3M362.9 174.01h1.3M510.5 174.01h-1.3M427.93 133.0v1.3M427.93 228.2v-1.3M362.9 174.95h1.3M510.5 174.95h-1.3M429.39 133.0v1.3M429.39 228.2v-1.3M362.9 175.89h1.3M510.5 175.89h-1.3M430.85 133.0v1.3M430.85 228.2v-1.3M362.9 176.83h1.3M510.5 176.83h-1.3M432.31 133.0v1.3M432.31 228.2v-1.3M362.9 177.77h1.3M510.5 177.77h-1.3M433.78 133.0v1.3M433.78 228.2v-1.3M362.9 178.72h1.3M510.5 178.72h-1.3M435.24 133.0v1.3M435.24 228.2v-1.3M362.9 179.66h1.3M510.5 179.66h-1.3M436.70 133.0v1.3M436.70 228.2v-1.3M362.9 180.60h1.3M510.5 180.60h-1.3M438.16 133.0v1.3M438.16 228.2v-1.3M362.9 181.54h1.3M510.5 181.54h-1.3M439.62 133.0v1.3M439.62 228.2v-1.3M362.9 182.48h1.3M510.5 182.48h-1.3M441.09 133.0v1.3M441.09 228.2v-1.3M362.9 183.43h1.3M510.5 183.43h-1.3M442.55 133.0v1.3M442.55 228.2v-1.3M362.9 184.37h1.3M510.5 184.37h-1.3M444.01 133.0v1.3M444.01 228.2v-1.3M362.9 185.31h1.3M510.5 185.31h-1.3M445.47 133.0v1.3M445.47 228.2v-1.3M362.9 186.25h1.3M510.5 186.25h-1.3M446.93 133.0v1.3M446.93 228.2v-1.3M362.9 187.19h1.3M510.5 187.19h-1.3M448.40 133.0v1.3M448.40 228.2v-1.3M362.9 188.14h1.3M510.5 188.14h-1.3M449.86 133.0v1.3M449.86 228.2v-1.3M362.9 189.08h1.3M510.5 189.08h-1.3M451.32 133.0v1.3M451.32 228.2v-1.3M362.9 190.02h1.3M510.5 190.02h-1.3M452.78 133.0v1.3M452.78 228.2v-1.3M362.9 190.96h1.3M510.5 190.96h-1.3M454.24 133.0v1.3M454.24 228.2v-1.3M362.9 191.90h1.3M510.5 191.90h-1.3M455.71 133.0v1.3M455.71 228.2v-1.3M362.9 192.85h1.3M510.5 192.85h-1.3M457.17 133.0v1.3M457.17 228.2v-1.3M362.9 193.79h1.3M510.5 193.79h-1.3M458.63 133.0v1.3M458.63 228.2v-1.3M362.9 194.73h1.3M510.5 194.73h-1.3M460.09 133.0v1.3M460.09 228.2v-1.3M362.9 195.67h1.3M510.5 195.67h-1.3M461.55 133.0v1.3M461.55 228.2v-1.3M362.9 196.61h1.3M510.5 196.61h-1.3M463.02 133.0v1.3M463.02 228.2v-1.3M362.9 197.56h1.3M510.5 197.56h-1.3M464.48 133.0v1.3M464.48 228.2v-1.3M362.9 198.50h1.3M510.5 198.50h-1.3M465.94 133.0v1.3M465.94 228.2v-1.3M362.9 199.44h1.3M510.5 199.44h-1.3M467.40 133.0v1.3M467.40 228.2v-1.3M362.9 200.38h1.3M510.5 200.38h-1.3M468.86 133.0v1.3M468.86 228.2v-1.3M362.9 201.32h1.3M510.5 201.32h-1.3M470.33 133.0v1.3M470.33 228.2v-1.3M362.9 202.27h1.3M510.5 202.27h-1.3M471.79 133.0v1.3M471.79 228.2v-1.3M362.9 203.21h1.3M510.5 203.21h-1.3M473.25 133.0v1.3M473.25 228.2v-1.3M362.9 204.15h1.3M510.5 204.15h-1.3M474.71 133.0v1.3M474.71 228.2v-1.3M362.9 205.09h1.3M510.5 205.09h-1.3M476.17 133.0v1.3M476.17 228.2v-1.3M362.9 206.03h1.3M510.5 206.03h-1.3M477.64 133.0v1.3M477.64 228.2v-1.3M362.9 206.98h1.3M510.5 206.98h-1.3M479.10 133.0v1.3M479.10 228.2v-1.3M362.9 207.92h1.3M510.5 207.92h-1.3M480.56 133.0v1.3M480.56 228.2v-1.3M362.9 208.86h1.3M510.5 208.86h-1.3M482.02 133.0v1.3M482.02 228.2v-1.3M362.9 209.80h1.3M510.5 209.80h-1.3M483.48 133.0v1.3M483.48 228.2v-1.3M362.9 210.74h1.3M510.5 210.74h-1.3M484.95 133.0v1.3M484.95 228.2v-1.3M362.9 211.69h1.3M510.5 211.69h-1.3M486.41 133.0v1.3M486.41 228.2v-1.3M362.9 212.63h1.3M510.5 212.63h-1.3M487.87 133.0v1.3M487.87 228.2v-1.3M362.9 213.57h1.3M510.5 213.57h-1.3M489.33 133.0v1.3M489.33 228.2v-1.3M362.9 214.51h1.3M510.5 214.51h-1.3M490.79 133.0v1.3M490.79 228.2v-1.3M362.9 215.45h1.3M510.5 215.45h-1.3M492.26 133.0v1.3M492.26 228.2v-1.3M362.9 216.40h1.3M510.5 216.40h-1.3M493.72 133.0v1.3M493.72 228.2v-1.3M362.9 217.34h1.3M510.5 217.34h-1.3M495.18 133.0v1.3M495.18 228.2v-1.3M362.9 218.28h1.3M510.5 218.28h-1.3M496.64 133.0v1.3M496.64 228.2v-1.3M362.9 219.22h1.3M510.5 219.22h-1.3M498.10 133.0v1.3M498.10 228.2v-1.3M362.9 220.16h1.3M510.5 220.16h-1.3M499.57 133.0v1.3M499.57 228.2v-1.3M362.9 221.11h1.3M510.5 221.11h-1.3M501.03 133.0v1.3M501.03 228.2v-1.3M362.9 222.05h1.3M510.5 222.05h-1.3M502.49 133.0v1.3M502.49 228.2v-1.3M362.9 222.99h1.3M510.5 222.99h-1.3M503.95 133.0v1.3M503.95 228.2v-1.3M362.9 223.93h1.3M510.5 223.93h-1.3M505.41 133.0v1.3M505.41 228.2v-1.3M362.9 224.87h1.3M510.5 224.87h-1.3M506.88 133.0v1.3M506.88 228.2v-1.3M362.9 225.82h1.3M510.5 225.82h-1.3M508.34 133.0v1.3M508.34 228.2v-1.3M362.9 226.76h1.3M510.5 226.76h-1.3M509.80 133.0v1.3M509.80 228.2v-1.3M362.9 227.70h1.3M510.5 227.70h-1.3" stroke="#c2c2c2" stroke-width="0.45" fill="none"/><rect x="362.9" y="133.0" width="147.6" height="95.2" fill="none" stroke="#868686" stroke-width="0.85"/><path d="M363.60 228.2v1.7M362.9 133.50h-1.7M378.22 228.2v1.0M362.9 142.92h-1.0M392.84 228.2v1.7M362.9 152.34h-1.7M407.46 228.2v1.0M362.9 161.76h-1.0M422.08 228.2v1.7M362.9 171.18h-1.7M436.70 228.2v1.0M362.9 180.60h-1.0M451.32 228.2v1.7M362.9 190.02h-1.7M465.94 228.2v1.0M362.9 199.44h-1.0M480.56 228.2v1.7M362.9 208.86h-1.7M495.18 228.2v1.0M362.9 218.28h-1.0M509.80 228.2v1.7M362.9 227.70h-1.7" stroke="#222" stroke-width="0.6" fill="none"/><rect x="392.8" y="193.0" width="115.8" height="32.9" rx="1.2" fill="#fff" fill-opacity="0.8" stroke="#d0d0d0" stroke-width="0.5"/><path d="M394.5 196.4h9.3" stroke="#ffe0b8" stroke-width="0.45"/><path d="M394.5 202.9h9.3" stroke="#a9c4ff" stroke-width="0.45"/><path d="M394.5 209.4h9.3" stroke="#cfa3bb" stroke-width="0.45"/><path d="M394.5 215.9h9.3" stroke="#98bcc6" stroke-width="0.45"/><path d="M394.5 222.3h9.3" stroke="#ff9098" stroke-width="0.45"/></g>
<g><path d="M535.4 133.0V228.2M534.7 133.5H682.3M564.6 133.0V228.2M534.7 152.3H682.3M593.9 133.0V228.2M534.7 171.2H682.3M623.1 133.0V228.2M534.7 190.0H682.3M652.4 133.0V228.2M534.7 208.9H682.3M681.6 133.0V228.2M534.7 227.7H682.3" stroke="#8c8c8c" stroke-width="0.45" stroke-dasharray="0.7 0.8" fill="none"/><path d="M535.4 133.5H536.6H537.2V133.7H537.8H538.2H538.8V134.0H539.4H540.0V133.5H540.6H541.4H542.2H542.4V134.1H542.6H542.8V134.5H542.9H543.0V134.9H543.1H543.3V136.0H543.5H543.9V137.2H544.3H545.1V136.8H545.9H546.3V137.1H546.6H547.4V137.5H548.2H548.8V137.9H549.4H549.8V137.5H550.2H550.6V137.6H551.0H551.3V137.8H551.7H552.3V138.2H552.9H553.3V138.8H553.7H554.1V138.5H554.5H555.3V138.9H556.1H556.9V138.2H557.7H558.3V138.7H558.9H559.5V138.4H560.1H560.9V138.3H561.7H562.3V137.9H562.9H563.3V137.8H563.7H564.3V138.0H564.9H565.7V137.8H566.5H566.7V138.1H566.9H567.3V137.7H567.7H567.9V138.1H568.1H568.7V138.4H569.3H569.5V137.6H569.7H570.1V138.1H570.5H570.7V137.5H570.9H571.7H572.5V137.6H573.3H573.7V137.7H574.1H574.5V137.3H574.8H575.6V137.7H576.4H576.6V137.3H576.8H577.0V137.4H577.2H577.6V137.6H578.0H578.6V136.6H579.2H579.4V137.7H579.6H580.0V137.3H580.4H580.6V137.9H580.8H581.2V137.4H581.6H582.0V137.6H582.4H583.0V137.8H583.6H584.4H585.6H586.4V137.3H587.2H587.6V138.2H588.0H588.6V137.3H589.2H590.0V137.7H590.8H591.7V137.8H592.5H593.1V138.2H593.7H594.3V138.0H594.9H595.5V137.8H596.1H596.5V137.8H596.9H597.7V138.2H598.5H598.7V138.1H598.9H599.3V138.4H599.7H599.9V138.8H600.1H600.7V138.7H601.3H602.8H603.4V138.6H604.0H604.2V137.9H604.4H605.2V138.5H606.0H606.2V139.1H606.4H606.6V138.9H606.8H607.2V138.8H607.6H607.8V139.0H608.0H608.8V138.8H609.6H610.2V139.0H610.8H611.6V139.1H612.4H613.0V139.0H613.6H614.0V138.8H614.4H614.8V139.1H615.2H616.0H616.6V139.5H617.2H618.0V139.4H618.8H619.0V139.1H619.2H619.8V140.1H620.4H621.0V140.0H621.6H622.0V139.8H622.4H623.0V140.2H623.6H624.0V139.8H624.4H624.8V140.4H625.2H625.4V139.8H625.6H626.4V140.5H627.2H627.4V140.4H627.6H628.0V140.9H628.4H629.0V140.4H629.6H630.2V140.0H630.8H631.0V140.6H631.2H631.8V140.9H632.4H632.8V141.3H633.2H633.8V141.2H634.4H634.7V141.1H635.1H635.3V141.5H635.5H636.1V141.2H636.7H637.1V141.8H637.5H638.3V142.1H639.1H639.5V142.3H639.9H640.6V142.4H641.4H641.8V142.6H642.2H642.8V142.8H643.4H644.1V143.4H644.9H645.3V143.6H645.7H646.5V143.9H647.2H647.8V144.3H648.4H648.6V144.5H648.8H649.4V144.6H650.0H650.4V145.0H650.7H650.9V145.1H651.1H651.8V145.8H652.5H653.1V146.3H653.6H654.3V146.6H655.0H655.2V147.4H655.4H655.8V147.3H656.1H656.7V148.3H657.2H657.9H658.1V148.4H658.3H658.6V149.2H659.0H659.3V149.5H659.7H660.1V150.5H660.6H660.9V150.6H661.2H661.5V151.2H661.8H662.3V151.9H662.7H663.2V152.4H663.7H664.0V152.7H664.3H664.6V153.8H664.9H665.5V154.7H666.1H666.7V155.7H667.2H667.8V156.7H668.4H668.9V158.1H669.5H669.8V158.9H670.1H670.6V159.6H671.2H671.8V160.9H672.3H672.5V161.5H672.7H673.0V163.2H673.4H673.6V164.0H673.8H674.0V164.9H674.3H674.4V165.1H674.5H674.7V166.4H675.0H675.2V167.0H675.3H675.5V168.0H675.7H676.0V168.8H676.2H676.5V170.5H676.9H677.1V172.0H677.4H677.7V173.3H677.9H678.1V174.4H678.3H678.5V174.9H678.6H678.8V176.4H679.0H679.2V177.6H679.4H679.5V178.4H679.7H679.9V179.9H680.2H680.3V180.8H680.4H680.6V181.5H680.7H680.9V183.4H681.2H681.2V183.6H681.3H681.4V184.4H681.5H681.5V184.8H681.6" stroke="#ffe0b8" stroke-width="0.48" fill="none" stroke-linejoin="round"/><path d="M535.4 133.5H536.2V133.7H537.0H537.2V133.5H537.4H537.6V133.6H537.8H538.6V133.8H539.4H540.0V134.2H540.6H541.2V133.5H541.8H542.3V134.2H542.9H542.9V135.2H543.0H543.3V136.1H543.5H543.9V136.3H544.3H545.1V136.0H545.9H547.1H547.9V135.9H548.7H549.5V135.7H550.3H551.1V135.3H551.9H552.1V135.1H552.3H552.7V135.3H553.1H553.9V135.2H554.7H555.1V135.1H555.5H555.7V135.2H555.9H556.3V134.7H556.7H556.9V134.3H557.1H557.3V134.9H557.5H558.1V135.0H558.7H559.1H559.5V135.1H559.9H560.3V134.8H560.7H561.5V135.3H562.3H562.7V134.5H563.1H563.5V134.5H563.9H564.5V134.0H565.1H565.3V135.1H565.5H565.9V134.6H566.3H566.5V134.4H566.7H567.1V134.6H567.5H569.1H569.9V135.2H570.7H571.5V134.9H572.3H573.1V134.8H573.9H574.3H574.7V135.3H575.1H575.5V134.4H575.9H576.3V135.0H576.7H577.1V134.9H577.5H578.1V135.0H578.7H578.9V135.3H579.1H580.3H580.5V135.9H580.7H581.3V135.8H581.8H582.6V136.9H583.4H584.0V136.6H584.6H586.2H587.0V136.3H587.8H588.6V136.8H589.4H589.8V137.1H590.2H590.8V136.7H591.4H591.8V137.8H592.2H592.7V137.6H593.3H593.7V137.7H594.1H594.5H594.9V137.6H595.3H595.5V138.1H595.7H596.5V138.1H597.3H598.1V137.7H598.9H599.1V138.7H599.3H599.9V138.2H600.5H601.3V138.7H602.0H602.6V139.5H603.2H603.8V139.3H604.4H604.8V139.8H605.2H605.6V139.6H606.0H606.4V140.2H606.8H607.0V140.0H607.2H607.6V140.2H607.9H608.1V140.0H608.3H608.7V140.4H609.1H609.5V140.3H609.9H610.3V140.9H610.7H611.5V141.2H612.3H612.7V141.1H613.1H613.5V141.6H613.9H614.6V141.7H615.4H615.8V141.8H616.2H616.6H617.8H618.6H619.4V142.8H620.2H620.6V142.5H621.0H621.4V142.7H621.8H623.0H623.6V142.5H624.1H624.3V142.8H624.5H624.7V143.2H624.9H626.5H626.9V143.3H627.3H628.1V143.5H628.9H630.5H631.1V143.9H631.7H631.8V144.3H632.0H632.4V144.7H632.8H633.0V144.6H633.1H633.7V144.9H634.3H634.8V145.4H635.4H636.0V146.0H636.5H636.9V146.4H637.3H638.0V147.1H638.8H639.5V147.3H640.3H640.8V148.1H641.4H641.9V148.5H642.5H643.2V149.2H643.9H644.4V150.0H645.0H645.2V149.9H645.3H646.1V150.7H646.8H647.0V150.4H647.1H647.5V151.1H647.9H648.2V151.4H648.6H649.3V152.1H650.0H650.5V152.8H651.1H651.6V153.3H652.1H652.8V153.8H653.6H654.2V154.8H654.9H655.4V155.3H656.0H656.3V155.4H656.7H657.0V156.1H657.3H658.0V157.3H658.7H659.2V157.6H659.8H660.5V158.0H661.1H661.5V159.1H661.8H662.5V159.8H663.2H663.6H663.9V160.5H664.2H664.8V161.5H665.5H666.1V162.3H666.8H667.1H667.4V162.8H667.7H667.9V163.0H668.0H668.5V164.0H669.0H669.5V164.8H670.0H670.4V165.6H670.9H671.2V165.9H671.6H671.7V166.2H671.9H672.2V166.5H672.5H672.9V168.2H673.4H673.7V169.0H674.0H674.3V169.8H674.7H675.0V170.9H675.3H675.5V171.6H675.7H675.8V172.1H676.0H676.1V172.2H676.2H676.4V172.9H676.6H676.7V173.8H676.8H676.9V174.1H677.1H677.2V175.0H677.4H677.5V175.6H677.7H677.9V176.3H678.0H678.3V178.0H678.6H678.9V179.0H679.1H679.4V180.6H679.7H680.0V181.6H680.2H680.4V182.4H680.5H680.7V183.2H680.8H681.1V184.3H681.3H681.4V184.4H681.4H681.5V184.8H681.6" stroke="#a9c4ff" stroke-width="0.48" fill="none" stroke-linejoin="round"/><path d="M535.4 133.5H536.6H536.8V133.7H537.0H537.6V133.5H538.2H538.4V134.2H538.6H539.0V133.5H539.4H539.8V134.0H540.2H541.3H541.5V134.1H541.7H542.0V135.8H542.4H542.6V136.2H542.7H543.1V138.1H543.4H543.7V139.1H544.0H544.1V138.8H544.2H544.4V140.1H544.6H544.9V140.5H545.3H545.6V142.2H545.9H546.3V142.9H546.6H547.2V143.7H547.8H548.0V143.2H548.2H548.4V143.4H548.6H549.3V143.4H550.1H550.5V143.7H550.9H551.5V142.3H552.1H552.5V142.7H552.9H553.1V142.9H553.3H554.9H555.6V142.7H556.4H556.7V144.2H557.1H557.3V143.9H557.5H558.2V144.0H558.9H559.3V144.4H559.6H560.4V145.4H561.1H561.4V145.6H561.8H562.3V146.2H562.9H563.0V147.3H563.2H563.5V148.1H563.7H564.0H564.4V149.2H564.9H565.4V149.8H566.0H566.1V150.1H566.3H566.9V150.1H567.5H568.3V151.3H569.1H569.5V150.8H569.9H570.5V150.5H571.1H571.7V151.2H572.3H572.7V150.9H573.1H573.9V151.3H574.7H575.5V151.7H576.3H576.7V151.5H577.1H577.2V151.4H577.4H577.6V151.9H577.8H578.5V152.6H579.2H579.8V153.0H580.3H580.8V153.4H581.4H581.7V153.9H582.1H582.3V154.1H582.5H582.6V154.8H582.8H583.0V154.6H583.2H584.0V154.8H584.8H585.6V153.9H586.4H586.8V154.7H587.2H587.8V154.3H588.4H589.0V154.9H589.6H590.4V154.9H591.2H592.0V154.5H592.8H593.0V154.6H593.2H594.0V154.5H594.8H596.0H596.4V154.4H596.8H597.6V154.4H598.4H598.6V155.1H598.8H599.6V154.7H600.4H601.2V154.4H602.0H602.2V154.9H602.4H603.2H604.0V154.7H604.8H605.6V154.6H606.4H607.0V154.4H607.6H608.4V154.7H609.2H609.4V154.5H609.6H610.0V154.7H610.4H612.0H612.2V154.4H612.4H612.8V154.7H613.2H613.4V154.6H613.6H614.2V154.8H614.8H615.6V154.6H616.4H617.0V154.3H617.6H618.4V155.3H619.2H619.4V154.8H619.6H620.0V154.6H620.4H621.2V154.9H622.0H622.8V154.8H623.6H624.0V155.2H624.4H624.6V155.0H624.8H625.2V155.4H625.5H626.3V155.7H627.1H627.3V155.6H627.5H627.9V156.5H628.3H628.7V155.9H629.1H629.5V156.7H629.9H630.7V156.8H631.4H632.0V156.9H632.6H633.4V157.6H634.1H634.5V158.3H634.9H635.7V158.1H636.5H636.8V158.9H637.2H637.8V158.9H638.4H638.8V159.3H639.2H639.5V159.2H639.9H640.1V159.5H640.3H641.1V159.9H641.9H642.2V160.3H642.6H643.4V160.7H644.2H644.7V161.0H645.3H645.5V160.9H645.7H646.5V161.3H647.2H648.0V161.7H648.8H649.3V162.1H649.9H650.3V162.6H650.7H651.4V163.0H652.2H652.6V163.0H653.0H653.7V164.0H654.4H655.1V165.1H655.8H656.0V164.7H656.2H656.5V165.1H656.9H657.6V165.8H658.3H659.0V166.6H659.8H660.1V167.2H660.5H660.8V167.4H661.2H661.9V167.9H662.6H662.8V168.1H663.0H663.2V168.4H663.3H663.9V168.8H664.4H664.7V169.5H665.1H665.6V170.1H666.1H666.4V170.5H666.8H667.3V170.9H667.8H668.3V171.7H668.8H669.3V172.4H669.8H670.0V172.8H670.2H670.7V173.4H671.2H671.9V174.1H672.5H673.1V175.4H673.7H673.9H674.3V176.4H674.8H674.9V176.9H675.0H675.6V177.8H676.1H676.4V178.4H676.7H677.2V179.3H677.8H678.1V180.2H678.4H678.8V181.7H679.3H679.4V181.9H679.6H679.9V182.8H680.2H680.6V183.8H680.9H681.1V184.5H681.4H681.5V184.8H681.6" stroke="#cfa3bb" stroke-width="0.48" fill="none" stroke-linejoin="round"/><path d="M538.0 133.5V133.9V133.8V135.2V136.5V137.4V138.9V140.1V140.4V142.7V143.1V144.3V145.5V147.2V146.9V147.8V148.2V148.6H538.4V149.3H538.6H538.8V147.8H539.0H539.1H539.2V146.3H539.3H539.5V145.7H539.6H539.6V144.9H539.7H539.8V144.8H540.0H540.0V144.6H540.1H540.4V142.2H540.6H540.8V141.9H541.0H541.3V140.0H541.7H542.1V139.7H542.5H542.8V138.8H543.1H543.3V138.4H543.6H544.1V139.6H544.6H545.0V139.9H545.5H545.9V140.1H546.2H546.9V140.5H547.7H547.9V140.4H548.1H548.7V141.7H549.3H549.5V140.6H549.7H550.3V141.3H550.9H551.1V140.7H551.3H551.9V140.9H552.5H552.9V141.9H553.2H553.8V141.9H554.4H554.8V142.3H555.2H555.4V142.2H555.6H556.2V142.7H556.7H557.1V142.6H557.5H558.0V143.1H558.6H559.2V143.7H559.7H560.1H560.7V144.0H561.2H561.4V144.3H561.6H562.4V144.1H563.1H563.7V144.9H564.2H564.8V145.2H565.3H565.7V146.5H566.0H566.2V146.4H566.4H566.7V146.6H567.1H567.5V146.7H567.8H568.2H568.9V147.6H569.6H570.0V148.1H570.3H570.9V148.5H571.5H571.9V148.2H572.3H573.1V149.4H573.9H574.1V148.0H574.3H575.1V148.3H575.8H576.0V148.6H576.2H576.6V149.0H577.0H577.4V149.2H577.8H578.2V149.1H578.6H578.8V149.0H579.0H579.8V149.3H580.6H580.8V149.2H581.0H581.4V149.3H581.8H582.0V150.5H582.2H582.4V150.1H582.6H583.0V150.0H583.4H584.0V150.3H584.6H585.0H585.3V150.5H585.7H586.5H587.3V151.0H588.1H588.9V150.9H589.7H590.3V151.5H590.9H592.1H592.3V151.6H592.5H593.0V151.7H593.6H594.4V152.0H595.2H596.0V151.8H596.8H597.4V152.3H598.0H598.8V152.4H599.6H600.4V152.7H601.2H601.8V152.9H602.4H602.6V152.4H602.8H603.4V152.0H604.0H604.4V152.9H604.8H605.6V153.2H606.4H606.6V153.4H606.8H607.6V152.6H608.4H609.0V152.9H609.6H610.2V152.6H610.8H611.0V153.2H611.2H611.6V153.1H612.0H612.6V153.8H613.2H614.0V153.1H614.8H615.4V152.8H616.0H616.6V153.3H617.2H618.8H619.6H620.1V153.7H620.7H621.3V154.2H621.9H622.3V154.0H622.7H623.0V154.8H623.4H623.8V154.4H624.2H624.4V154.7H624.6H625.3V155.2H626.1H626.5V155.7H626.9H627.7V155.9H628.4H628.8V156.0H629.2H629.6V156.2H630.0H630.4H630.9V157.1H631.5H631.7V156.8H631.9H632.3V157.0H632.7H633.4V157.1H634.2H635.0V158.0H635.7H635.9V158.2H636.1H636.7V158.2H637.3H638.1V158.9H638.8H639.6V159.2H640.4H641.1V159.8H641.9H642.7V160.0H643.4H644.0V160.6H644.6H644.8V160.7H645.0H645.2V160.2H645.4H646.1V161.3H646.9H647.3V161.0H647.7H648.1V161.5H648.4H649.0V161.8H649.6H650.0V162.1H650.4H651.1H651.5V162.4H651.9H652.7V163.0H653.4H653.8V163.5H654.1H654.7V164.0H655.2H655.8V164.4H656.3H656.7V164.9H657.0H657.4V164.7H657.7H658.3V165.5H658.8H659.4V166.1H659.9H660.4V167.0H661.0H661.2V166.9H661.3H661.7V167.1H662.1H662.6V167.6H663.2H663.5V168.1H663.9H664.2V168.6H664.5H665.2V169.4H665.9H666.4V170.1H666.9H667.4V170.3H667.9H668.1V170.7H668.2H668.7V171.6H669.2H669.7V172.0H670.2H670.4V172.3H670.6H670.9H671.6V173.6H672.3H672.6V173.9H672.8H673.4V175.1H673.9H674.1V175.5H674.2H674.8V176.6H675.3H675.7V177.6H676.2H676.4H676.8V178.7H677.3H677.7V179.2H678.1H678.4V180.0H678.6H679.1V181.5H679.5H679.6V182.0H679.7H679.9V182.5H680.1H680.5V183.7H681.0H681.3V184.8H681.6" stroke="#98bcc6" stroke-width="0.48" fill="none" stroke-linejoin="round"/><path d="M535.4 133.5H536.6H537.4V133.7H538.2H538.8V133.5H539.4H541.0H542.2H542.4V134.0H542.6H543.4V133.5H544.2H544.8V134.1H545.4H546.0V133.5H546.6H547.4H548.6H549.4H550.2H551.8H552.2H553.0H553.8H554.0V133.7H554.2H554.4V133.5H554.6H555.0V133.8H555.4H556.2V133.9H557.0H557.6V133.5H558.2H558.6V133.7H559.0H559.2V133.6H559.4H559.8V133.5H560.2H561.8H562.2V134.1H562.6H563.4V133.5H564.2H564.8V133.8H565.4H565.6V133.5H565.8H567.4H567.8V133.9H568.2H568.4V134.2H568.6H569.4V133.8H570.2H570.8V133.6H571.4H571.6V133.5H571.8H572.2V133.7H572.6H573.0V133.6H573.4H573.6V133.8H573.8H575.0H575.8V133.9H576.6H577.2V134.2H577.8H578.0V134.1H578.2H579.0V134.6H579.8H580.4V134.3H581.0H581.2V134.5H581.4H582.2V134.3H583.0H583.8V134.6H584.6H585.4V135.1H586.2H587.0V135.0H587.8H588.4V134.8H589.0H589.2V135.1H589.4H590.2V134.3H591.0H591.6V134.5H592.2H593.0V134.8H593.8H594.6V134.9H595.4H596.0V135.4H596.6H596.8V135.2H597.0H597.8V134.9H598.6H598.8V135.3H599.0H599.4V135.5H599.8H600.2V135.1H600.6H600.8V135.0H601.0H601.4V135.2H601.8H602.4V135.4H603.0H603.2V135.0H603.4H604.0V135.6H604.6H604.8V135.2H605.0H605.2V134.8H605.4H606.2V135.7H607.0H607.4V135.2H607.8H607.9V135.7H608.1H608.7V135.6H609.3H609.9V135.8H610.5H611.1V135.6H611.7H612.5V136.0H613.3H613.7V136.5H614.1H614.7V135.7H615.3H616.1V135.9H616.9H617.1V136.3H617.3H617.9V135.9H618.5H618.9V136.4H619.3H620.1V136.0H620.9H621.1V136.1H621.3H621.5V136.2H621.7H622.3V136.2H622.9H623.1V136.1H623.3H623.9V136.7H624.5H624.9V136.8H625.3H625.9V137.1H626.5H627.1V136.6H627.7H628.3V136.2H628.9H629.7V136.8H630.5H630.7V137.3H630.9H631.1V136.4H631.3H631.7V137.3H632.1H632.3V137.1H632.5H632.9V137.0H633.3H634.1V137.1H634.9H635.1V136.7H635.3H635.7V137.2H636.1H636.3V137.4H636.5H637.1V137.6H637.7H638.5H639.1V137.4H639.7H640.5V138.0H641.3H641.7V137.9H642.1H642.6V138.4H643.2H643.6V138.2H644.0H644.8V138.5H645.6H646.4V139.1H647.2H647.6V138.8H648.0H648.8V139.0H649.6H649.8V139.4H650.0H650.1V139.8H650.3H650.7V139.6H651.1H651.5V139.9H651.9H652.0V139.7H652.2H652.6V140.0H653.0H653.2V140.5H653.4H653.7V140.9H654.1H654.7V141.1H655.2H655.4V141.3H655.6H656.2V141.6H656.7H657.5V142.3H658.3H658.8V142.3H659.4H659.5V142.8H659.7H660.0V143.3H660.3H660.5V143.6H660.7H661.0V144.3H661.3H661.8V145.2H662.3H662.7V145.4H663.2H663.5V146.2H663.9H664.0V146.1H664.2H664.7V147.2H665.1H665.8V148.3H666.4H666.7V148.5H667.1H667.5V149.1H668.0H668.4V150.0H668.8H669.0V150.9H669.3H669.8V151.7H670.3H670.4V152.1H670.6H670.8V152.7H671.1H671.6V154.5H672.1H672.2V154.4H672.4H672.9V156.1H673.4H673.6V156.8H673.8H674.0V157.3H674.1H674.4V158.9H674.7H674.9V160.4H675.2H675.3V160.8H675.3H675.5V161.5H675.6H675.7V162.1H675.8H675.9V162.9H676.0H676.3V163.8H676.5H676.6V164.2H676.7H676.8V165.7H677.0H677.0V166.4H677.1H677.1V166.8H677.2H677.3V167.2H677.4H677.5V168.0H677.6H677.6V168.8H677.7H677.9V170.3H678.0H678.2V171.5H678.3H678.4H678.5V171.8H678.5H678.5V172.5H678.6H678.7V173.6H678.9H679.1V175.2H679.3H679.4V176.9H679.6H679.7V177.6H679.8H680.0V178.9H680.2H680.3V179.9H680.5H680.5V180.4H680.6H680.6V180.8H680.7H680.8V182.5H681.0H681.2V183.7H681.3H681.5V184.8H681.6" stroke="#ff9098" stroke-width="0.48" fill="none" stroke-linejoin="round"/><path d="M535.4 227.7L681.6 133.5" stroke="#333" stroke-width="0.5" stroke-dasharray="1.6 0.5" fill="none"/><path d="M535.40 133.0v1.3M535.40 228.2v-1.3M534.7 133.50h1.3M682.3 133.50h-1.3M536.86 133.0v1.3M536.86 228.2v-1.3M534.7 134.44h1.3M682.3 134.44h-1.3M538.32 133.0v1.3M538.32 228.2v-1.3M534.7 135.38h1.3M682.3 135.38h-1.3M539.79 133.0v1.3M539.79 228.2v-1.3M534.7 136.33h1.3M682.3 136.33h-1.3M541.25 133.0v1.3M541.25 228.2v-1.3M534.7 137.27h1.3M682.3 137.27h-1.3M542.71 133.0v1.3M542.71 228.2v-1.3M534.7 138.21h1.3M682.3 138.21h-1.3M544.17 133.0v1.3M544.17 228.2v-1.3M534.7 139.15h1.3M682.3 139.15h-1.3M545.63 133.0v1.3M545.63 228.2v-1.3M534.7 140.09h1.3M682.3 140.09h-1.3M547.10 133.0v1.3M547.10 228.2v-1.3M534.7 141.04h1.3M682.3 141.04h-1.3M548.56 133.0v1.3M548.56 228.2v-1.3M534.7 141.98h1.3M682.3 141.98h-1.3M550.02 133.0v1.3M550.02 228.2v-1.3M534.7 142.92h1.3M682.3 142.92h-1.3M551.48 133.0v1.3M551.48 228.2v-1.3M534.7 143.86h1.3M682.3 143.86h-1.3M552.94 133.0v1.3M552.94 228.2v-1.3M534.7 144.80h1.3M682.3 144.80h-1.3M554.41 133.0v1.3M554.41 228.2v-1.3M534.7 145.75h1.3M682.3 145.75h-1.3M555.87 133.0v1.3M555.87 228.2v-1.3M534.7 146.69h1.3M682.3 146.69h-1.3M557.33 133.0v1.3M557.33 228.2v-1.3M534.7 147.63h1.3M682.3 147.63h-1.3M558.79 133.0v1.3M558.79 228.2v-1.3M534.7 148.57h1.3M682.3 148.57h-1.3M560.25 133.0v1.3M560.25 228.2v-1.3M534.7 149.51h1.3M682.3 149.51h-1.3M561.72 133.0v1.3M561.72 228.2v-1.3M534.7 150.46h1.3M682.3 150.46h-1.3M563.18 133.0v1.3M563.18 228.2v-1.3M534.7 151.40h1.3M682.3 151.40h-1.3M564.64 133.0v1.3M564.64 228.2v-1.3M534.7 152.34h1.3M682.3 152.34h-1.3M566.10 133.0v1.3M566.10 228.2v-1.3M534.7 153.28h1.3M682.3 153.28h-1.3M567.56 133.0v1.3M567.56 228.2v-1.3M534.7 154.22h1.3M682.3 154.22h-1.3M569.03 133.0v1.3M569.03 228.2v-1.3M534.7 155.17h1.3M682.3 155.17h-1.3M570.49 133.0v1.3M570.49 228.2v-1.3M534.7 156.11h1.3M682.3 156.11h-1.3M571.95 133.0v1.3M571.95 228.2v-1.3M534.7 157.05h1.3M682.3 157.05h-1.3M573.41 133.0v1.3M573.41 228.2v-1.3M534.7 157.99h1.3M682.3 157.99h-1.3M574.87 133.0v1.3M574.87 228.2v-1.3M534.7 158.93h1.3M682.3 158.93h-1.3M576.34 133.0v1.3M576.34 228.2v-1.3M534.7 159.88h1.3M682.3 159.88h-1.3M577.80 133.0v1.3M577.80 228.2v-1.3M534.7 160.82h1.3M682.3 160.82h-1.3M579.26 133.0v1.3M579.26 228.2v-1.3M534.7 161.76h1.3M682.3 161.76h-1.3M580.72 133.0v1.3M580.72 228.2v-1.3M534.7 162.70h1.3M682.3 162.70h-1.3M582.18 133.0v1.3M582.18 228.2v-1.3M534.7 163.64h1.3M682.3 163.64h-1.3M583.65 133.0v1.3M583.65 228.2v-1.3M534.7 164.59h1.3M682.3 164.59h-1.3M585.11 133.0v1.3M585.11 228.2v-1.3M534.7 165.53h1.3M682.3 165.53h-1.3M586.57 133.0v1.3M586.57 228.2v-1.3M534.7 166.47h1.3M682.3 166.47h-1.3M588.03 133.0v1.3M588.03 228.2v-1.3M534.7 167.41h1.3M682.3 167.41h-1.3M589.49 133.0v1.3M589.49 228.2v-1.3M534.7 168.35h1.3M682.3 168.35h-1.3M590.96 133.0v1.3M590.96 228.2v-1.3M534.7 169.30h1.3M682.3 169.30h-1.3M592.42 133.0v1.3M592.42 228.2v-1.3M534.7 170.24h1.3M682.3 170.24h-1.3M593.88 133.0v1.3M593.88 228.2v-1.3M534.7 171.18h1.3M682.3 171.18h-1.3M595.34 133.0v1.3M595.34 228.2v-1.3M534.7 172.12h1.3M682.3 172.12h-1.3M596.80 133.0v1.3M596.80 228.2v-1.3M534.7 173.06h1.3M682.3 173.06h-1.3M598.27 133.0v1.3M598.27 228.2v-1.3M534.7 174.01h1.3M682.3 174.01h-1.3M599.73 133.0v1.3M599.73 228.2v-1.3M534.7 174.95h1.3M682.3 174.95h-1.3M601.19 133.0v1.3M601.19 228.2v-1.3M534.7 175.89h1.3M682.3 175.89h-1.3M602.65 133.0v1.3M602.65 228.2v-1.3M534.7 176.83h1.3M682.3 176.83h-1.3M604.11 133.0v1.3M604.11 228.2v-1.3M534.7 177.77h1.3M682.3 177.77h-1.3M605.58 133.0v1.3M605.58 228.2v-1.3M534.7 178.72h1.3M682.3 178.72h-1.3M607.04 133.0v1.3M607.04 228.2v-1.3M534.7 179.66h1.3M682.3 179.66h-1.3M608.50 133.0v1.3M608.50 228.2v-1.3M534.7 180.60h1.3M682.3 180.60h-1.3M609.96 133.0v1.3M609.96 228.2v-1.3M534.7 181.54h1.3M682.3 181.54h-1.3M611.42 133.0v1.3M611.42 228.2v-1.3M534.7 182.48h1.3M682.3 182.48h-1.3M612.89 133.0v1.3M612.89 228.2v-1.3M534.7 183.43h1.3M682.3 183.43h-1.3M614.35 133.0v1.3M614.35 228.2v-1.3M534.7 184.37h1.3M682.3 184.37h-1.3M615.81 133.0v1.3M615.81 228.2v-1.3M534.7 185.31h1.3M682.3 185.31h-1.3M617.27 133.0v1.3M617.27 228.2v-1.3M534.7 186.25h1.3M682.3 186.25h-1.3M618.73 133.0v1.3M618.73 228.2v-1.3M534.7 187.19h1.3M682.3 187.19h-1.3M620.20 133.0v1.3M620.20 228.2v-1.3M534.7 188.14h1.3M682.3 188.14h-1.3M621.66 133.0v1.3M621.66 228.2v-1.3M534.7 189.08h1.3M682.3 189.08h-1.3M623.12 133.0v1.3M623.12 228.2v-1.3M534.7 190.02h1.3M682.3 190.02h-1.3M624.58 133.0v1.3M624.58 228.2v-1.3M534.7 190.96h1.3M682.3 190.96h-1.3M626.04 133.0v1.3M626.04 228.2v-1.3M534.7 191.90h1.3M682.3 191.90h-1.3M627.51 133.0v1.3M627.51 228.2v-1.3M534.7 192.85h1.3M682.3 192.85h-1.3M628.97 133.0v1.3M628.97 228.2v-1.3M534.7 193.79h1.3M682.3 193.79h-1.3M630.43 133.0v1.3M630.43 228.2v-1.3M534.7 194.73h1.3M682.3 194.73h-1.3M631.89 133.0v1.3M631.89 228.2v-1.3M534.7 195.67h1.3M682.3 195.67h-1.3M633.35 133.0v1.3M633.35 228.2v-1.3M534.7 196.61h1.3M682.3 196.61h-1.3M634.82 133.0v1.3M634.82 228.2v-1.3M534.7 197.56h1.3M682.3 197.56h-1.3M636.28 133.0v1.3M636.28 228.2v-1.3M534.7 198.50h1.3M682.3 198.50h-1.3M637.74 133.0v1.3M637.74 228.2v-1.3M534.7 199.44h1.3M682.3 199.44h-1.3M639.20 133.0v1.3M639.20 228.2v-1.3M534.7 200.38h1.3M682.3 200.38h-1.3M640.66 133.0v1.3M640.66 228.2v-1.3M534.7 201.32h1.3M682.3 201.32h-1.3M642.13 133.0v1.3M642.13 228.2v-1.3M534.7 202.27h1.3M682.3 202.27h-1.3M643.59 133.0v1.3M643.59 228.2v-1.3M534.7 203.21h1.3M682.3 203.21h-1.3M645.05 133.0v1.3M645.05 228.2v-1.3M534.7 204.15h1.3M682.3 204.15h-1.3M646.51 133.0v1.3M646.51 228.2v-1.3M534.7 205.09h1.3M682.3 205.09h-1.3M647.97 133.0v1.3M647.97 228.2v-1.3M534.7 206.03h1.3M682.3 206.03h-1.3M649.44 133.0v1.3M649.44 228.2v-1.3M534.7 206.98h1.3M682.3 206.98h-1.3M650.90 133.0v1.3M650.90 228.2v-1.3M534.7 207.92h1.3M682.3 207.92h-1.3M652.36 133.0v1.3M652.36 228.2v-1.3M534.7 208.86h1.3M682.3 208.86h-1.3M653.82 133.0v1.3M653.82 228.2v-1.3M534.7 209.80h1.3M682.3 209.80h-1.3M655.28 133.0v1.3M655.28 228.2v-1.3M534.7 210.74h1.3M682.3 210.74h-1.3M656.75 133.0v1.3M656.75 228.2v-1.3M534.7 211.69h1.3M682.3 211.69h-1.3M658.21 133.0v1.3M658.21 228.2v-1.3M534.7 212.63h1.3M682.3 212.63h-1.3M659.67 133.0v1.3M659.67 228.2v-1.3M534.7 213.57h1.3M682.3 213.57h-1.3M661.13 133.0v1.3M661.13 228.2v-1.3M534.7 214.51h1.3M682.3 214.51h-1.3M662.59 133.0v1.3M662.59 228.2v-1.3M534.7 215.45h1.3M682.3 215.45h-1.3M664.06 133.0v1.3M664.06 228.2v-1.3M534.7 216.40h1.3M682.3 216.40h-1.3M665.52 133.0v1.3M665.52 228.2v-1.3M534.7 217.34h1.3M682.3 217.34h-1.3M666.98 133.0v1.3M666.98 228.2v-1.3M534.7 218.28h1.3M682.3 218.28h-1.3M668.44 133.0v1.3M668.44 228.2v-1.3M534.7 219.22h1.3M682.3 219.22h-1.3M669.90 133.0v1.3M669.90 228.2v-1.3M534.7 220.16h1.3M682.3 220.16h-1.3M671.37 133.0v1.3M671.37 228.2v-1.3M534.7 221.11h1.3M682.3 221.11h-1.3M672.83 133.0v1.3M672.83 228.2v-1.3M534.7 222.05h1.3M682.3 222.05h-1.3M674.29 133.0v1.3M674.29 228.2v-1.3M534.7 222.99h1.3M682.3 222.99h-1.3M675.75 133.0v1.3M675.75 228.2v-1.3M534.7 223.93h1.3M682.3 223.93h-1.3M677.21 133.0v1.3M677.21 228.2v-1.3M534.7 224.87h1.3M682.3 224.87h-1.3M678.68 133.0v1.3M678.68 228.2v-1.3M534.7 225.82h1.3M682.3 225.82h-1.3M680.14 133.0v1.3M680.14 228.2v-1.3M534.7 226.76h1.3M682.3 226.76h-1.3M681.60 133.0v1.3M681.60 228.2v-1.3M534.7 227.70h1.3M682.3 227.70h-1.3" stroke="#c2c2c2" stroke-width="0.45" fill="none"/><rect x="534.7" y="133.0" width="147.6" height="95.2" fill="none" stroke="#868686" stroke-width="0.85"/><path d="M535.40 228.2v1.7M534.7 133.50h-1.7M550.02 228.2v1.0M534.7 142.92h-1.0M564.64 228.2v1.7M534.7 152.34h-1.7M579.26 228.2v1.0M534.7 161.76h-1.0M593.88 228.2v1.7M534.7 171.18h-1.7M608.50 228.2v1.0M534.7 180.60h-1.0M623.12 228.2v1.7M534.7 190.02h-1.7M637.74 228.2v1.0M534.7 199.44h-1.0M652.36 228.2v1.7M534.7 208.86h-1.7M666.98 228.2v1.0M534.7 218.28h-1.0M681.60 228.2v1.7M534.7 227.70h-1.7" stroke="#222" stroke-width="0.6" fill="none"/><rect x="564.6" y="193.0" width="115.8" height="32.9" rx="1.2" fill="#fff" fill-opacity="0.8" stroke="#d0d0d0" stroke-width="0.5"/><path d="M566.3 196.4h9.3" stroke="#ffe0b8" stroke-width="0.45"/><path d="M566.3 202.9h9.3" stroke="#a9c4ff" stroke-width="0.45"/><path d="M566.3 209.4h9.3" stroke="#cfa3bb" stroke-width="0.45"/><path d="M566.3 215.9h9.3" stroke="#98bcc6" stroke-width="0.45"/><path d="M566.3 222.3h9.3" stroke="#ff9098" stroke-width="0.45"/></g>
</g>
<g class="x">
<g><text class="t" transform="translate(18.40 110.60) matrix(1 0.0005 0 1 0 0)" text-anchor="middle">0.0</text><text class="t" transform="translate(14.40 104.85) matrix(1 0.0005 0 1 0 0)" text-anchor="end">0.0</text><text class="t" transform="translate(47.64 110.60) matrix(1 0.0005 0 1 0 0)" text-anchor="middle">0.2</text><text class="t" transform="translate(14.40 86.01) matrix(1 0.0005 0 1 0 0)" text-anchor="end">0.2</text><text class="t" transform="translate(76.88 110.60) matrix(1 0.0005 0 1 0 0)" text-anchor="middle">0.4</text><text class="t" transform="translate(14.40 67.17) matrix(1 0.0005 0 1 0 0)" text-anchor="end">0.4</text><text class="t" transform="translate(106.12 110.60) matrix(1 0.0005 0 1 0 0)" text-anchor="middle">0.6</text><text class="t" transform="translate(14.40 48.33) matrix(1 0.0005 0 1 0 0)" text-anchor="end">0.6</text><text class="t" transform="translate(135.36 110.60) matrix(1 0.0005 0 1 0 0)" text-anchor="middle">0.8</text><text class="t" transform="translate(14.40 29.49) matrix(1 0.0005 0 1 0 0)" text-anchor="end">0.8</text><text class="t" transform="translate(164.60 110.60) matrix(1 0.0005 0 1 0 0)" text-anchor="middle">1.0</text><text class="t" transform="translate(14.40 10.65) matrix(1 0.0005 0 1 0 0)" text-anchor="end">1.0</text><text class="a" transform="translate(91.50 117.00) matrix(1 0.0005 0 1 0 0)" text-anchor="middle"><tspan font-style="normal">1 − </tspan>Specifity</text><text class="a" transform="translate(4.30 56.00) rotate(-89.97)" text-anchor="middle">Sensitivity</text><text class="h" transform="translate(91.20 5.50) matrix(1 0.0005 0 1 0 0)" text-anchor="middle">Dataset 1</text><text class="l" transform="translate(57.70 73.45) matrix(1 0.0005 0 1 0 0)">BLOSUM62, AUC=0.8817</text><text class="l" transform="translate(57.70 79.92) matrix(1 0.0005 0 1 0 0)">DDE, AUC=0.8552</text><text class="l" transform="translate(57.70 86.39) matrix(1 0.0005 0 1 0 0)">DPC, AUC=0.7433</text><text class="l" transform="translate(57.70 92.86) matrix(1 0.0005 0 1 0 0)">CKSAAP, AUC=0.7450</text><text class="l" transform="translate(57.70 99.33) matrix(1 0.0005 0 1 0 0)">BLOSUM62+DDE+DPC+CKSAAP, AUC=0.9048</text></g>
<g><text class="t" transform="translate(191.10 110.60) matrix(1 0.0005 0 1 0 0)" text-anchor="middle">0.0</text><text class="t" transform="translate(187.10 104.85) matrix(1 0.0005 0 1 0 0)" text-anchor="end">0.0</text><text class="t" transform="translate(220.34 110.60) matrix(1 0.0005 0 1 0 0)" text-anchor="middle">0.2</text><text class="t" transform="translate(187.10 86.01) matrix(1 0.0005 0 1 0 0)" text-anchor="end">0.2</text><text class="t" transform="translate(249.58 110.60) matrix(1 0.0005 0 1 0 0)" text-anchor="middle">0.4</text><text class="t" transform="translate(187.10 67.17) matrix(1 0.0005 0 1 0 0)" text-anchor="end">0.4</text><text class="t" transform="translate(278.82 110.60) matrix(1 0.0005 0 1 0 0)" text-anchor="middle">0.6</text><text class="t" transform="translate(187.10 48.33) matrix(1 0.0005 0 1 0 0)" text-anchor="end">0.6</text><text class="t" transform="translate(308.06 110.60) matrix(1 0.0005 0 1 0 0)" text-anchor="middle">0.8</text><text class="t" transform="translate(187.10 29.49) matrix(1 0.0005 0 1 0 0)" text-anchor="end">0.8</text><text class="t" transform="translate(337.30 110.60) matrix(1 0.0005 0 1 0 0)" text-anchor="middle">1.0</text><text class="t" transform="translate(187.10 10.65) matrix(1 0.0005 0 1 0 0)" text-anchor="end">1.0</text><text class="a" transform="translate(264.20 117.00) matrix(1 0.0005 0 1 0 0)" text-anchor="middle"><tspan font-style="normal">1 − </tspan>Specifity</text><text class="a" transform="translate(177.00 56.00) rotate(-89.97)" text-anchor="middle">Sensitivity</text><text class="h" transform="translate(263.90 5.50) matrix(1 0.0005 0 1 0 0)" text-anchor="middle">Dataset 2</text><text class="l" transform="translate(230.40 73.45) matrix(1 0.0005 0 1 0 0)">BLOSUM62, AUC=0.8473</text><text class="l" transform="translate(230.40 79.92) matrix(1 0.0005 0 1 0 0)">DDE, AUC=0.8597</text><text class="l" transform="translate(230.40 86.39) matrix(1 0.0005 0 1 0 0)">DPC, AUC=0.7629</text><text class="l" transform="translate(230.40 92.86) matrix(1 0.0005 0 1 0 0)">CKSAAP, AUC=0.7467</text><text class="l" transform="translate(230.40 99.33) matrix(1 0.0005 0 1 0 0)">BLOSUM62+DDE+DPC+CKSAAP, AUC=0.8554</text></g>
<g><text class="t" transform="translate(363.60 110.60) matrix(1 0.0005 0 1 0 0)" text-anchor="middle">0.0</text><text class="t" transform="translate(359.60 104.85) matrix(1 0.0005 0 1 0 0)" text-anchor="end">0.0</text><text class="t" transform="translate(392.84 110.60) matrix(1 0.0005 0 1 0 0)" text-anchor="middle">0.2</text><text class="t" transform="translate(359.60 86.01) matrix(1 0.0005 0 1 0 0)" text-anchor="end">0.2</text><text class="t" transform="translate(422.08 110.60) matrix(1 0.0005 0 1 0 0)" text-anchor="middle">0.4</text><text class="t" transform="translate(359.60 67.17) matrix(1 0.0005 0 1 0 0)" text-anchor="end">0.4</text><text class="t" transform="translate(451.32 110.60) matrix(1 0.0005 0 1 0 0)" text-anchor="middle">0.6</text><text class="t" transform="translate(359.60 48.33) matrix(1 0.0005 0 1 0 0)" text-anchor="end">0.6</text><text class="t" transform="translate(480.56 110.60) matrix(1 0.0005 0 1 0 0)" text-anchor="middle">0.8</text><text class="t" transform="translate(359.60 29.49) matrix(1 0.0005 0 1 0 0)" text-anchor="end">0.8</text><text class="t" transform="translate(509.80 110.60) matrix(1 0.0005 0 1 0 0)" text-anchor="middle">1.0</text><text class="t" transform="translate(359.60 10.65) matrix(1 0.0005 0 1 0 0)" text-anchor="end">1.0</text><text class="a" transform="translate(436.70 117.00) matrix(1 0.0005 0 1 0 0)" text-anchor="middle"><tspan font-style="normal">1 − </tspan>Specifity</text><text class="a" transform="translate(349.50 56.00) rotate(-89.97)" text-anchor="middle">Sensitivity</text><text class="h" transform="translate(436.40 5.50) matrix(1 0.0005 0 1 0 0)" text-anchor="middle">Dataset 3</text><text class="l" transform="translate(402.90 73.45) matrix(1 0.0005 0 1 0 0)">BLOSUM62, AUC=0.9022</text><text class="l" transform="translate(402.90 79.92) matrix(1 0.0005 0 1 0 0)">DDE, AUC=0.9307</text><text class="l" transform="translate(402.90 86.39) matrix(1 0.0005 0 1 0 0)">DPC, AUC=0.8269</text><text class="l" transform="translate(402.90 92.86) matrix(1 0.0005 0 1 0 0)">CKSAAP, AUC=0.8182</text><text class="l" transform="translate(402.90 99.33) matrix(1 0.0005 0 1 0 0)">BLOSUM62+DDE+DPC+CKSAAP, AUC=0.9448</text></g>
<g><text class="t" transform="translate(535.40 110.60) matrix(1 0.0005 0 1 0 0)" text-anchor="middle">0.0</text><text class="t" transform="translate(531.40 104.85) matrix(1 0.0005 0 1 0 0)" text-anchor="end">0.0</text><text class="t" transform="translate(564.64 110.60) matrix(1 0.0005 0 1 0 0)" text-anchor="middle">0.2</text><text class="t" transform="translate(531.40 86.01) matrix(1 0.0005 0 1 0 0)" text-anchor="end">0.2</text><text class="t" transform="translate(593.88 110.60) matrix(1 0.0005 0 1 0 0)" text-anchor="middle">0.4</text><text class="t" transform="translate(531.40 67.17) matrix(1 0.0005 0 1 0 0)" text-anchor="end">0.4</text><text class="t" transform="translate(623.12 110.60) matrix(1 0.0005 0 1 0 0)" text-anchor="middle">0.6</text><text class="t" transform="translate(531.40 48.33) matrix(1 0.0005 0 1 0 0)" text-anchor="end">0.6</text><text class="t" transform="translate(652.36 110.60) matrix(1 0.0005 0 1 0 0)" text-anchor="middle">0.8</text><text class="t" transform="translate(531.40 29.49) matrix(1 0.0005 0 1 0 0)" text-anchor="end">0.8</text><text class="t" transform="translate(681.60 110.60) matrix(1 0.0005 0 1 0 0)" text-anchor="middle">1.0</text><text class="t" transform="translate(531.40 10.65) matrix(1 0.0005 0 1 0 0)" text-anchor="end">1.0</text><text class="a" transform="translate(608.50 117.00) matrix(1 0.0005 0 1 0 0)" text-anchor="middle"><tspan font-style="normal">1 − </tspan>Specifity</text><text class="a" transform="translate(521.30 56.00) rotate(-89.97)" text-anchor="middle">Sensitivity</text><text class="h" transform="translate(608.20 5.50) matrix(1 0.0005 0 1 0 0)" text-anchor="middle">Dataset 4</text><text class="l" transform="translate(574.70 73.45) matrix(1 0.0005 0 1 0 0)">BLOSUM62, AUC=0.9161</text><text class="l" transform="translate(574.70 79.92) matrix(1 0.0005 0 1 0 0)">DDE, AUC=0.8884</text><text class="l" transform="translate(574.70 86.39) matrix(1 0.0005 0 1 0 0)">DPC, AUC=0.8136</text><text class="l" transform="translate(574.70 92.86) matrix(1 0.0005 0 1 0 0)">CKSAAP, AUC=0.8229</text><text class="l" transform="translate(574.70 99.33) matrix(1 0.0005 0 1 0 0)">BLOSUM62+DDE+DPC+CKSAAP, AUC=0.9510</text></g>
<g><text class="t" transform="translate(18.40 235.20) matrix(1 0.0005 0 1 0 0)" text-anchor="middle">0.0</text><text class="t" transform="translate(14.40 229.45) matrix(1 0.0005 0 1 0 0)" text-anchor="end">0.0</text><text class="t" transform="translate(47.64 235.20) matrix(1 0.0005 0 1 0 0)" text-anchor="middle">0.2</text><text class="t" transform="translate(14.40 210.61) matrix(1 0.0005 0 1 0 0)" text-anchor="end">0.2</text><text class="t" transform="translate(76.88 235.20) matrix(1 0.0005 0 1 0 0)" text-anchor="middle">0.4</text><text class="t" transform="translate(14.40 191.77) matrix(1 0.0005 0 1 0 0)" text-anchor="end">0.4</text><text class="t" transform="translate(106.12 235.20) matrix(1 0.0005 0 1 0 0)" text-anchor="middle">0.6</text><text class="t" transform="translate(14.40 172.93) matrix(1 0.0005 0 1 0 0)" text-anchor="end">0.6</text><text class="t" transform="translate(135.36 235.20) matrix(1 0.0005 0 1 0 0)" text-anchor="middle">0.8</text><text class="t" transform="translate(14.40 154.09) matrix(1 0.0005 0 1 0 0)" text-anchor="end">0.8</text><text class="t" transform="translate(164.60 235.20) matrix(1 0.0005 0 1 0 0)" text-anchor="middle">1.0</text><text class="t" transform="translate(14.40 135.25) matrix(1 0.0005 0 1 0 0)" text-anchor="end">1.0</text><text class="a" transform="translate(91.50 241.60) matrix(1 0.0005 0 1 0 0)" text-anchor="middle">Recall</text><text class="a" transform="translate(4.30 180.60) rotate(-89.97)" text-anchor="middle">Precision</text><text class="h" transform="translate(91.20 129.80) matrix(1 0.0005 0 1 0 0)" text-anchor="middle">Dataset 1</text><text class="l" transform="translate(61.50 198.05) matrix(1 0.0005 0 1 0 0)">BLOSUM62, AP=0.8937</text><text class="l" transform="translate(61.50 204.52) matrix(1 0.0005 0 1 0 0)">DDE, AP=0.8703</text><text class="l" transform="translate(61.50 210.99) matrix(1 0.0005 0 1 0 0)">DPC, AP=0.7801</text><text class="l" transform="translate(61.50 217.46) matrix(1 0.0005 0 1 0 0)">CKSAAP, AP=0.7900</text><text class="l" transform="translate(61.50 223.93) matrix(1 0.0005 0 1 0 0)">BLOSUM62+DDE+DPC+CKSAAP, AP=0.9109</text></g>
<g><text class="t" transform="translate(191.10 235.20) matrix(1 0.0005 0 1 0 0)" text-anchor="middle">0.0</text><text class="t" transform="translate(187.10 229.45) matrix(1 0.0005 0 1 0 0)" text-anchor="end">0.0</text><text class="t" transform="translate(220.34 235.20) matrix(1 0.0005 0 1 0 0)" text-anchor="middle">0.2</text><text class="t" transform="translate(187.10 210.61) matrix(1 0.0005 0 1 0 0)" text-anchor="end">0.2</text><text class="t" transform="translate(249.58 235.20) matrix(1 0.0005 0 1 0 0)" text-anchor="middle">0.4</text><text class="t" transform="translate(187.10 191.77) matrix(1 0.0005 0 1 0 0)" text-anchor="end">0.4</text><text class="t" transform="translate(278.82 235.20) matrix(1 0.0005 0 1 0 0)" text-anchor="middle">0.6</text><text class="t" transform="translate(187.10 172.93) matrix(1 0.0005 0 1 0 0)" text-anchor="end">0.6</text><text class="t" transform="translate(308.06 235.20) matrix(1 0.0005 0 1 0 0)" text-anchor="middle">0.8</text><text class="t" transform="translate(187.10 154.09) matrix(1 0.0005 0 1 0 0)" text-anchor="end">0.8</text><text class="t" transform="translate(337.30 235.20) matrix(1 0.0005 0 1 0 0)" text-anchor="middle">1.0</text><text class="t" transform="translate(187.10 135.25) matrix(1 0.0005 0 1 0 0)" text-anchor="end">1.0</text><text class="a" transform="translate(264.20 241.60) matrix(1 0.0005 0 1 0 0)" text-anchor="middle">Recall</text><text class="a" transform="translate(177.00 180.60) rotate(-89.97)" text-anchor="middle">Precision</text><text class="h" transform="translate(263.90 129.80) matrix(1 0.0005 0 1 0 0)" text-anchor="middle">Dataset 2</text><text class="l" transform="translate(234.20 198.05) matrix(1 0.0005 0 1 0 0)">BLOSUM62, AP=0.8518</text><text class="l" transform="translate(234.20 204.52) matrix(1 0.0005 0 1 0 0)">DDE, AP=0.8682</text><text class="l" transform="translate(234.20 210.99) matrix(1 0.0005 0 1 0 0)">DPC, AP=0.7733</text><text class="l" transform="translate(234.20 217.46) matrix(1 0.0005 0 1 0 0)">CKSAAP, AP=0.7332</text><text class="l" transform="translate(234.20 223.93) matrix(1 0.0005 0 1 0 0)">BLOSUM62+DDE+DPC+CKSAAP, AP=0.8890</text></g>
<g><text class="t" transform="translate(363.60 235.20) matrix(1 0.0005 0 1 0 0)" text-anchor="middle">0.0</text><text class="t" transform="translate(359.60 229.45) matrix(1 0.0005 0 1 0 0)" text-anchor="end">0.0</text><text class="t" transform="translate(392.84 235.20) matrix(1 0.0005 0 1 0 0)" text-anchor="middle">0.2</text><text class="t" transform="translate(359.60 210.61) matrix(1 0.0005 0 1 0 0)" text-anchor="end">0.2</text><text class="t" transform="translate(422.08 235.20) matrix(1 0.0005 0 1 0 0)" text-anchor="middle">0.4</text><text class="t" transform="translate(359.60 191.77) matrix(1 0.0005 0 1 0 0)" text-anchor="end">0.4</text><text class="t" transform="translate(451.32 235.20) matrix(1 0.0005 0 1 0 0)" text-anchor="middle">0.6</text><text class="t" transform="translate(359.60 172.93) matrix(1 0.0005 0 1 0 0)" text-anchor="end">0.6</text><text class="t" transform="translate(480.56 235.20) matrix(1 0.0005 0 1 0 0)" text-anchor="middle">0.8</text><text class="t" transform="translate(359.60 154.09) matrix(1 0.0005 0 1 0 0)" text-anchor="end">0.8</text><text class="t" transform="translate(509.80 235.20) matrix(1 0.0005 0 1 0 0)" text-anchor="middle">1.0</text><text class="t" transform="translate(359.60 135.25) matrix(1 0.0005 0 1 0 0)" text-anchor="end">1.0</text><text class="a" transform="translate(436.70 241.60) matrix(1 0.0005 0 1 0 0)" text-anchor="middle">Recall</text><text class="a" transform="translate(349.50 180.60) rotate(-89.97)" text-anchor="middle">Precision</text><text class="h" transform="translate(436.40 129.80) matrix(1 0.0005 0 1 0 0)" text-anchor="middle">Dataset 3</text><text class="l" transform="translate(406.70 198.05) matrix(1 0.0005 0 1 0 0)">BLOSUM62, AP=0.8887</text><text class="l" transform="translate(406.70 204.52) matrix(1 0.0005 0 1 0 0)">DDE, AP=0.9006</text><text class="l" transform="translate(406.70 210.99) matrix(1 0.0005 0 1 0 0)">DPC, AP=0.7168</text><text class="l" transform="translate(406.70 217.46) matrix(1 0.0005 0 1 0 0)">CKSAAP, AP=0.7327</text><text class="l" transform="translate(406.70 223.93) matrix(1 0.0005 0 1 0 0)">BLOSUM62+DDE+DPC+CKSAAP, AP=0.9198</text></g>
<g><text class="t" transform="translate(535.40 235.20) matrix(1 0.0005 0 1 0 0)" text-anchor="middle">0.0</text><text class="t" transform="translate(531.40 229.45) matrix(1 0.0005 0 1 0 0)" text-anchor="end">0.0</text><text class="t" transform="translate(564.64 235.20) matrix(1 0.0005 0 1 0 0)" text-anchor="middle">0.2</text><text class="t" transform="translate(531.40 210.61) matrix(1 0.0005 0 1 0 0)" text-anchor="end">0.2</text><text class="t" transform="translate(593.88 235.20) matrix(1 0.0005 0 1 0 0)" text-anchor="middle">0.4</text><text class="t" transform="translate(531.40 191.77) matrix(1 0.0005 0 1 0 0)" text-anchor="end">0.4</text><text class="t" transform="translate(623.12 235.20) matrix(1 0.0005 0 1 0 0)" text-anchor="middle">0.6</text><text class="t" transform="translate(531.40 172.93) matrix(1 0.0005 0 1 0 0)" text-anchor="end">0.6</text><text class="t" transform="translate(652.36 235.20) matrix(1 0.0005 0 1 0 0)" text-anchor="middle">0.8</text><text class="t" transform="translate(531.40 154.09) matrix(1 0.0005 0 1 0 0)" text-anchor="end">0.8</text><text class="t" transform="translate(681.60 235.20) matrix(1 0.0005 0 1 0 0)" text-anchor="middle">1.0</text><text class="t" transform="translate(531.40 135.25) matrix(1 0.0005 0 1 0 0)" text-anchor="end">1.0</text><text class="a" transform="translate(608.50 241.60) matrix(1 0.0005 0 1 0 0)" text-anchor="middle">Recall</text><text class="a" transform="translate(521.30 180.60) rotate(-89.97)" text-anchor="middle">Precision</text><text class="h" transform="translate(608.20 129.80) matrix(1 0.0005 0 1 0 0)" text-anchor="middle">Dataset 4</text><text class="l" transform="translate(578.50 198.05) matrix(1 0.0005 0 1 0 0)">BLOSUM62, AP=0.9019</text><text class="l" transform="translate(578.50 204.52) matrix(1 0.0005 0 1 0 0)">DDE, AP=0.8871</text><text class="l" transform="translate(578.50 210.99) matrix(1 0.0005 0 1 0 0)">DPC, AP=0.7733</text><text class="l" transform="translate(578.50 217.46) matrix(1 0.0005 0 1 0 0)">CKSAAP, AP=0.7864</text><text class="l" transform="translate(578.50 223.93) matrix(1 0.0005 0 1 0 0)">BLOSUM62+DDE+DPC+CKSAAP, AP=0.9490</text></g>
</g>
</svg>
</body></html>
